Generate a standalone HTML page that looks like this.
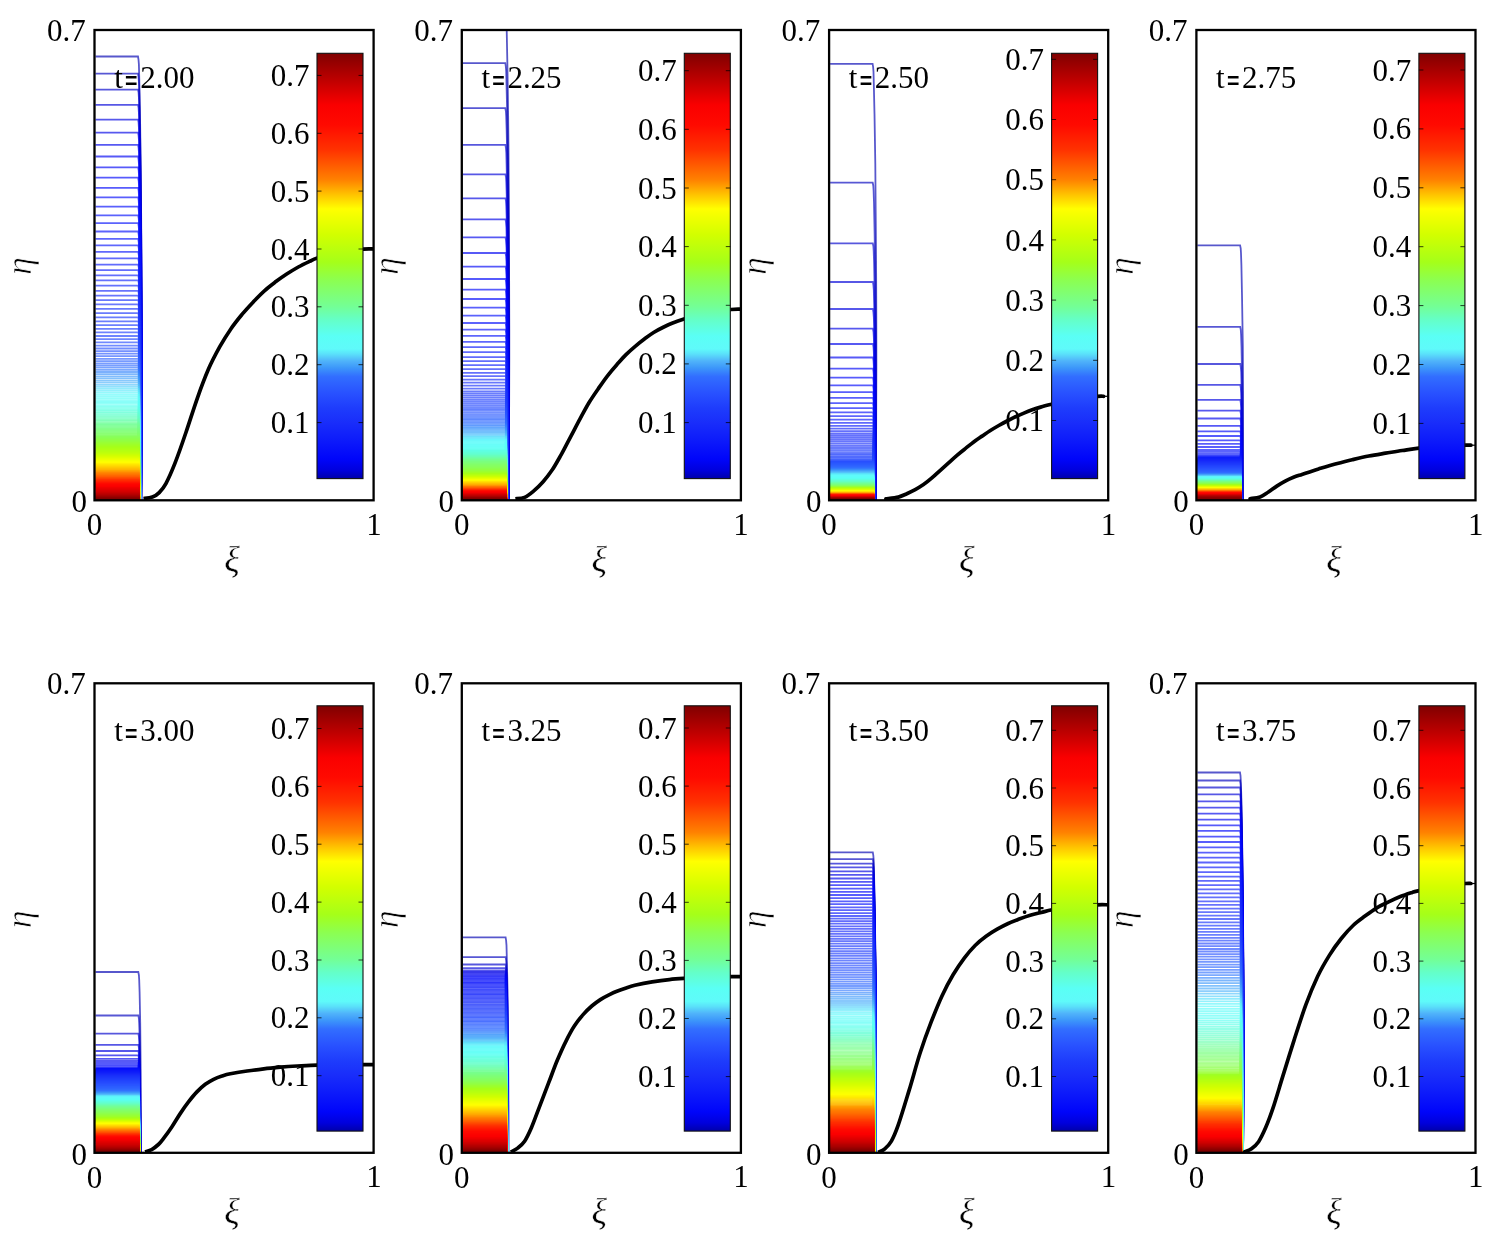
<!DOCTYPE html>
<html lang="en"><head><meta charset="utf-8"><title>Contour panels</title>
<style>html,body{margin:0;padding:0;background:#fff}svg{display:block}text{font-family:'Liberation Serif', 'DejaVu Serif', serif;fill:#000}.tk{font-size:31px;transform-box:fill-box;transform-origin:center;transform:scale(1,1.02)}.gk{font-size:36px;font-style:italic;stroke:#fff}.ax{fill:none;stroke:#000;stroke-width:2.3}.cv{fill:none;stroke:#000;stroke-width:3.7;stroke-linejoin:round}.ct path{fill:none;stroke-width:1.8;stroke-opacity:.66}.ct .a{stroke-width:1.9;stroke-opacity:.68}.ct .b{stroke-width:2.1;stroke-opacity:.8}.ct .c{stroke-width:2.2;stroke-opacity:1}</style></head><body>
<svg width="1495" height="1248" viewBox="0 0 1495 1248">
<rect width="1495" height="1248" fill="#fff"/>
<defs><linearGradient id="jet" x1="0" y1="1" x2="0" y2="0">
<stop offset="0.000" stop-color="#0000aa"/>
<stop offset="0.019" stop-color="#0000dc"/>
<stop offset="0.046" stop-color="#0005fa"/>
<stop offset="0.097" stop-color="#0f1efa"/>
<stop offset="0.131" stop-color="#192dfa"/>
<stop offset="0.165" stop-color="#1e3cfc"/>
<stop offset="0.199" stop-color="#2850ff"/>
<stop offset="0.240" stop-color="#326eff"/>
<stop offset="0.260" stop-color="#3c96fa"/>
<stop offset="0.277" stop-color="#50b4fa"/>
<stop offset="0.293" stop-color="#5ae1fa"/>
<stop offset="0.305" stop-color="#5ffafa"/>
<stop offset="0.335" stop-color="#5afff5"/>
<stop offset="0.373" stop-color="#64ffc8"/>
<stop offset="0.404" stop-color="#73ff96"/>
<stop offset="0.467" stop-color="#8cff50"/>
<stop offset="0.509" stop-color="#a5ff19"/>
<stop offset="0.573" stop-color="#d2ff00"/>
<stop offset="0.634" stop-color="#ffff00"/>
<stop offset="0.665" stop-color="#ffc800"/>
<stop offset="0.702" stop-color="#ff8200"/>
<stop offset="0.773" stop-color="#ff3200"/>
<stop offset="0.831" stop-color="#ff0a00"/>
<stop offset="0.878" stop-color="#fa0000"/>
<stop offset="0.937" stop-color="#be0000"/>
<stop offset="1.000" stop-color="#800000"/>
</linearGradient></defs>
<g id="panel1">
<clipPath id="cl0"><rect x="94.5" y="30" width="279.1" height="470.3"/></clipPath>
<g class="ct" clip-path="url(#cl0)">
<path d="M95.5 56.5H138L138.5 59.5L138.9 64.5L139.2 76.5L139.9 106.5L140.6 156.5L141.1 206.5L141.4 256.5L141.7 306.5L141.8 356.5L141.6 406.5L141.4 456.5L141.4 460.1L141.2 500.1" stroke="#0000b1"/>
<path d="M95.5 73.6H138L138.5 76.6L138.9 81.6L139.3 93.6L139.9 123.6L140.7 173.6L141.1 223.6L141.5 273.6L141.7 323.6L141.7 373.6L141.5 423.6L141.3 473.6L141.2 500.1" stroke="#0000be"/>
<path d="M95.5 89.6H138L138.6 92.6L138.9 97.6L139.3 109.6L139.9 139.6L140.7 189.6L141.2 239.6L141.5 289.6L141.7 339.6L141.6 389.6L141.5 439.6L141.2 500.1" stroke="#0000cb"/>
<path d="M95.5 104.9H138L138.6 107.9L138.9 112.9L139.3 124.9L140 154.9L140.7 204.9L141.2 254.9L141.5 304.9L141.7 354.9L141.6 404.9L141.4 454.9L141.2 500.1" stroke="#0000d8"/>
<path d="M95.5 119.7H138.1L138.6 122.7L138.9 127.7L139.3 139.7L140 169.7L140.7 219.7L141.2 269.7L141.5 319.7L141.6 369.7L141.5 419.7L141.3 469.7L141.2 500.1" stroke="#0001e0"/>
<path d="M95.5 132.6H138.1L138.6 135.6L139 140.6L139.3 152.6L140 182.6L140.7 232.6L141.2 282.6L141.5 332.6L141.6 382.6L141.5 432.6L141.3 482.6L141.2 500.1" stroke="#0002e5"/>
<path d="M95.5 144.9H138.1L138.6 147.9L139 152.9L139.3 164.9L140 194.9L140.8 244.9L141.2 294.9L141.6 344.9L141.5 394.9L141.4 444.9L141.2 500.1" stroke="#0003eb"/>
<path d="M95.5 156.5H138.1L138.6 159.5L139 164.5L139.4 176.5L140 206.5L140.8 256.5L141.3 306.5L141.5 356.5L141.5 406.5L141.3 456.5L141.2 500.1" stroke="#0003f1"/>
<path d="M95.5 167.4H138.1L138.7 170.4L139 175.4L139.4 187.4L140 217.4L140.8 267.4L141.3 317.4L141.5 367.4L141.4 417.4L141.3 467.4L141.2 500.1" stroke="#0004f6"/>
<path d="M95.5 177.7H138.1L138.7 180.7L139 185.7L139.4 197.7L140 227.7L140.8 277.7L141.3 327.7L141.5 377.7L141.4 427.7L141.3 477.7L141.2 500.1" stroke="#0006fa"/>
<path d="M95.5 187.9H138.2L138.7 190.9L139 195.9L139.4 207.9L140.1 237.9L140.8 287.9L141.3 337.9L141.4 387.9L141.3 437.9L141.2 500.1" stroke="#0208fa"/>
<path d="M95.5 197.4H138.2L138.7 200.4L139 205.4L139.4 217.4L140.1 247.4L140.8 297.4L141.3 347.4L141.4 397.4L141.3 447.4L141.2 500.1" stroke="#030bfa"/>
<path d="M95.5 206.7H138.2L138.7 209.7L139.1 214.7L139.4 226.7L140.1 256.7L140.8 306.7L141.3 356.7L141.3 406.7L141.3 456.7L141.1 500.1" stroke="#050dfa"/>
<path d="M95.5 215.3H138.2L138.7 218.3L139.1 223.3L139.4 235.3L140.1 265.3L140.8 315.3L141.3 365.3L141.3 415.3L141.2 465.3L141.1 500.1" stroke="#0610fa"/>
<path d="M95.5 223.2H138.2L138.7 226.2L139.1 231.2L139.4 243.2L140.1 273.2L140.9 323.2L141.2 373.2L141.3 423.2L141.2 473.2L141.1 500.1" stroke="#0812fa"/>
<path d="M95.5 231.5H138.2L138.7 234.5L139.1 239.5L139.5 251.5L140.1 281.5L140.9 331.5L141.2 381.5L141.2 431.5L141.2 481.5L141.1 500.1" stroke="#0914fa"/>
<path d="M95.5 238.9H138.2L138.7 241.9L139.1 246.9L139.5 258.9L140.1 288.9L140.9 338.9L141.2 388.9L141.2 438.9L141.1 500.1" stroke="#0b17fa"/>
<path d="M95.5 245.4H138.2L138.8 248.4L139.1 253.4L139.5 265.4L140.1 295.4L140.9 345.4L141.2 395.4L141.2 445.4L141.1 500.1" stroke="#0c19fa"/>
<path d="M95.5 251.8H138.2L138.8 254.8L139.1 259.8L139.5 271.8L140.1 301.8L140.9 351.8L141.1 401.8L141.2 451.8L141.1 500.1" stroke="#0e1cfa"/>
<path d="M95.5 258.3H138.2L138.8 261.3L139.1 266.3L139.5 278.3L140.1 308.3L140.9 358.3L141.1 408.3L141.1 458.3L141.1 500.1" stroke="#0f1efa"/>
<path d="M95.5 264.6H138.2L138.8 267.6L139.1 272.6L139.5 284.6L140.2 314.6L140.9 364.6L141.1 414.6L141.1 464.6L141.1 500.1" stroke="#1120fa"/>
<path d="M95.5 270.1H138.3L138.8 273.1L139.1 278.1L139.5 290.1L140.2 320.1L140.8 370.1L141.1 420.1L141.1 470.1L141.1 500.1" stroke="#1223fa"/>
<path d="M95.5 275.3H138.3L138.8 278.3L139.1 283.3L139.5 295.3L140.2 325.3L140.8 375.3L141.1 425.3L141.1 475.3L141 500.1" stroke="#1425fa"/>
<path d="M95.5 280.4H138.3L138.8 283.4L139.2 288.4L139.5 300.4L140.2 330.4L140.8 380.4L141 430.4L141.1 480.4L141 500.1" stroke="#1527fa"/>
<path d="M95.5 285.7H138.3L138.8 288.7L139.2 293.7L139.5 305.7L140.2 335.7L140.8 385.7L141 435.7L141 500.1" stroke="#1629fa"/>
<path d="M95.5 290.8H138.3L138.8 293.8L139.2 298.8L139.5 310.8L140.2 340.8L140.8 390.8L141 440.8L141 500.1" stroke="#182bfa"/>
<path d="M95.5 295.6H138.3L138.8 298.6L139.2 303.6L139.5 315.6L140.2 345.6L140.8 395.6L141 445.6L141 500.1" stroke="#192efa"/>
<path d="M95.5 300.1H138.3L138.8 303.1L139.2 308.1L139.5 320.1L140.2 350.1L140.8 400.1L141 450.1L141 500.1" stroke="#1a30fa"/>
<path d="M95.5 304.4H138.3L138.8 307.4L139.2 312.4L139.6 324.4L140.2 354.4L140.8 404.4L141 454.4L141 500.1" stroke="#1b32fb"/>
<path d="M95.5 308.8H138.3L138.8 311.8L139.2 316.8L139.6 328.8L140.2 358.8L140.7 408.8L140.9 458.8L141 500.1" stroke="#1b34fb"/>
<path d="M95.5 313.1H138.3L138.8 316.1L139.2 321.1L139.6 333.1L140.2 363.1L140.7 413.1L140.9 463.1L140.9 500.1" stroke="#1c36fb"/>
<path d="M95.5 317.4H138.3L138.8 320.4L139.2 325.4L139.6 337.4L140.2 367.4L140.7 417.4L140.9 467.4L140.9 500.1" stroke="#1d39fc"/>
<path d="M95.5 321.3H138.3L138.9 324.3L139.2 329.3L139.6 341.3L140.2 371.3L140.7 421.3L140.9 471.3L140.9 500.1" stroke="#1e3bfc"/>
<path d="M95.5 325.1H138.3L138.9 328.1L139.2 333.1L139.6 345.1L140.2 375.1L140.7 425.1L140.9 475.1L140.9 500.1" stroke="#1f3dfc"/>
<path d="M95.5 328.9H138.3L138.9 331.9L139.2 336.9L139.6 348.9L140.2 378.9L140.7 428.9L140.9 478.9L140.9 500.1" stroke="#2040fd"/>
<path d="M95.5 332.3H138.3L138.9 335.3L139.2 340.3L139.6 352.3L140.2 382.3L140.7 432.3L140.9 482.3L140.9 500.1" stroke="#2243fd"/>
<path d="M95.5 336H138.3L138.9 339L139.2 344L139.6 356L140.2 386L140.7 436L140.9 500.1" stroke="#2346fe"/>
<path d="M95.5 339.2H138.3L138.9 342.2L139.2 347.2L139.6 359.2L140.2 389.2L140.7 439.2L140.9 500.1" stroke="#2549fe"/>
<path d="M95.5 342.4H138.3L138.9 345.4L139.2 350.4L139.6 362.4L140.2 392.4L140.7 442.4L140.8 500.1" stroke="#264cfe"/>
<path d="M95.5 345.6H138.4L138.9 348.6L139.2 353.6L139.6 365.6L140.2 395.6L140.7 445.6L140.8 500.1" stroke="#284fff"/>
<path d="M95.5 348.5H138.4L138.9 351.5L139.2 356.5L139.6 368.5L140.1 398.5L140.6 448.5L140.8 500.1" stroke="#2953ff"/>
<path d="M95.5 351.1H138.4L138.9 354.1L139.2 359.1L139.6 371.1L140.1 401.1L140.6 451.1L140.8 500.1" stroke="#2a56ff"/>
<path d="M95.5 353.7H138.4L138.9 356.7L139.2 361.7L139.6 373.7L140.1 403.7L140.6 453.7L140.8 500.1" stroke="#2b5aff"/>
<path d="M95.5 356.2H138.4L138.9 359.2L139.2 364.2L139.6 376.2L140.1 406.2L140.6 456.2L140.8 500.1" stroke="#2d5eff"/>
<path d="M95.5 358.8H138.4L138.9 361.8L139.2 366.8L139.6 378.8L140.1 408.8L140.6 458.8L140.8 500.1" stroke="#2e61ff"/>
<path d="M95.5 361.2H138.4L138.8 364.2L139.1 369.2L139.5 381.2L140 411.2L140.5 461.2L140.6 500.1" stroke="#2f65ff"/>
<path d="M95.5 363.3H138.4L138.8 366.3L139.1 371.3L139.4 383.3L139.9 413.3L140.4 463.3L140.6 500.1" stroke="#3069ff"/>
<path d="M95.5 365.5H138.4L138.8 368.5L139.1 373.5L139.4 385.5L140 415.5L140.4 465.5L140.6 500.1" stroke="#316cff"/>
<path d="M95.5 367.6H138.4L138.8 370.6L139.1 375.6L139.4 387.6L139.9 417.6L140.4 467.6L140.5 500.1" stroke="#3373fe"/>
<path d="M95.5 369.8H138.4L138.8 372.8L139.1 377.8L139.4 389.8L139.9 419.8L140.4 469.8L140.5 500.1" stroke="#367dfd"/>
<path d="M95.5 372H138.4L138.8 375L139.1 380L139.4 392L139.9 422L140.4 472L140.5 500.1" stroke="#3887fc"/>
<path d="M95.5 374.1H138.4L138.8 377.1L139.1 382.1L139.4 394.1L139.9 424.1L140.4 474.1L140.5 500.1" stroke="#3b91fb"/>
<path d="M95.5 376.3H138.4L138.8 379.3L139.1 384.3L139.4 396.3L139.9 426.3L140.4 476.3L140.5 500.1" stroke="#3f9afa"/>
<path d="M95.5 378.4H138.4L138.8 381.4L139.1 386.4L139.4 398.4L139.9 428.4L140.4 478.4L140.5 500.1" stroke="#45a3fa"/>
<path d="M95.5 380.6H138.4L138.8 383.6L139.1 388.6L139.4 400.6L139.9 430.6L140.4 480.6L140.4 500.1" stroke="#4bacfa"/>
<path d="M95.5 382.7H138.4L138.8 385.7L139.1 390.7L139.4 402.7L139.9 432.7L140.4 482.7L140.4 500.1" stroke="#50b5fa"/>
<path d="M95.5 384.8H138.4L138.8 387.8L139.1 392.8L139.4 404.8L139.9 434.8L140.3 484.8L140.4 500.1" stroke="#53c3fa"/>
<path d="M95.5 386.9H138.4L138.8 389.9L139 394.9L139.4 406.9L139.9 436.9L140.4 500.1" stroke="#57d2fa"/>
<path d="M95.5 388.9H138.4L138.8 391.9L139 396.9L139.3 408.9L139.8 438.9L140.3 500.1" stroke="#5ae0fa"/>
<path d="M95.5 390.9H138.4L138.8 393.9L139 398.9L139.3 410.9L139.8 440.9L140.3 500.1" stroke="#5ceafa"/>
<path d="M95.5 392.9H138.4L138.7 395.9L139 400.9L139.3 412.9L139.8 442.9L140.3 500.1" stroke="#5ef5fa"/>
<path d="M95.5 394.8H138.4L138.7 397.8L139 402.8L139.3 414.8L139.8 444.8L140.2 500.1" stroke="#5ffafa"/>
<path d="M95.5 396.7H138.4L138.7 399.7L139 404.7L139.2 416.7L139.7 446.7L140.2 500.1" stroke="#5efbf9"/>
<path d="M95.5 398.5H138.4L138.7 401.5L138.9 406.5L139.2 418.5L139.7 448.5L140.1 500.1" stroke="#5dfcf8"/>
<path d="M95.5 400.3H138.4L138.7 403.3L138.9 408.3L139.2 420.3L139.7 450.3L140.1 500.1" stroke="#5cfdf7"/>
<path d="M95.5 402H138.4L138.7 405L138.9 410L139.2 422L139.6 452L140.1 500.1" stroke="#5bfef6"/>
<path d="M95.5 403.6H138.4L138.7 406.6L138.8 411.6L139.1 423.6L139.6 453.6L140 500.1" stroke="#5afff5"/>
<path d="M95.5 405.3H138.4L138.6 408.3L138.8 413.3L139.1 425.3L139.6 455.3L140 500.1" stroke="#5bfff2"/>
<path d="M95.5 406.9H138.4L138.6 409.9L138.8 414.9L139.1 426.9L139.6 456.9L140 500.1" stroke="#5cffec"/>
<path d="M95.5 408.4H138.4L138.6 411.4L138.8 416.4L139.1 428.4L139.6 458.4L139.9 500.1" stroke="#5dffe6"/>
<path d="M95.5 410H138.4L138.6 413L138.8 418L139.1 430L139.6 460L139.9 500.1" stroke="#5fffe0"/>
<path d="M95.5 411.5H138.4L138.6 414.5L138.8 419.5L139.1 431.5L139.5 461.5L139.9 500.1" stroke="#60ffda" class="a"/>
<path d="M95.5 412.9H138.4L138.6 415.9L138.8 420.9L139 432.9L139.5 462.9L139.9 500.1" stroke="#61ffd4" class="a"/>
<path d="M95.5 414.4H138.4L138.6 417.4L138.8 422.4L139 434.4L139.5 464.4L139.8 500.1" stroke="#63ffcf" class="a"/>
<path d="M95.5 415.8H138.4L138.6 418.8L138.8 423.8L139 435.8L139.5 465.8L139.8 500.1" stroke="#64ffc9" class="a"/>
<path d="M95.5 417.2H138.4L138.6 420.2L138.7 425.2L139 437.2L139.5 467.2L139.8 500.1" stroke="#66ffc1" class="a"/>
<path d="M95.5 418.6H138.4L138.6 421.6L138.7 426.6L139 438.6L139.5 468.6L139.8 500.1" stroke="#69ffb9" class="a"/>
<path d="M95.5 420H138.4L138.6 423L138.7 428L139 440L139.5 470L139.7 500.1" stroke="#6bffb1" class="a"/>
<path d="M95.5 421.3H138.4L138.6 424.3L138.7 429.3L139 441.3L139.4 471.3L139.7 500.1" stroke="#6dffa9" class="a"/>
<path d="M95.5 422.6H138.5L138.6 425.6L138.7 430.6L139 442.6L139.4 472.6L139.7 500.1" stroke="#70ffa0" class="a"/>
<path d="M95.5 423.9H138.5L138.6 426.9L138.7 431.9L139 443.9L139.4 473.9L139.7 500.1" stroke="#72ff98" class="b"/>
<path d="M95.5 425.2H138.5L138.6 428.2L138.7 433.2L138.9 445.2L139.4 475.2L139.6 500.1" stroke="#74ff92" class="b"/>
<path d="M95.5 426.5H138.5L138.6 429.5L138.7 434.5L138.9 446.5L139.4 476.5L139.6 500.1" stroke="#76ff8d" class="b"/>
<path d="M95.5 427.7H138.5L138.5 430.7L138.7 435.7L138.9 447.7L139.4 477.7L139.6 500.1" stroke="#78ff87" class="b"/>
<path d="M95.5 429H138.5L138.5 432L138.7 437L138.9 449L139.4 479L139.6 500.1" stroke="#7aff81" class="b"/>
<path d="M95.5 430.2H138.5L138.5 433.2L138.7 438.2L138.9 450.2L139.4 480.2L139.6 500.1" stroke="#7cff7c" class="b"/>
<path d="M95.5 431.4H138.5L138.5 434.4L138.7 439.4L138.9 451.4L139.4 481.4L139.5 500.1" stroke="#7eff76" class="b"/>
<path d="M95.5 432.6H138.5L138.5 435.6L138.7 440.6L138.9 452.6L139.4 482.6L139.5 500.1" stroke="#80ff71" class="b"/>
<path d="M95.5 433.7H138.5L138.5 436.7L138.7 441.7L138.9 453.7L139.4 483.7L139.5 500.1" stroke="#82ff6b" class="b"/>
<path d="M95.5 434.9H138.5L138.5 437.9L138.7 442.9L138.9 454.9L139.4 484.9L139.5 500.1" stroke="#84ff66" class="b"/>
<path d="M95.5 436H138.5L138.5 439L138.7 444L138.9 456L139.5 500.1" stroke="#86ff60" class="b"/>
<path d="M95.5 437.1H138.5L138.5 440.1L138.7 445.1L138.9 457.1L139.5 500.1" stroke="#88ff5b" class="c"/>
<path d="M95.5 438.2H138.5L138.5 441.2L138.7 446.2L138.9 458.2L139.5 500.1" stroke="#8aff55" class="c"/>
<path d="M95.5 439.2H138.5L138.5 442.2L138.7 447.2L138.9 459.2L139.5 500.1" stroke="#8cff4f" class="c"/>
<path d="M95.5 440.2H138.5L138.5 443.2L138.7 448.2L138.9 460.2L139.5 500.1" stroke="#8fff49" class="c"/>
<path d="M95.5 441.3H138.5L138.5 444.3L138.7 449.3L138.9 461.3L139.4 500.1" stroke="#92ff42" class="c"/>
<path d="M95.5 442.3H138.5L138.5 445.3L138.7 450.3L138.9 462.3L139.4 500.1" stroke="#95ff3c" class="c"/>
<path d="M95.5 443.2H138.5L138.5 446.2L138.7 451.2L138.9 463.2L139.4 500.1" stroke="#98ff35" class="c"/>
<path d="M95.5 444.2H138.5L138.6 447.2L138.7 452.2L138.9 464.2L139.4 500.1" stroke="#9bff2f" class="c"/>
<path d="M95.5 445.2H138.5L138.6 448.2L138.7 453.2L138.9 465.2L139.4 500.1" stroke="#9eff28" class="c"/>
<path d="M95.5 446.1H138.5L138.6 449.1L138.7 454.1L138.9 466.1L139.4 500.1" stroke="#a1ff22" class="c"/>
<path d="M95.5 447.1H138.5L138.6 450.1L138.7 455.1L138.9 467.1L139.4 500.1" stroke="#a4ff1b" class="c"/>
<path d="M95.5 448H138.5L138.6 451L138.7 456L138.9 468L139.4 500.1" stroke="#a7ff18" class="c"/>
<path d="M95.5 448.9H138.5L138.6 451.9L138.7 456.9L138.9 468.9L139.4 500.1" stroke="#abff16" class="c"/>
<path d="M95.5 449.8H138.5L138.6 452.8L138.7 457.8L138.9 469.8L139.3 500.1" stroke="#aeff14" class="c"/>
<path d="M95.5 450.7H138.5L138.6 453.7L138.7 458.7L138.9 470.7L139.3 500.1" stroke="#b2ff12" class="c"/>
<path d="M95.5 451.5H138.5L138.6 454.5L138.7 459.5L138.9 471.5L139.3 500.1" stroke="#b6ff10" class="c"/>
<path d="M95.5 452.3H138.5L138.6 455.3L138.7 460.3L138.9 472.3L139.3 500.1" stroke="#b9ff0e" class="c"/>
<path d="M95.5 453.1H138.5L138.6 456.1L138.7 461.1L138.9 473.1L139.3 500.1" stroke="#bdff0c" class="c"/>
<path d="M95.5 453.8H138.5L138.6 456.8L138.7 461.8L138.9 473.8L139.3 500.1" stroke="#c0ff0a" class="c"/>
<path d="M95.5 454.5H138.5L138.6 457.5L138.7 462.5L138.9 474.5L139.3 500.1" stroke="#c4ff08" class="c"/>
<path d="M95.5 455.1H138.5L138.6 458.1L138.7 463.1L138.9 475.1L139.3 500.1" stroke="#c7ff06" class="c"/>
<path d="M95.5 455.7H138.5L138.6 458.7L138.7 463.7L138.9 475.7L139.3 500.1" stroke="#cbff04" class="c"/>
<path d="M95.5 456.2H138.5L138.6 459.2L138.7 464.2L138.9 476.2L139.3 500.1" stroke="#ceff02" class="c"/>
<path d="M95.5 456.7H138.5L138.6 459.7L138.7 464.7L138.9 476.7L139.3 500.1" stroke="#d2ff00" class="c"/>
<path d="M95.5 457.2H138.5L138.6 460.2L138.7 465.2L138.9 477.2L139.2 500.1" stroke="#d5ff00" class="c"/>
<path d="M95.5 457.7H138.5L138.6 460.7L138.7 465.7L138.9 477.7L139.2 500.1" stroke="#d9ff00" class="c"/>
<path d="M95.5 458.2H138.5L138.6 461.2L138.7 466.2L138.9 478.2L139.2 500.1" stroke="#ddff00" class="c"/>
<path d="M95.5 458.7H138.5L138.6 461.7L138.7 466.7L138.9 478.7L139.2 500.1" stroke="#e0ff00" class="c"/>
<path d="M95.5 459.1H138.5L138.6 462.1L138.7 467.1L138.9 479.1L139.2 500.1" stroke="#e4ff00" class="c"/>
<path d="M95.5 459.6H138.5L138.6 462.6L138.7 467.6L138.9 479.6L139.2 500.1" stroke="#e8ff00" class="c"/>
<path d="M95.5 460.1H138.5L138.6 463.1L138.7 468.1L138.9 480.1L139.2 500.1" stroke="#ebff00" class="c"/>
<path d="M95.5 460.6H138.5L138.6 463.6L138.7 468.6L138.9 480.6L139.2 500.1" stroke="#efff00" class="c"/>
<path d="M95.5 461.1H138.5L138.6 464.1L138.7 469.1L138.9 481.1L139.2 500.1" stroke="#f3ff00" class="c"/>
<path d="M95.5 461.7H138.5L138.6 464.7L138.7 469.7L138.9 481.7L139.2 500.1" stroke="#f7ff00" class="c"/>
<path d="M95.5 462.2H138.5L138.6 465.2L138.7 470.2L138.9 482.2L139.2 500.1" stroke="#faff00" class="c"/>
<path d="M95.5 462.8H138.5L138.6 465.8L138.7 470.8L138.9 482.8L139.2 500.1" stroke="#feff00" class="c"/>
<path d="M95.5 463.5H138.5L138.6 466.5L138.7 471.5L138.9 483.5L139.2 500.1" stroke="#fff900" class="c"/>
<path d="M95.5 464.2H138.5L138.6 467.2L138.7 472.2L138.9 484.2L139.2 500.1" stroke="#fff000" class="c"/>
<path d="M95.5 465.1H138.5L138.6 468.1L138.7 473.1L138.9 485.1L139.1 500.1" stroke="#ffe700" class="c"/>
<path d="M95.5 465.9H138.5L138.6 468.9L138.7 473.9L139.1 500.1" stroke="#ffde00" class="c"/>
<path d="M95.5 466.9H138.5L138.6 469.9L138.7 474.9L139.1 500.1" stroke="#ffd500" class="c"/>
<path d="M95.5 467.8H138.5L138.6 470.8L138.7 475.8L139.1 500.1" stroke="#ffcc00" class="c"/>
<path d="M95.5 468.7H138.5L138.6 471.7L138.7 476.7L139.1 500.1" stroke="#ffc300" class="c"/>
<path d="M95.5 469.6H138.5L138.6 472.6L138.7 477.6L139.1 500.1" stroke="#ffba00" class="c"/>
<path d="M95.5 470.5H138.5L138.6 473.5L138.7 478.5L139.1 500.1" stroke="#ffb000" class="c"/>
<path d="M95.5 471.2H138.5L138.6 474.2L138.7 479.2L139.1 500.1" stroke="#ffa700" class="c"/>
<path d="M95.5 471.9H138.5L138.6 474.9L138.7 479.9L139 500.1" stroke="#ff9d00" class="c"/>
<path d="M95.5 472.6H138.5L138.6 475.6L138.7 480.6L139 500.1" stroke="#ff9400" class="c"/>
<path d="M95.5 473.2H138.5L138.6 476.2L138.7 481.2L139 500.1" stroke="#ff8b00" class="c"/>
<path d="M95.5 473.8H138.5L138.6 476.8L138.7 481.8L139 500.1" stroke="#ff8100" class="c"/>
<path d="M95.5 474.4H138.5L138.6 477.4L138.7 482.4L139 500.1" stroke="#ff7c00" class="c"/>
<path d="M95.5 475H138.5L138.6 478L138.7 483L139 500.1" stroke="#ff7600" class="c"/>
<path d="M95.5 475.6H138.5L138.6 478.6L138.7 483.6L139 500.1" stroke="#ff7100" class="c"/>
<path d="M95.5 476.1H138.5L138.6 479.1L138.7 484.1L139 500.1" stroke="#ff6b00" class="c"/>
<path d="M95.5 476.6H138.5L138.6 479.6L138.7 484.6L139 500.1" stroke="#ff6500" class="c"/>
<path d="M95.5 477.1H138.5L138.6 480.1L139 500.1" stroke="#ff6000" class="c"/>
<path d="M95.5 477.6H138.5L138.6 480.6L139 500.1" stroke="#ff5a00" class="c"/>
<path d="M95.5 478.1H138.5L138.6 481.1L138.9 500.1" stroke="#ff5400" class="c"/>
<path d="M95.5 478.5H138.5L138.6 481.5L138.9 500.1" stroke="#ff4f00" class="c"/>
<path d="M95.5 478.9H138.5L138.6 481.9L138.9 500.1" stroke="#ff4900" class="c"/>
<path d="M95.5 479.4H138.5L138.6 482.4L138.9 500.1" stroke="#ff4300" class="c"/>
<path d="M95.5 479.8H138.5L138.6 482.8L138.9 500.1" stroke="#ff3e00" class="c"/>
<path d="M95.5 480.1H138.5L138.6 483.1L138.9 500.1" stroke="#ff3800" class="c"/>
<path d="M95.5 480.5H138.5L138.6 483.5L138.9 500.1" stroke="#ff3300" class="c"/>
<path d="M95.5 480.9H138.5L138.6 483.9L138.9 500.1" stroke="#ff2f00" class="c"/>
<path d="M95.5 481.3H138.5L138.6 484.3L138.9 500.1" stroke="#ff2b00" class="c"/>
<path d="M95.5 481.6H138.5L138.6 484.6L138.9 500.1" stroke="#ff2800" class="c"/>
<path d="M95.5 482H138.5L138.6 485L138.9 500.1" stroke="#ff2500" class="c"/>
<path d="M95.5 482.3H138.5L138.9 500.1" stroke="#ff2100" class="c"/>
<path d="M95.5 482.7H138.5L138.9 500.1" stroke="#ff1e00" class="c"/>
<path d="M95.5 483H138.5L138.9 500.1" stroke="#ff1a00" class="c"/>
<path d="M95.5 483.4H138.5L138.9 500.1" stroke="#ff1700" class="c"/>
<path d="M95.5 483.7H138.5L138.9 500.1" stroke="#ff1300" class="c"/>
<path d="M95.5 484H138.5L138.8 500.1" stroke="#ff1000" class="c"/>
<path d="M95.5 484.2H138.5L138.8 500.1" stroke="#ff0c00" class="c"/>
<path d="M95.5 484.5H138.5L138.8 500.1" stroke="#ff0a00" class="c"/>
<path d="M95.5 484.8H138.5L138.8 500.1" stroke="#fe0900" class="c"/>
<path d="M95.5 485.1H138.5L138.8 500.1" stroke="#fe0800" class="c"/>
<path d="M95.5 485.4H138.5L138.8 500.1" stroke="#fd0600" class="c"/>
<path d="M95.5 485.7H138.5L138.8 500.1" stroke="#fd0500" class="c"/>
<path d="M95.5 486H138.5L138.8 500.1" stroke="#fc0400" class="c"/>
<path d="M95.5 486.3H138.5L138.8 500.1" stroke="#fc0300" class="c"/>
<path d="M95.5 486.6H138.5L138.8 500.1" stroke="#fb0200" class="c"/>
<path d="M95.5 487H138.5L138.8 500.1" stroke="#fb0100" class="c"/>
<path d="M95.5 487.4H138.5L138.8 500.1" stroke="#fa0000" class="c"/>
<path d="M95.5 487.8H138.5L138.8 500.1" stroke="#f50000" class="c"/>
<path d="M95.5 488.3H138.5L138.8 500.1" stroke="#f00000" class="c"/>
<path d="M95.5 488.9H138.5L138.8 500.1" stroke="#eb0000" class="c"/>
<path d="M95.5 489.5H138.5L138.8 500.1" stroke="#e60000" class="c"/>
<path d="M95.5 490.2H138.5L138.7 500.1" stroke="#e10000" class="c"/>
<path d="M95.5 491H138.5L138.7 500.1" stroke="#dc0000" class="c"/>
<path d="M95.5 491.7H138.5L138.7 500.1" stroke="#d70000" class="c"/>
<path d="M95.5 492.4H138.5L138.7 500.1" stroke="#d20000" class="c"/>
<path d="M95.5 493.1H138.5L138.7 500.1" stroke="#cd0000" class="c"/>
<path d="M95.5 493.7H138.5L138.7 500.1" stroke="#c80000" class="c"/>
<path d="M95.5 494.2H138.5L138.7 500.1" stroke="#c30000" class="c"/>
<path d="M95.5 494.7H138.5L138.7 500.1" stroke="#be0000" class="c"/>
<path d="M95.5 495.1H138.5L138.6 500.1" stroke="#b90000" class="c"/>
<path d="M95.5 495.6H138.5L138.6 500.1" stroke="#b40000" class="c"/>
<path d="M95.5 496H138.5L138.6 500.1" stroke="#af0000" class="c"/>
<path d="M95.5 496.4H138.5L138.6 500.1" stroke="#aa0000" class="c"/>
<path d="M95.5 496.8H138.5L138.6 500.1" stroke="#a50000" class="c"/>
<path d="M95.5 497.2H138.5L138.6 500.1" stroke="#a00000" class="c"/>
<path d="M95.5 497.6H138.5L138.6 500.1" stroke="#9b0000" class="c"/>
<path d="M95.5 497.9H138.5L138.6 500.1" stroke="#960000" class="c"/>
<path d="M95.5 498.3H138.5L138.6 500.1" stroke="#910000" class="c"/>
<path d="M95.5 498.6H138.5L138.6 500.1" stroke="#8c0000" class="c"/>
<path d="M95.5 498.8H138.5L138.6 500.1" stroke="#870000" class="c"/>
<path d="M95.5 499.1H138.5L138.6 500.1" stroke="#820000" class="c"/>
</g>
<path class="cv" clip-path="url(#cl0)" d="M143.5 498.6C145 498.4 149.8 498.1 152.4 497.1C155 496.1 156.9 494.9 159.2 492.6C161.4 490.4 163.3 488.5 165.9 483.6C168.5 478.7 171.5 472 174.9 463.4C178.3 454.8 182.4 442.9 186.1 432C189.8 421.1 193.6 408.8 197.3 398.3C201 387.8 204.8 377.7 208.5 369.1C212.2 360.5 216.1 353.4 219.8 346.7C223.6 340 227.3 334.1 231 328.7C234.7 323.3 238.5 318.7 242.2 314.2C245.9 309.7 249.7 305.7 253.4 301.8C257.1 297.9 260.9 294 264.7 290.6C268.4 287.2 272.2 284.4 275.9 281.6C279.6 278.8 283.4 276.2 287.1 273.8C290.8 271.4 294.6 269.1 298.3 267C302 264.9 306.3 262.9 309.5 261.4C312.7 259.9 312.3 259.6 317.4 258C322.5 256.4 332.3 253.1 340 251.6C347.7 250.1 357.8 249.5 363.4 249.1C369 248.7 371.8 249 373.5 249"/>
<rect x="317" y="53.3" width="46" height="425.3" fill="url(#jet)" stroke="#111" stroke-width="1.1"/>
<path d="M317 75.4h4.5M363 75.4h-4.5" stroke="#000" stroke-opacity=".75" stroke-width="1" fill="none"/>
<text class="tk" x="309.4" y="85.8" text-anchor="end">0.7</text>
<path d="M317 133.3h4.5M363 133.3h-4.5" stroke="#000" stroke-opacity=".75" stroke-width="1" fill="none"/>
<text class="tk" x="309.4" y="143.7" text-anchor="end">0.6</text>
<path d="M317 191.1h4.5M363 191.1h-4.5" stroke="#000" stroke-opacity=".75" stroke-width="1" fill="none"/>
<text class="tk" x="309.4" y="201.5" text-anchor="end">0.5</text>
<path d="M317 249h4.5M363 249h-4.5" stroke="#000" stroke-opacity=".75" stroke-width="1" fill="none"/>
<text class="tk" x="309.4" y="259.4" text-anchor="end">0.4</text>
<path d="M317 306.8h4.5M363 306.8h-4.5" stroke="#000" stroke-opacity=".75" stroke-width="1" fill="none"/>
<text class="tk" x="309.4" y="317.2" text-anchor="end">0.3</text>
<path d="M317 364.7h4.5M363 364.7h-4.5" stroke="#000" stroke-opacity=".75" stroke-width="1" fill="none"/>
<text class="tk" x="309.4" y="375.1" text-anchor="end">0.2</text>
<path d="M317 422.6h4.5M363 422.6h-4.5" stroke="#000" stroke-opacity=".75" stroke-width="1" fill="none"/>
<text class="tk" x="309.4" y="433" text-anchor="end">0.1</text>
<rect class="ax" x="94.5" y="30" width="279.1" height="470.3"/>
<text class="tk" x="85.7" y="40.5" text-anchor="end">0.7</text>
<text class="tk" x="86.9" y="512.1" text-anchor="end">0</text>
<text class="tk" x="94.5" y="535.1" text-anchor="middle">0</text>
<text class="tk" x="373.9" y="534.7" text-anchor="middle">1</text>
<text class="gk" x="231.9" y="570.8" text-anchor="middle" stroke-width=".3">ξ</text>
<text class="gk" stroke-width=".7" text-anchor="middle" transform="translate(31 266) rotate(-90)">η</text>
<text class="tk" x="114.2" y="87.4">t<tspan x="124.8" dy="4" font-size="33px" font-weight="bold" textLength="13.1" lengthAdjust="spacingAndGlyphs">=</tspan><tspan x="140.2" dy="-4">2.00</tspan></text>
</g>
<g id="panel2">
<clipPath id="cl1"><rect x="461.8" y="30" width="279.1" height="470.3"/></clipPath>
<g class="ct" clip-path="url(#cl1)">
<path d="M506.7 30L507.3 60L507.8 90L508.2 120L508.5 150L508.7 180L508.9 210L509 240L509.1 270L509.2 300L509.3 330L509.3 360L509.2 390L509.1 420L509 450L508.8 480L508.7 500.1" stroke="#0000aa"/>
<path d="M462.8 63.1H505.3L505.8 66.1L506.2 71.1L506.5 83.1L507.2 113.1L508 163.1L508.4 213.1L508.8 263.1L509 313.1L509.1 363.1L508.9 413.1L508.7 463.1L508.5 500.1" stroke="#0000b1"/>
<path d="M462.8 108.2H505.3L505.9 111.2L506.2 116.2L506.6 128.2L507.3 158.2L508 208.2L508.5 258.2L508.8 308.2L509 358.2L508.9 408.2L508.7 458.2L508.5 500.1" stroke="#0000be"/>
<path d="M462.8 144.8H505.4L505.9 147.8L506.3 152.8L506.6 164.8L507.3 194.8L508.1 244.8L508.5 294.8L508.9 344.8L508.8 394.8L508.7 444.8L508.5 500.1" stroke="#0000cb"/>
<path d="M462.8 174.3H505.4L506 177.3L506.3 182.3L506.7 194.3L507.3 224.3L508.1 274.3L508.6 324.3L508.8 374.3L508.7 424.3L508.6 474.3L508.5 500.1" stroke="#0000d8"/>
<path d="M462.8 198.4H505.5L506 201.4L506.3 206.4L506.7 218.4L507.4 248.4L508.1 298.4L508.6 348.4L508.7 398.4L508.6 448.4L508.5 500.1" stroke="#0001e0"/>
<path d="M462.8 219.4H505.5L506 222.4L506.4 227.4L506.7 239.4L507.4 269.4L508.2 319.4L508.5 369.4L508.6 419.4L508.5 469.4L508.4 500.1" stroke="#0002e5"/>
<path d="M462.8 237.4H505.5L506 240.4L506.4 245.4L506.8 257.4L507.4 287.4L508.2 337.4L508.5 387.4L508.5 437.4L508.4 500.1" stroke="#0003eb"/>
<path d="M462.8 253H505.5L506.1 256L506.4 261L506.8 273L507.4 303L508.2 353L508.4 403L508.5 453L508.4 500.1" stroke="#0003f1"/>
<path d="M462.8 266.7H505.6L506.1 269.7L506.4 274.7L506.8 286.7L507.5 316.7L508.2 366.7L508.4 416.7L508.4 466.7L508.4 500.1" stroke="#0004f6"/>
<path d="M462.8 279H505.6L506.1 282L506.5 287L506.8 299L507.5 329L508.1 379L508.3 429L508.4 479L508.3 500.1" stroke="#0006fa"/>
<path d="M462.8 289.7H505.6L506.1 292.7L506.5 297.7L506.8 309.7L507.5 339.7L508.1 389.7L508.3 439.7L508.3 500.1" stroke="#0208fa"/>
<path d="M462.8 299H505.6L506.1 302L506.5 307L506.8 319L507.5 349L508.1 399L508.3 449L508.3 500.1" stroke="#030bfa"/>
<path d="M462.8 307.7H505.6L506.1 310.7L506.5 315.7L506.9 327.7L507.5 357.7L508 407.7L508.2 457.7L508.3 500.1" stroke="#050dfa"/>
<path d="M462.8 315.7H505.6L506.1 318.7L506.5 323.7L506.9 335.7L507.5 365.7L508 415.7L508.2 465.7L508.2 500.1" stroke="#0610fa"/>
<path d="M462.8 323H505.6L506.2 326L506.5 331L506.9 343L507.5 373L508 423L508.2 473L508.2 500.1" stroke="#0812fa"/>
<path d="M462.8 329.7H505.6L506.2 332.7L506.5 337.7L506.9 349.7L507.5 379.7L508 429.7L508.2 479.7L508.2 500.1" stroke="#0914fa"/>
<path d="M462.8 335.8H505.6L506.2 338.8L506.5 343.8L506.9 355.8L507.5 385.8L508 435.8L508.2 500.1" stroke="#0b17fa"/>
<path d="M462.8 341.8H505.6L506.2 344.8L506.5 349.8L506.9 361.8L507.5 391.8L508 441.8L508.1 500.1" stroke="#0c19fa"/>
<path d="M462.8 347.2H505.7L506.2 350.2L506.5 355.2L506.9 367.2L507.4 397.2L507.9 447.2L508.1 500.1" stroke="#0e1cfa"/>
<path d="M462.8 352.2H505.7L506.2 355.2L506.5 360.2L506.9 372.2L507.4 402.2L507.9 452.2L508.1 500.1" stroke="#0f1efa"/>
<path d="M462.8 357.2H505.7L506.2 360.2L506.5 365.2L506.9 377.2L507.4 407.2L507.9 457.2L508.1 500.1" stroke="#1120fa"/>
<path d="M462.8 361.2H505.7L506.2 364.2L506.5 369.2L506.9 381.2L507.4 411.2L507.9 461.2L508.1 500.1" stroke="#1223fa"/>
<path d="M462.8 365.2H505.7L506.2 368.2L506.6 373.2L506.9 385.2L507.4 415.2L507.9 465.2L508 500.1" stroke="#1425fa"/>
<path d="M462.8 369.2H505.7L506.2 372.2L506.6 377.2L506.9 389.2L507.4 419.2L507.9 469.2L508 500.1" stroke="#1527fa"/>
<path d="M462.8 372.8H505.7L506.2 375.8L506.6 380.8L506.9 392.8L507.4 422.8L507.9 472.8L508 500.1" stroke="#1629fa"/>
<path d="M462.8 376.2H505.7L506.2 379.2L506.6 384.2L506.9 396.2L507.4 426.2L507.9 476.2L508 500.1" stroke="#182bfa"/>
<path d="M462.8 379.6H505.7L506.2 382.6L506.6 387.6L506.9 399.6L507.4 429.6L507.9 479.6L508 500.1" stroke="#192efa"/>
<path d="M462.8 382.6H505.7L506.2 385.6L506.6 390.6L506.9 402.6L507.4 432.6L507.9 482.6L507.9 500.1" stroke="#1a30fa"/>
<path d="M462.8 385.6H505.7L506.2 388.6L506.6 393.6L506.9 405.6L507.4 435.6L507.9 500.1" stroke="#1b32fb"/>
<path d="M462.8 388.6H505.7L506.2 391.6L506.6 396.6L506.9 408.6L507.4 438.6L507.9 500.1" stroke="#1b34fb"/>
<path d="M462.8 391.3H505.7L506.2 394.3L506.5 399.3L506.9 411.3L507.4 441.3L507.8 500.1" stroke="#1c36fb"/>
<path d="M462.8 393.4H505.7L506.1 396.4L506.4 401.4L506.7 413.4L507.2 443.4L507.7 500.1" stroke="#1d39fc"/>
<path d="M462.8 395.5H505.7L506.1 398.5L506.4 403.5L506.7 415.5L507.2 445.5L507.6 500.1" stroke="#1e3bfc"/>
<path d="M462.8 397.6H505.7L506.1 400.6L506.3 405.6L506.6 417.6L507.1 447.6L507.6 500.1" stroke="#1f3dfc"/>
<path d="M462.8 399.6H505.7L506.1 402.6L506.3 407.6L506.6 419.6L507.1 449.6L507.5 500.1" stroke="#2040fd"/>
<path d="M462.8 401.5H505.7L506.1 404.5L506.3 409.5L506.6 421.5L507.1 451.5L507.5 500.1" stroke="#2243fd"/>
<path d="M462.8 403.5H505.7L506 406.5L506.3 411.5L506.6 423.5L507.1 453.5L507.5 500.1" stroke="#2346fe"/>
<path d="M462.8 405.3H505.7L506 408.3L506.3 413.3L506.5 425.3L507 455.3L507.4 500.1" stroke="#2549fe"/>
<path d="M462.8 407.2H505.7L506 410.2L506.2 415.2L506.5 427.2L507 457.2L507.4 500.1" stroke="#264cfe"/>
<path d="M462.8 409H505.7L506 412L506.2 417L506.5 429L507 459L507.4 500.1" stroke="#284fff"/>
<path d="M462.8 410.7H505.7L506 413.7L506.2 418.7L506.5 430.7L507 460.7L507.3 500.1" stroke="#2953ff"/>
<path d="M462.8 412.4H505.7L506 415.4L506.2 420.4L506.5 432.4L506.9 462.4L507.3 500.1" stroke="#2a56ff"/>
<path d="M462.8 414.1H505.7L506 417.1L506.2 422.1L506.5 434.1L506.9 464.1L507.3 500.1" stroke="#2b5aff"/>
<path d="M462.8 415.8H505.7L506 418.8L506.2 423.8L506.4 435.8L506.9 465.8L507.2 500.1" stroke="#2d5eff"/>
<path d="M462.8 417.4H505.7L506 420.4L506.1 425.4L506.4 437.4L506.9 467.4L507.2 500.1" stroke="#2e61ff"/>
<path d="M462.8 419H505.7L506 422L506.1 427L506.4 439L506.9 469L507.2 500.1" stroke="#2f65ff"/>
<path d="M462.8 420.5H505.7L505.9 423.5L506.1 428.5L506.4 440.5L506.9 470.5L507.1 500.1" stroke="#3069ff"/>
<path d="M462.8 422.1H505.8L505.9 425.1L506.1 430.1L506.4 442.1L506.8 472.1L507.1 500.1" stroke="#316cff"/>
<path d="M462.8 423.6H505.8L505.9 426.6L506.1 431.6L506.4 443.6L506.8 473.6L507.1 500.1" stroke="#3373fe" class="a"/>
<path d="M462.8 425.1H505.8L505.9 428.1L506.1 433.1L506.3 445.1L506.8 475.1L507 500.1" stroke="#367dfd" class="a"/>
<path d="M462.8 426.5H505.8L505.9 429.5L506.1 434.5L506.3 446.5L506.8 476.5L507 500.1" stroke="#3887fc" class="a"/>
<path d="M462.8 427.9H505.8L505.9 430.9L506.1 435.9L506.3 447.9L506.8 477.9L507 500.1" stroke="#3b91fb" class="a"/>
<path d="M462.8 429.3H505.8L505.9 432.3L506.1 437.3L506.3 449.3L506.8 479.3L507 500.1" stroke="#3f9afa" class="a"/>
<path d="M462.8 430.7H505.8L505.9 433.7L506 438.7L506.3 450.7L506.8 480.7L506.9 500.1" stroke="#45a3fa" class="a"/>
<path d="M462.8 432.1H505.8L505.9 435.1L506 440.1L506.3 452.1L506.7 482.1L506.9 500.1" stroke="#4bacfa" class="a"/>
<path d="M462.8 433.4H505.8L505.9 436.4L506 441.4L506.3 453.4L506.7 483.4L506.9 500.1" stroke="#50b5fa" class="a"/>
<path d="M462.8 434.8H505.8L505.9 437.8L506 442.8L506.3 454.8L506.7 484.8L506.9 500.1" stroke="#53c3fa" class="a"/>
<path d="M462.8 436.1H505.8L505.9 439.1L506 444.1L506.3 456.1L506.9 500.1" stroke="#57d2fa" class="a"/>
<path d="M462.8 437.4H505.8L505.9 440.4L506 445.4L506.3 457.4L506.8 500.1" stroke="#5ae0fa" class="b"/>
<path d="M462.8 438.7H505.8L505.9 441.7L506 446.7L506.2 458.7L506.8 500.1" stroke="#5ceafa" class="b"/>
<path d="M462.8 440H505.8L505.9 443L506 448L506.2 460L506.8 500.1" stroke="#5ef5fa" class="b"/>
<path d="M462.8 441.2H505.8L505.9 444.2L506 449.2L506.2 461.2L506.8 500.1" stroke="#5ffafa" class="b"/>
<path d="M462.8 442.5H505.8L505.9 445.5L506 450.5L506.2 462.5L506.8 500.1" stroke="#5efbf9" class="b"/>
<path d="M462.8 443.7H505.8L505.9 446.7L506 451.7L506.2 463.7L506.7 500.1" stroke="#5dfcf8" class="b"/>
<path d="M462.8 445H505.8L505.9 448L506 453L506.2 465L506.7 500.1" stroke="#5cfdf7" class="b"/>
<path d="M462.8 446.2H505.8L505.9 449.2L506 454.2L506.2 466.2L506.7 500.1" stroke="#5bfef6" class="b"/>
<path d="M462.8 447.4H505.8L505.9 450.4L506 455.4L506.2 467.4L506.7 500.1" stroke="#5afff5" class="b"/>
<path d="M462.8 448.6H505.8L505.9 451.6L506 456.6L506.2 468.6L506.7 500.1" stroke="#5bfff2" class="b"/>
<path d="M462.8 449.8H505.8L505.9 452.8L506 457.8L506.2 469.8L506.6 500.1" stroke="#5cffec" class="b"/>
<path d="M462.8 450.9H505.8L505.9 453.9L506 458.9L506.2 470.9L506.6 500.1" stroke="#5dffe6" class="c"/>
<path d="M462.8 451.9H505.8L505.9 454.9L506 459.9L506.2 471.9L506.6 500.1" stroke="#5fffe0" class="c"/>
<path d="M462.8 452.9H505.8L505.9 455.9L506 460.9L506.2 472.9L506.6 500.1" stroke="#60ffda" class="c"/>
<path d="M462.8 453.8H505.8L505.9 456.8L506 461.8L506.2 473.8L506.6 500.1" stroke="#61ffd4" class="c"/>
<path d="M462.8 454.6H505.8L505.9 457.6L506 462.6L506.2 474.6L506.6 500.1" stroke="#63ffcf" class="c"/>
<path d="M462.8 455.4H505.8L505.9 458.4L506 463.4L506.2 475.4L506.6 500.1" stroke="#64ffc9" class="c"/>
<path d="M462.8 456.2H505.8L505.9 459.2L506 464.2L506.2 476.2L506.6 500.1" stroke="#66ffc1" class="c"/>
<path d="M462.8 456.9H505.8L505.9 459.9L506 464.9L506.2 476.9L506.6 500.1" stroke="#69ffb9" class="c"/>
<path d="M462.8 457.6H505.8L505.9 460.6L506 465.6L506.2 477.6L506.5 500.1" stroke="#6bffb1" class="c"/>
<path d="M462.8 458.3H505.8L505.9 461.3L506 466.3L506.2 478.3L506.5 500.1" stroke="#6dffa9" class="c"/>
<path d="M462.8 458.9H505.8L505.9 461.9L506 466.9L506.2 478.9L506.5 500.1" stroke="#70ffa0" class="c"/>
<path d="M462.8 459.6H505.8L505.9 462.6L506 467.6L506.2 479.6L506.5 500.1" stroke="#72ff98" class="c"/>
<path d="M462.8 460.2H505.8L505.9 463.2L506 468.2L506.2 480.2L506.5 500.1" stroke="#74ff92" class="c"/>
<path d="M462.8 460.8H505.8L505.9 463.8L506 468.8L506.2 480.8L506.5 500.1" stroke="#76ff8d" class="c"/>
<path d="M462.8 461.5H505.8L505.9 464.5L506 469.5L506.2 481.5L506.5 500.1" stroke="#78ff87" class="c"/>
<path d="M462.8 462.1H505.8L505.9 465.1L506 470.1L506.2 482.1L506.5 500.1" stroke="#7aff81" class="c"/>
<path d="M462.8 462.8H505.8L505.9 465.8L506 470.8L506.2 482.8L506.5 500.1" stroke="#7cff7c" class="c"/>
<path d="M462.8 463.5H505.8L505.9 466.5L506 471.5L506.2 483.5L506.5 500.1" stroke="#7eff76" class="c"/>
<path d="M462.8 464.2H505.8L505.9 467.2L506 472.2L506.2 484.2L506.5 500.1" stroke="#80ff71" class="c"/>
<path d="M462.8 465H505.8L505.9 468L506 473L506.2 485L506.4 500.1" stroke="#82ff6b" class="c"/>
<path d="M462.8 465.8H505.8L505.9 468.8L506 473.8L506.4 500.1" stroke="#84ff66" class="c"/>
<path d="M462.8 466.6H505.8L505.9 469.6L506 474.6L506.4 500.1" stroke="#86ff60" class="c"/>
<path d="M462.8 467.5H505.8L505.9 470.5L506 475.5L506.4 500.1" stroke="#88ff5b" class="c"/>
<path d="M462.8 468.3H505.8L505.9 471.3L506 476.3L506.4 500.1" stroke="#8aff55" class="c"/>
<path d="M462.8 469.1H505.8L505.9 472.1L506 477.1L506.4 500.1" stroke="#8cff4f" class="c"/>
<path d="M462.8 469.9H505.8L505.9 472.9L506 477.9L506.4 500.1" stroke="#8fff49" class="c"/>
<path d="M462.8 470.6H505.8L505.9 473.6L506 478.6L506.4 500.1" stroke="#92ff42" class="c"/>
<path d="M462.8 471.3H505.8L505.9 474.3L506 479.3L506.3 500.1" stroke="#95ff3c" class="c"/>
<path d="M462.8 472H505.8L505.9 475L506 480L506.3 500.1" stroke="#98ff35" class="c"/>
<path d="M462.8 472.6H505.8L505.9 475.6L506 480.6L506.3 500.1" stroke="#9bff2f" class="c"/>
<path d="M462.8 473.1H505.8L505.9 476.1L506 481.1L506.3 500.1" stroke="#9eff28" class="c"/>
<path d="M462.8 473.6H505.8L505.9 476.6L506 481.6L506.3 500.1" stroke="#a1ff22" class="c"/>
<path d="M462.8 474H505.8L505.9 477L506 482L506.3 500.1" stroke="#a4ff1b" class="c"/>
<path d="M462.8 474.4H505.8L505.9 477.4L506 482.4L506.3 500.1" stroke="#a7ff18" class="c"/>
<path d="M462.8 474.8H505.8L505.9 477.8L506 482.8L506.3 500.1" stroke="#abff16" class="c"/>
<path d="M462.8 475.1H505.8L505.9 478.1L506 483.1L506.3 500.1" stroke="#aeff14" class="c"/>
<path d="M462.8 475.5H505.8L505.9 478.5L506 483.5L506.3 500.1" stroke="#b2ff12" class="c"/>
<path d="M462.8 475.8H505.8L505.9 478.8L506 483.8L506.3 500.1" stroke="#b6ff10" class="c"/>
<path d="M462.8 476.1H505.8L505.9 479.1L506 484.1L506.3 500.1" stroke="#b9ff0e" class="c"/>
<path d="M462.8 476.4H505.8L505.9 479.4L506 484.4L506.3 500.1" stroke="#bdff0c" class="c"/>
<path d="M462.8 476.7H505.8L505.9 479.7L506 484.7L506.3 500.1" stroke="#c0ff0a" class="c"/>
<path d="M462.8 477H505.8L505.9 480L506 485L506.3 500.1" stroke="#c4ff08" class="c"/>
<path d="M462.8 477.3H505.8L505.9 480.3L506.3 500.1" stroke="#c7ff06" class="c"/>
<path d="M462.8 477.6H505.8L505.9 480.6L506.3 500.1" stroke="#cbff04" class="c"/>
<path d="M462.8 477.9H505.8L505.9 480.9L506.2 500.1" stroke="#ceff02" class="c"/>
<path d="M462.8 478.1H505.8L505.9 481.1L506.2 500.1" stroke="#d2ff00" class="c"/>
<path d="M462.8 478.4H505.8L505.9 481.4L506.2 500.1" stroke="#d5ff00" class="c"/>
<path d="M462.8 478.6H505.8L505.9 481.6L506.2 500.1" stroke="#d9ff00" class="c"/>
<path d="M462.8 478.9H505.8L505.9 481.9L506.2 500.1" stroke="#ddff00" class="c"/>
<path d="M462.8 479.1H505.8L505.9 482.1L506.2 500.1" stroke="#e0ff00" class="c"/>
<path d="M462.8 479.3H505.8L505.9 482.3L506.2 500.1" stroke="#e4ff00" class="c"/>
<path d="M462.8 479.5H505.8L505.9 482.5L506.2 500.1" stroke="#e8ff00" class="c"/>
<path d="M462.8 479.8H505.8L505.9 482.8L506.2 500.1" stroke="#ebff00" class="c"/>
<path d="M462.8 480H505.8L505.9 483L506.2 500.1" stroke="#efff00" class="c"/>
<path d="M462.8 480.2H505.8L505.9 483.2L506.2 500.1" stroke="#f3ff00" class="c"/>
<path d="M462.8 480.5H505.8L505.9 483.5L506.2 500.1" stroke="#f7ff00" class="c"/>
<path d="M462.8 480.8H505.8L505.9 483.8L506.2 500.1" stroke="#faff00" class="c"/>
<path d="M462.8 481.1H505.8L505.9 484.1L506.2 500.1" stroke="#feff00" class="c"/>
<path d="M462.8 481.4H505.8L505.9 484.4L506.2 500.1" stroke="#fff900" class="c"/>
<path d="M462.8 481.8H505.8L505.9 484.8L506.2 500.1" stroke="#fff000" class="c"/>
<path d="M462.8 482.2H505.8L506.2 500.1" stroke="#ffe700" class="c"/>
<path d="M462.8 482.7H505.8L506.2 500.1" stroke="#ffde00" class="c"/>
<path d="M462.8 483.2H505.8L506.2 500.1" stroke="#ffd500" class="c"/>
<path d="M462.8 483.7H505.8L506.2 500.1" stroke="#ffcc00" class="c"/>
<path d="M462.8 484.2H505.8L506.1 500.1" stroke="#ffc300" class="c"/>
<path d="M462.8 484.7H505.8L506.1 500.1" stroke="#ffba00" class="c"/>
<path d="M462.8 485.3H505.8L506.1 500.1" stroke="#ffb000" class="c"/>
<path d="M462.8 485.7H505.8L506.1 500.1" stroke="#ffa700" class="c"/>
<path d="M462.8 486.1H505.8L506.1 500.1" stroke="#ff9d00" class="c"/>
<path d="M462.8 486.5H505.8L506.1 500.1" stroke="#ff9400" class="c"/>
<path d="M462.8 486.8H505.8L506.1 500.1" stroke="#ff8b00" class="c"/>
<path d="M462.8 487.1H505.8L506.1 500.1" stroke="#ff8100" class="c"/>
<path d="M462.8 487.4H505.8L506.1 500.1" stroke="#ff7c00" class="c"/>
<path d="M462.8 487.7H505.8L506.1 500.1" stroke="#ff7600" class="c"/>
<path d="M462.8 487.9H505.8L506.1 500.1" stroke="#ff7100" class="c"/>
<path d="M462.8 488.2H505.8L506.1 500.1" stroke="#ff6b00" class="c"/>
<path d="M462.8 488.4H505.8L506.1 500.1" stroke="#ff6500" class="c"/>
<path d="M462.8 488.7H505.8L506.1 500.1" stroke="#ff6000" class="c"/>
<path d="M462.8 488.9H505.8L506.1 500.1" stroke="#ff5a00" class="c"/>
<path d="M462.8 489.1H505.8L506.1 500.1" stroke="#ff5400" class="c"/>
<path d="M462.8 489.3H505.8L506.1 500.1" stroke="#ff4f00" class="c"/>
<path d="M462.8 489.5H505.8L506.1 500.1" stroke="#ff4900" class="c"/>
<path d="M462.8 489.7H505.8L506 500.1" stroke="#ff4300" class="c"/>
<path d="M462.8 489.9H505.8L506 500.1" stroke="#ff3e00" class="c"/>
<path d="M462.8 490.1H505.8L506 500.1" stroke="#ff3800" class="c"/>
<path d="M462.8 490.2H505.8L506 500.1" stroke="#ff3300" class="c"/>
<path d="M462.8 490.4H505.8L506 500.1" stroke="#ff2f00" class="c"/>
<path d="M462.8 490.5H505.8L506 500.1" stroke="#ff2b00" class="c"/>
<path d="M462.8 490.7H505.8L506 500.1" stroke="#ff2800" class="c"/>
<path d="M462.8 490.8H505.8L506 500.1" stroke="#ff2500" class="c"/>
<path d="M462.8 491H505.8L506 500.1" stroke="#ff2100" class="c"/>
<path d="M462.8 491.1H505.8L506 500.1" stroke="#ff1e00" class="c"/>
<path d="M462.8 491.2H505.8L506 500.1" stroke="#ff1a00" class="c"/>
<path d="M462.8 491.4H505.8L506 500.1" stroke="#ff1700" class="c"/>
<path d="M462.8 491.5H505.8L506 500.1" stroke="#ff1300" class="c"/>
<path d="M462.8 491.6H505.8L506 500.1" stroke="#ff1000" class="c"/>
<path d="M462.8 491.8H505.8L506 500.1" stroke="#ff0c00" class="c"/>
<path d="M462.8 491.9H505.8L506 500.1" stroke="#ff0a00" class="c"/>
<path d="M462.8 492H505.8L506 500.1" stroke="#fe0900" class="c"/>
<path d="M462.8 492.2H505.8L506 500.1" stroke="#fe0800" class="c"/>
<path d="M462.8 492.3H505.8L506 500.1" stroke="#fd0600" class="c"/>
<path d="M462.8 492.5H505.8L506 500.1" stroke="#fd0500" class="c"/>
<path d="M462.8 492.6H505.8L506 500.1" stroke="#fc0400" class="c"/>
<path d="M462.8 492.8H505.8L506 500.1" stroke="#fc0300" class="c"/>
<path d="M462.8 492.9H505.8L506 500.1" stroke="#fb0200" class="c"/>
<path d="M462.8 493.1H505.8L506 500.1" stroke="#fb0100" class="c"/>
<path d="M462.8 493.3H505.8L506 500.1" stroke="#fa0000" class="c"/>
<path d="M462.8 493.5H505.8L506 500.1" stroke="#f50000" class="c"/>
<path d="M462.8 493.7H505.8L506 500.1" stroke="#f00000" class="c"/>
<path d="M462.8 494H505.8L506 500.1" stroke="#eb0000" class="c"/>
<path d="M462.8 494.2H505.8L506 500.1" stroke="#e60000" class="c"/>
<path d="M462.8 494.5H505.8L506 500.1" stroke="#e10000" class="c"/>
<path d="M462.8 494.8H505.8L506 500.1" stroke="#dc0000" class="c"/>
<path d="M462.8 495.1H505.8L505.9 500.1" stroke="#d70000" class="c"/>
<path d="M462.8 495.4H505.8L505.9 500.1" stroke="#d20000" class="c"/>
<path d="M462.8 495.7H505.8L505.9 500.1" stroke="#cd0000" class="c"/>
<path d="M462.8 495.9H505.8L505.9 500.1" stroke="#c80000" class="c"/>
<path d="M462.8 496.2H505.8L505.9 500.1" stroke="#c30000" class="c"/>
<path d="M462.8 496.5H505.8L505.9 500.1" stroke="#be0000" class="c"/>
<path d="M462.8 496.7H505.8L505.9 500.1" stroke="#b90000" class="c"/>
<path d="M462.8 497H505.8L505.9 500.1" stroke="#b40000" class="c"/>
<path d="M462.8 497.2H505.8L505.9 500.1" stroke="#af0000" class="c"/>
<path d="M462.8 497.5H505.8L505.9 500.1" stroke="#aa0000" class="c"/>
<path d="M462.8 497.7H505.8L505.9 500.1" stroke="#a50000" class="c"/>
<path d="M462.8 498H505.8L505.9 500.1" stroke="#a00000" class="c"/>
<path d="M462.8 498.2H505.8L505.9 500.1" stroke="#9b0000" class="c"/>
<path d="M462.8 498.4H505.8L505.9 500.1" stroke="#960000" class="c"/>
<path d="M462.8 498.7H505.8L505.9 500.1" stroke="#910000" class="c"/>
<path d="M462.8 498.9H505.8L505.9 500.1" stroke="#8c0000" class="c"/>
<path d="M462.8 499.1H505.8L505.9 500.1" stroke="#870000" class="c"/>
<path d="M462.8 499.4H505.8L505.9 500.1" stroke="#820000" class="c"/>
</g>
<path class="cv" clip-path="url(#cl1)" d="M515.4 498.8C516.9 498.6 521.5 498.7 524.6 497.4C527.7 496.1 530.7 493.5 533.8 490.9C536.9 488.3 540 485.2 543.1 481.7C546.2 478.2 549.2 474.4 552.3 469.8C555.4 465.2 558.4 459.6 561.5 454.1C564.6 448.6 567.6 442.4 570.7 436.6C573.8 430.8 576.8 424.8 579.9 419.1C583 413.4 586 407.6 589.1 402.5C592.2 397.4 595.2 393.1 598.3 388.7C601.4 384.2 604.4 379.8 607.5 375.8C610.6 371.8 613.7 368.2 616.8 364.7C619.9 361.2 622.9 357.7 626 354.6C629.1 351.5 632.1 348.9 635.2 346.3C638.3 343.7 641.3 341.3 644.4 339C647.5 336.7 650.5 334.4 653.6 332.5C656.7 330.6 659.7 329 662.8 327.5C665.9 326 668.5 324.7 672 323.3C675.5 321.9 678 320.9 684 319.1C690 317.3 700.2 314.1 708 312.5C715.8 310.9 725.6 310.1 731 309.5C736.4 308.9 739 309.2 740.6 309.1"/>
<rect x="684.3" y="53.3" width="46" height="425.3" fill="url(#jet)" stroke="#111" stroke-width="1.1"/>
<path d="M684.3 70.7h4.5M730.3 70.7h-4.5" stroke="#000" stroke-opacity=".75" stroke-width="1" fill="none"/>
<text class="tk" x="676.7" y="81.1" text-anchor="end">0.7</text>
<path d="M684.3 129.3h4.5M730.3 129.3h-4.5" stroke="#000" stroke-opacity=".75" stroke-width="1" fill="none"/>
<text class="tk" x="676.7" y="139.8" text-anchor="end">0.6</text>
<path d="M684.3 188h4.5M730.3 188h-4.5" stroke="#000" stroke-opacity=".75" stroke-width="1" fill="none"/>
<text class="tk" x="676.7" y="198.4" text-anchor="end">0.5</text>
<path d="M684.3 246.6h4.5M730.3 246.6h-4.5" stroke="#000" stroke-opacity=".75" stroke-width="1" fill="none"/>
<text class="tk" x="676.7" y="257" text-anchor="end">0.4</text>
<path d="M684.3 305.3h4.5M730.3 305.3h-4.5" stroke="#000" stroke-opacity=".75" stroke-width="1" fill="none"/>
<text class="tk" x="676.7" y="315.7" text-anchor="end">0.3</text>
<path d="M684.3 363.9h4.5M730.3 363.9h-4.5" stroke="#000" stroke-opacity=".75" stroke-width="1" fill="none"/>
<text class="tk" x="676.7" y="374.3" text-anchor="end">0.2</text>
<path d="M684.3 422.6h4.5M730.3 422.6h-4.5" stroke="#000" stroke-opacity=".75" stroke-width="1" fill="none"/>
<text class="tk" x="676.7" y="433" text-anchor="end">0.1</text>
<rect class="ax" x="461.8" y="30" width="279.1" height="470.3"/>
<text class="tk" x="452.9" y="40.5" text-anchor="end">0.7</text>
<text class="tk" x="454.1" y="512.1" text-anchor="end">0</text>
<text class="tk" x="461.8" y="535.1" text-anchor="middle">0</text>
<text class="tk" x="741.1" y="534.7" text-anchor="middle">1</text>
<text class="gk" x="599.2" y="570.8" text-anchor="middle" stroke-width=".3">ξ</text>
<text class="gk" stroke-width=".7" text-anchor="middle" transform="translate(398.2 266) rotate(-90)">η</text>
<text class="tk" x="481.4" y="87.4">t<tspan x="492.1" dy="4" font-size="33px" font-weight="bold" textLength="13.1" lengthAdjust="spacingAndGlyphs">=</tspan><tspan x="507.4" dy="-4">2.25</tspan></text>
</g>
<g id="panel3">
<clipPath id="cl2"><rect x="829.1" y="30" width="279.1" height="470.3"/></clipPath>
<g class="ct" clip-path="url(#cl2)">
<path d="M830.1 63.8H872.6L873.1 66.8L873.5 71.8L873.8 83.8L874.5 113.8L875.3 163.8L875.7 213.8L876.1 263.8L876.3 313.8L876.4 363.8L876.2 413.8L876 463.8L875.8 500.1" stroke="#0000b1"/>
<path d="M830.1 182.7H872.7L873.3 185.7L873.6 190.7L874 202.7L874.6 232.7L875.4 282.7L875.9 332.7L876 382.7L876 432.7L875.8 482.7L875.8 500.1" stroke="#0000be"/>
<path d="M830.1 243.3H872.8L873.4 246.3L873.7 251.3L874.1 263.3L874.7 293.3L875.5 343.3L875.8 393.3L875.8 443.3L875.7 500.1" stroke="#0000cb"/>
<path d="M830.1 282H872.9L873.4 285L873.8 290L874.1 302L874.8 332L875.4 382L875.6 432L875.7 482L875.6 500.1" stroke="#0000d8"/>
<path d="M830.1 309H872.9L873.4 312L873.8 317L874.2 329L874.8 359L875.3 409L875.5 459L875.6 500.1" stroke="#0001e0"/>
<path d="M830.1 328.7H872.9L873.5 331.7L873.8 336.7L874.2 348.7L874.8 378.7L875.3 428.7L875.5 478.7L875.5 500.1" stroke="#0002e5"/>
<path d="M830.1 344H873L873.5 347L873.8 352L874.2 364L874.8 394L875.3 444L875.4 500.1" stroke="#0003eb"/>
<path d="M830.1 357.5H873L873.5 360.5L873.8 365.5L874.2 377.5L874.7 407.5L875.2 457.5L875.4 500.1" stroke="#0003f1"/>
<path d="M830.1 368.7H873L873.5 371.7L873.9 376.7L874.2 388.7L874.7 418.7L875.2 468.7L875.3 500.1" stroke="#0004f6"/>
<path d="M830.1 377.7H873L873.5 380.7L873.9 385.7L874.2 397.7L874.7 427.7L875.2 477.7L875.3 500.1" stroke="#0006fa"/>
<path d="M830.1 385.4H873L873.5 388.4L873.9 393.4L874.2 405.4L874.7 435.4L875.2 500.1" stroke="#0208fa"/>
<path d="M830.1 392.1H873L873.5 395.1L873.9 400.1L874.2 412.1L874.7 442.1L875.2 500.1" stroke="#030bfa"/>
<path d="M830.1 397.9H873L873.5 400.9L873.9 405.9L874.2 417.9L874.7 447.9L875.1 500.1" stroke="#050dfa"/>
<path d="M830.1 403.1H873L873.5 406.1L873.9 411.1L874.2 423.1L874.7 453.1L875.1 500.1" stroke="#0610fa"/>
<path d="M830.1 408.1H873L873.6 411.1L873.9 416.1L874.2 428.1L874.7 458.1L875.1 500.1" stroke="#0812fa"/>
<path d="M830.1 412.3H873L873.6 415.3L873.9 420.3L874.2 432.3L874.7 462.3L875 500.1" stroke="#0914fa"/>
<path d="M830.1 416.2H873L873.6 419.2L873.9 424.2L874.2 436.2L874.7 466.2L875 500.1" stroke="#0b17fa"/>
<path d="M830.1 419.6H873L873.6 422.6L873.9 427.6L874.2 439.6L874.7 469.6L875 500.1" stroke="#0c19fa"/>
<path d="M830.1 422.9H873.1L873.6 425.9L873.9 430.9L874.2 442.9L874.7 472.9L874.9 500.1" stroke="#0e1cfa"/>
<path d="M830.1 425.8H873.1L873.6 428.8L873.9 433.8L874.2 445.8L874.7 475.8L874.9 500.1" stroke="#0f1efa"/>
<path d="M830.1 428.7H873.1L873.6 431.7L873.9 436.7L874.2 448.7L874.7 478.7L874.9 500.1" stroke="#1120fa"/>
<path d="M830.1 431.2H873.1L873.5 434.2L873.9 439.2L874.1 451.2L874.6 481.2L874.8 500.1" stroke="#1223fa"/>
<path d="M830.1 433.5H873.1L873.5 436.5L873.7 441.5L874 453.5L874.5 483.5L874.6 500.1" stroke="#1425fa"/>
<path d="M830.1 435.5H873.1L873.4 438.5L873.7 443.5L873.9 455.5L874.5 500.1" stroke="#1527fa"/>
<path d="M830.1 437.5H873.1L873.4 440.5L873.7 445.5L873.9 457.5L874.5 500.1" stroke="#1629fa"/>
<path d="M830.1 439.5H873.1L873.4 442.5L873.6 447.5L873.9 459.5L874.5 500.1" stroke="#182bfa"/>
<path d="M830.1 441.4H873.1L873.4 444.4L873.6 449.4L873.9 461.4L874.4 500.1" stroke="#192efa"/>
<path d="M830.1 443.4H873.1L873.4 446.4L873.6 451.4L873.9 463.4L874.4 500.1" stroke="#1a30fa"/>
<path d="M830.1 445.3H873.1L873.4 448.3L873.6 453.3L873.9 465.3L874.4 500.1" stroke="#1b32fb"/>
<path d="M830.1 447.1H873.1L873.4 450.1L873.6 455.1L873.8 467.1L874.3 500.1" stroke="#1b34fb"/>
<path d="M830.1 448.9H873.1L873.4 451.9L873.6 456.9L873.8 468.9L874.3 500.1" stroke="#1c36fb"/>
<path d="M830.1 450.7H873.1L873.3 453.7L873.5 458.7L873.8 470.7L874.2 500.1" stroke="#1d39fc"/>
<path d="M830.1 452.3H873.1L873.3 455.3L873.5 460.3L873.8 472.3L874.2 500.1" stroke="#1e3bfc"/>
<path d="M830.1 454H873.1L873.3 457L873.5 462L873.7 474L874.1 500.1" stroke="#1f3dfc"/>
<path d="M830.1 455.5H873.1L873.3 458.5L873.4 463.5L873.7 475.5L874 500.1" stroke="#2040fd"/>
<path d="M830.1 457H873.1L873.2 460L873.4 465L873.6 477L874 500.1" stroke="#2243fd" class="a"/>
<path d="M830.1 458.4H873.1L873.2 461.4L873.3 466.4L873.6 478.4L873.9 500.1" stroke="#2346fe" class="a"/>
<path d="M830.1 459.7H873.1L873.2 462.7L873.3 467.7L873.5 479.7L873.8 500.1" stroke="#2549fe" class="b"/>
<path d="M830.1 460.9H873.1L873.2 463.9L873.3 468.9L873.5 480.9L873.8 500.1" stroke="#264cfe" class="b"/>
<path d="M830.1 462H873.1L873.2 465L873.3 470L873.5 482L873.8 500.1" stroke="#284fff" class="c"/>
<path d="M830.1 463H873.1L873.2 466L873.3 471L873.5 483L873.8 500.1" stroke="#2953ff" class="c"/>
<path d="M830.1 463.9H873.1L873.2 466.9L873.3 471.9L873.5 483.9L873.8 500.1" stroke="#2a56ff" class="c"/>
<path d="M830.1 464.7H873.1L873.2 467.7L873.3 472.7L873.5 484.7L873.7 500.1" stroke="#2b5aff" class="c"/>
<path d="M830.1 465.5H873.1L873.2 468.5L873.3 473.5L873.7 500.1" stroke="#2d5eff" class="c"/>
<path d="M830.1 466.2H873.1L873.2 469.2L873.3 474.2L873.7 500.1" stroke="#2e61ff" class="c"/>
<path d="M830.1 466.9H873.1L873.2 469.9L873.3 474.9L873.7 500.1" stroke="#2f65ff" class="c"/>
<path d="M830.1 467.6H873.1L873.2 470.6L873.3 475.6L873.7 500.1" stroke="#3069ff" class="c"/>
<path d="M830.1 468.2H873.1L873.2 471.2L873.3 476.2L873.7 500.1" stroke="#316cff" class="c"/>
<path d="M830.1 468.8H873.1L873.2 471.8L873.3 476.8L873.7 500.1" stroke="#3373fe" class="c"/>
<path d="M830.1 469.4H873.1L873.2 472.4L873.3 477.4L873.7 500.1" stroke="#367dfd" class="c"/>
<path d="M830.1 470H873.1L873.2 473L873.3 478L873.7 500.1" stroke="#3887fc" class="c"/>
<path d="M830.1 470.6H873.1L873.2 473.6L873.3 478.6L873.7 500.1" stroke="#3b91fb" class="c"/>
<path d="M830.1 471.1H873.1L873.2 474.1L873.3 479.1L873.7 500.1" stroke="#3f9afa" class="c"/>
<path d="M830.1 471.7H873.1L873.2 474.7L873.3 479.7L873.6 500.1" stroke="#45a3fa" class="c"/>
<path d="M830.1 472.2H873.1L873.2 475.2L873.3 480.2L873.6 500.1" stroke="#4bacfa" class="c"/>
<path d="M830.1 472.7H873.1L873.2 475.7L873.3 480.7L873.6 500.1" stroke="#50b5fa" class="c"/>
<path d="M830.1 473.3H873.1L873.2 476.3L873.3 481.3L873.6 500.1" stroke="#53c3fa" class="c"/>
<path d="M830.1 473.8H873.1L873.2 476.8L873.3 481.8L873.6 500.1" stroke="#57d2fa" class="c"/>
<path d="M830.1 474.4H873.1L873.2 477.4L873.3 482.4L873.6 500.1" stroke="#5ae0fa" class="c"/>
<path d="M830.1 474.9H873.1L873.2 477.9L873.3 482.9L873.6 500.1" stroke="#5ceafa" class="c"/>
<path d="M830.1 475.5H873.1L873.2 478.5L873.3 483.5L873.6 500.1" stroke="#5ef5fa" class="c"/>
<path d="M830.1 476.1H873.1L873.2 479.1L873.3 484.1L873.6 500.1" stroke="#5ffafa" class="c"/>
<path d="M830.1 476.6H873.1L873.2 479.6L873.3 484.6L873.6 500.1" stroke="#5efbf9" class="c"/>
<path d="M830.1 477.2H873.1L873.2 480.2L873.6 500.1" stroke="#5dfcf8" class="c"/>
<path d="M830.1 477.7H873.1L873.2 480.7L873.6 500.1" stroke="#5cfdf7" class="c"/>
<path d="M830.1 478.2H873.1L873.2 481.2L873.5 500.1" stroke="#5bfef6" class="c"/>
<path d="M830.1 478.7H873.1L873.2 481.7L873.5 500.1" stroke="#5afff5" class="c"/>
<path d="M830.1 479.2H873.1L873.2 482.2L873.5 500.1" stroke="#5bfff2" class="c"/>
<path d="M830.1 479.6H873.1L873.2 482.6L873.5 500.1" stroke="#5cffec" class="c"/>
<path d="M830.1 480.1H873.1L873.2 483.1L873.5 500.1" stroke="#5dffe6" class="c"/>
<path d="M830.1 480.5H873.1L873.2 483.5L873.5 500.1" stroke="#5fffe0" class="c"/>
<path d="M830.1 480.9H873.1L873.2 483.9L873.5 500.1" stroke="#60ffda" class="c"/>
<path d="M830.1 481.3H873.1L873.2 484.3L873.5 500.1" stroke="#61ffd4" class="c"/>
<path d="M830.1 481.7H873.1L873.2 484.7L873.5 500.1" stroke="#63ffcf" class="c"/>
<path d="M830.1 482.1H873.1L873.5 500.1" stroke="#64ffc9" class="c"/>
<path d="M830.1 482.5H873.1L873.5 500.1" stroke="#66ffc1" class="c"/>
<path d="M830.1 482.9H873.1L873.5 500.1" stroke="#69ffb9" class="c"/>
<path d="M830.1 483.2H873.1L873.5 500.1" stroke="#6bffb1" class="c"/>
<path d="M830.1 483.6H873.1L873.5 500.1" stroke="#6dffa9" class="c"/>
<path d="M830.1 483.9H873.1L873.4 500.1" stroke="#70ffa0" class="c"/>
<path d="M830.1 484.2H873.1L873.4 500.1" stroke="#72ff98" class="c"/>
<path d="M830.1 484.6H873.1L873.4 500.1" stroke="#74ff92" class="c"/>
<path d="M830.1 484.9H873.1L873.4 500.1" stroke="#76ff8d" class="c"/>
<path d="M830.1 485.1H873.1L873.4 500.1" stroke="#78ff87" class="c"/>
<path d="M830.1 485.4H873.1L873.4 500.1" stroke="#7aff81" class="c"/>
<path d="M830.1 485.7H873.1L873.4 500.1" stroke="#7cff7c" class="c"/>
<path d="M830.1 485.9H873.1L873.4 500.1" stroke="#7eff76" class="c"/>
<path d="M830.1 486.1H873.1L873.4 500.1" stroke="#80ff71" class="c"/>
<path d="M830.1 486.3H873.1L873.4 500.1" stroke="#82ff6b" class="c"/>
<path d="M830.1 486.5H873.1L873.4 500.1" stroke="#84ff66" class="c"/>
<path d="M830.1 486.7H873.1L873.4 500.1" stroke="#86ff60" class="c"/>
<path d="M830.1 486.9H873.1L873.4 500.1" stroke="#88ff5b" class="c"/>
<path d="M830.1 487.1H873.1L873.4 500.1" stroke="#8aff55" class="c"/>
<path d="M830.1 487.2H873.1L873.4 500.1" stroke="#8cff4f" class="c"/>
<path d="M830.1 487.4H873.1L873.4 500.1" stroke="#8fff49" class="c"/>
<path d="M830.1 487.6H873.1L873.4 500.1" stroke="#92ff42" class="c"/>
<path d="M830.1 487.7H873.1L873.4 500.1" stroke="#95ff3c" class="c"/>
<path d="M830.1 487.9H873.1L873.4 500.1" stroke="#98ff35" class="c"/>
<path d="M830.1 488H873.1L873.4 500.1" stroke="#9bff2f" class="c"/>
<path d="M830.1 488.2H873.1L873.4 500.1" stroke="#9eff28" class="c"/>
<path d="M830.1 488.3H873.1L873.4 500.1" stroke="#a1ff22" class="c"/>
<path d="M830.1 488.4H873.1L873.4 500.1" stroke="#a4ff1b" class="c"/>
<path d="M830.1 488.6H873.1L873.4 500.1" stroke="#a7ff18" class="c"/>
<path d="M830.1 488.7H873.1L873.4 500.1" stroke="#abff16" class="c"/>
<path d="M830.1 488.8H873.1L873.4 500.1" stroke="#aeff14" class="c"/>
<path d="M830.1 489H873.1L873.4 500.1" stroke="#b2ff12" class="c"/>
<path d="M830.1 489.1H873.1L873.4 500.1" stroke="#b6ff10" class="c"/>
<path d="M830.1 489.3H873.1L873.4 500.1" stroke="#b9ff0e" class="c"/>
<path d="M830.1 489.4H873.1L873.4 500.1" stroke="#bdff0c" class="c"/>
<path d="M830.1 489.6H873.1L873.4 500.1" stroke="#c0ff0a" class="c"/>
<path d="M830.1 489.7H873.1L873.3 500.1" stroke="#c4ff08" class="c"/>
<path d="M830.1 489.8H873.1L873.3 500.1" stroke="#c7ff06" class="c"/>
<path d="M830.1 490H873.1L873.3 500.1" stroke="#cbff04" class="c"/>
<path d="M830.1 490.1H873.1L873.3 500.1" stroke="#ceff02" class="c"/>
<path d="M830.1 490.3H873.1L873.3 500.1" stroke="#d2ff00" class="c"/>
<path d="M830.1 490.4H873.1L873.3 500.1" stroke="#d5ff00" class="c"/>
<path d="M830.1 490.5H873.1L873.3 500.1" stroke="#d9ff00" class="c"/>
<path d="M830.1 490.7H873.1L873.3 500.1" stroke="#ddff00" class="c"/>
<path d="M830.1 490.8H873.1L873.3 500.1" stroke="#e0ff00" class="c"/>
<path d="M830.1 491H873.1L873.3 500.1" stroke="#e4ff00" class="c"/>
<path d="M830.1 491.1H873.1L873.3 500.1" stroke="#e8ff00" class="c"/>
<path d="M830.1 491.2H873.1L873.3 500.1" stroke="#ebff00" class="c"/>
<path d="M830.1 491.4H873.1L873.3 500.1" stroke="#efff00" class="c"/>
<path d="M830.1 491.5H873.1L873.3 500.1" stroke="#f3ff00" class="c"/>
<path d="M830.1 491.6H873.1L873.3 500.1" stroke="#f7ff00" class="c"/>
<path d="M830.1 491.8H873.1L873.3 500.1" stroke="#faff00" class="c"/>
<path d="M830.1 491.9H873.1L873.3 500.1" stroke="#feff00" class="c"/>
<path d="M830.1 492.1H873.1L873.3 500.1" stroke="#fff900" class="c"/>
<path d="M830.1 492.3H873.1L873.3 500.1" stroke="#fff000" class="c"/>
<path d="M830.1 492.4H873.1L873.3 500.1" stroke="#ffe700" class="c"/>
<path d="M830.1 492.6H873.1L873.3 500.1" stroke="#ffde00" class="c"/>
<path d="M830.1 492.8H873.1L873.3 500.1" stroke="#ffd500" class="c"/>
<path d="M830.1 493H873.1L873.3 500.1" stroke="#ffcc00" class="c"/>
<path d="M830.1 493.2H873.1L873.3 500.1" stroke="#ffc300" class="c"/>
<path d="M830.1 493.4H873.1L873.3 500.1" stroke="#ffba00" class="c"/>
<path d="M830.1 493.6H873.1L873.3 500.1" stroke="#ffb000" class="c"/>
<path d="M830.1 493.7H873.1L873.3 500.1" stroke="#ffa700" class="c"/>
<path d="M830.1 493.9H873.1L873.3 500.1" stroke="#ff9d00" class="c"/>
<path d="M830.1 494H873.1L873.3 500.1" stroke="#ff9400" class="c"/>
<path d="M830.1 494.1H873.1L873.3 500.1" stroke="#ff8b00" class="c"/>
<path d="M830.1 494.2H873.1L873.3 500.1" stroke="#ff8100" class="c"/>
<path d="M830.1 494.3H873.1L873.3 500.1" stroke="#ff7c00" class="c"/>
<path d="M830.1 494.4H873.1L873.3 500.1" stroke="#ff7600" class="c"/>
<path d="M830.1 494.5H873.1L873.3 500.1" stroke="#ff7100" class="c"/>
<path d="M830.1 494.6H873.1L873.3 500.1" stroke="#ff6b00" class="c"/>
<path d="M830.1 494.6H873.1L873.3 500.1" stroke="#ff6500" class="c"/>
<path d="M830.1 494.7H873.1L873.3 500.1" stroke="#ff6000" class="c"/>
<path d="M830.1 494.8H873.1L873.3 500.1" stroke="#ff5a00" class="c"/>
<path d="M830.1 494.9H873.1L873.3 500.1" stroke="#ff5400" class="c"/>
<path d="M830.1 494.9H873.1L873.3 500.1" stroke="#ff4f00" class="c"/>
<path d="M830.1 495H873.1L873.2 500.1" stroke="#ff4900" class="c"/>
<path d="M830.1 495H873.1L873.2 500.1" stroke="#ff4300" class="c"/>
<path d="M830.1 495.1H873.1L873.2 500.1" stroke="#ff3e00" class="c"/>
<path d="M830.1 495.2H873.1L873.2 500.1" stroke="#ff3800" class="c"/>
<path d="M830.1 495.2H873.1L873.2 500.1" stroke="#ff3300" class="c"/>
<path d="M830.1 495.3H873.1L873.2 500.1" stroke="#ff2f00" class="c"/>
<path d="M830.1 495.4H873.1L873.2 500.1" stroke="#ff2b00" class="c"/>
<path d="M830.1 495.4H873.1L873.2 500.1" stroke="#ff2800" class="c"/>
<path d="M830.1 495.5H873.1L873.2 500.1" stroke="#ff2500" class="c"/>
<path d="M830.1 495.5H873.1L873.2 500.1" stroke="#ff2100" class="c"/>
<path d="M830.1 495.6H873.1L873.2 500.1" stroke="#ff1e00" class="c"/>
<path d="M830.1 495.7H873.1L873.2 500.1" stroke="#ff1a00" class="c"/>
<path d="M830.1 495.8H873.1L873.2 500.1" stroke="#ff1700" class="c"/>
<path d="M830.1 495.8H873.1L873.2 500.1" stroke="#ff1300" class="c"/>
<path d="M830.1 495.9H873.1L873.2 500.1" stroke="#ff1000" class="c"/>
<path d="M830.1 496H873.1L873.2 500.1" stroke="#ff0c00" class="c"/>
<path d="M830.1 496.1H873.1L873.2 500.1" stroke="#ff0a00" class="c"/>
<path d="M830.1 496.2H873.1L873.2 500.1" stroke="#fe0900" class="c"/>
<path d="M830.1 496.3H873.1L873.2 500.1" stroke="#fe0800" class="c"/>
<path d="M830.1 496.4H873.1L873.2 500.1" stroke="#fd0600" class="c"/>
<path d="M830.1 496.4H873.1L873.2 500.1" stroke="#fd0500" class="c"/>
<path d="M830.1 496.5H873.1L873.2 500.1" stroke="#fc0400" class="c"/>
<path d="M830.1 496.6H873.1L873.2 500.1" stroke="#fc0300" class="c"/>
<path d="M830.1 496.7H873.1L873.2 500.1" stroke="#fb0200" class="c"/>
<path d="M830.1 496.8H873.1L873.2 500.1" stroke="#fb0100" class="c"/>
<path d="M830.1 496.9H873.1L873.2 500.1" stroke="#fa0000" class="c"/>
<path d="M830.1 497H873.1L873.2 500.1" stroke="#f50000" class="c"/>
<path d="M830.1 497.1H873.1L873.2 500.1" stroke="#f00000" class="c"/>
<path d="M830.1 497.2H873.1L873.2 500.1" stroke="#eb0000" class="c"/>
<path d="M830.1 497.3H873.1L873.2 500.1" stroke="#e60000" class="c"/>
<path d="M830.1 497.4H873.1L873.2 500.1" stroke="#e10000" class="c"/>
<path d="M830.1 497.5H873.1L873.2 500.1" stroke="#dc0000" class="c"/>
<path d="M830.1 497.6H873.1L873.2 500.1" stroke="#d70000" class="c"/>
<path d="M830.1 497.7H873.1L873.2 500.1" stroke="#d20000" class="c"/>
<path d="M830.1 497.8H873.1L873.2 500.1" stroke="#cd0000" class="c"/>
<path d="M830.1 498H873.1L873.2 500.1" stroke="#c80000" class="c"/>
<path d="M830.1 498.1H873.1L873.2 500.1" stroke="#c30000" class="c"/>
<path d="M830.1 498.2H873.1L873.2 500.1" stroke="#be0000" class="c"/>
<path d="M830.1 498.3H873.1L873.2 500.1" stroke="#b90000" class="c"/>
<path d="M830.1 498.4H873.1L873.2 500.1" stroke="#b40000" class="c"/>
<path d="M830.1 498.5H873.1L873.2 500.1" stroke="#af0000" class="c"/>
<path d="M830.1 498.6H873.1L873.2 500.1" stroke="#aa0000" class="c"/>
<path d="M830.1 498.7H873.1L873.2 500.1" stroke="#a50000" class="c"/>
<path d="M830.1 498.9H873.1L873.2 500.1" stroke="#a00000" class="c"/>
<path d="M830.1 499H873.1L873.2 500.1" stroke="#9b0000" class="c"/>
<path d="M830.1 499.1H873.1L873.2 500.1" stroke="#960000" class="c"/>
<path d="M830.1 499.2H873.1L873.2 500.1" stroke="#910000" class="c"/>
<path d="M830.1 499.3H873.1L873.2 500.1" stroke="#8c0000" class="c"/>
<path d="M830.1 499.5H873.1L873.2 500.1" stroke="#870000" class="c"/>
<path d="M830.1 499.6H873.1L873.2 500.1" stroke="#820000" class="c"/>
</g>
<path d="M1103.6 396.3H1108.2" stroke="#000" stroke-width="1.2" fill="none"/>
<path class="cv" clip-path="url(#cl2)" stroke-linecap="round" d="M885.9 498.9C888 498.6 894.9 498 898.4 497.1C901.9 496.2 904 494.9 906.8 493.7C909.6 492.4 912.4 491.1 915.2 489.6C918 488.1 920.7 486.4 923.5 484.5C926.3 482.6 929.1 480.3 931.9 477.9C934.7 475.5 937.5 472.8 940.3 470.3C943.1 467.8 945.8 465.3 948.6 462.8C951.4 460.3 954.2 457.7 957 455.3C959.8 452.9 962.5 450.8 965.3 448.6C968.1 446.4 970.9 444 973.7 441.9C976.5 439.8 979.3 438 982.1 436.1C984.9 434.2 987.6 432.3 990.4 430.5C993.2 428.7 996 427.1 998.8 425.5C1001.6 423.9 1004.3 422.4 1007.1 421C1009.9 419.6 1012.7 418.1 1015.5 416.8C1018.3 415.5 1021.1 414.3 1023.9 413.1C1026.7 411.9 1029.4 410.8 1032.2 409.8C1035 408.8 1037.4 408 1040.6 407.1C1043.8 406.2 1045.8 405.7 1051.5 404.3C1057.2 402.9 1067.3 400.3 1075 399C1082.7 397.7 1092.6 396.8 1097.4 396.4C1102.2 395.9 1102.5 396.3 1103.6 396.3"/>
<rect x="1051.6" y="53.3" width="46" height="425.3" fill="url(#jet)" stroke="#111" stroke-width="1.1"/>
<path d="M1051.6 59.3h4.5M1097.6 59.3h-4.5" stroke="#000" stroke-opacity=".75" stroke-width="1" fill="none"/>
<text class="tk" x="1044" y="69.7" text-anchor="end">0.7</text>
<path d="M1051.6 119.5h4.5M1097.6 119.5h-4.5" stroke="#000" stroke-opacity=".75" stroke-width="1" fill="none"/>
<text class="tk" x="1044" y="129.9" text-anchor="end">0.6</text>
<path d="M1051.6 179.7h4.5M1097.6 179.7h-4.5" stroke="#000" stroke-opacity=".75" stroke-width="1" fill="none"/>
<text class="tk" x="1044" y="190.1" text-anchor="end">0.5</text>
<path d="M1051.6 239.9h4.5M1097.6 239.9h-4.5" stroke="#000" stroke-opacity=".75" stroke-width="1" fill="none"/>
<text class="tk" x="1044" y="250.3" text-anchor="end">0.4</text>
<path d="M1051.6 300.1h4.5M1097.6 300.1h-4.5" stroke="#000" stroke-opacity=".75" stroke-width="1" fill="none"/>
<text class="tk" x="1044" y="310.5" text-anchor="end">0.3</text>
<path d="M1051.6 360.3h4.5M1097.6 360.3h-4.5" stroke="#000" stroke-opacity=".75" stroke-width="1" fill="none"/>
<text class="tk" x="1044" y="370.7" text-anchor="end">0.2</text>
<path d="M1051.6 420.5h4.5M1097.6 420.5h-4.5" stroke="#000" stroke-opacity=".75" stroke-width="1" fill="none"/>
<text class="tk" x="1044" y="430.9" text-anchor="end">0.1</text>
<rect class="ax" x="829.1" y="30" width="279.1" height="470.3"/>
<text class="tk" x="820.3" y="40.5" text-anchor="end">0.7</text>
<text class="tk" x="821.5" y="512.1" text-anchor="end">0</text>
<text class="tk" x="829.1" y="535.1" text-anchor="middle">0</text>
<text class="tk" x="1108.5" y="534.7" text-anchor="middle">1</text>
<text class="gk" x="966.6" y="570.8" text-anchor="middle" stroke-width=".3">ξ</text>
<text class="gk" stroke-width=".7" text-anchor="middle" transform="translate(765.6 266) rotate(-90)">η</text>
<text class="tk" x="848.8" y="87.4">t<tspan x="859.4" dy="4" font-size="33px" font-weight="bold" textLength="13.1" lengthAdjust="spacingAndGlyphs">=</tspan><tspan x="874.8" dy="-4">2.50</tspan></text>
</g>
<g id="panel4">
<clipPath id="cl3"><rect x="1196.4" y="30" width="279.1" height="470.3"/></clipPath>
<g class="ct" clip-path="url(#cl3)">
<path d="M1197.4 245.3H1240.1L1240.7 248.3L1241 253.3L1241.4 265.3L1242 295.3L1242.8 345.3L1243.1 395.3L1243.1 445.3L1243 500.1" stroke="#0000b1"/>
<path d="M1197.4 326.9H1240.2L1240.8 329.9L1241.1 334.9L1241.5 346.9L1242.1 376.9L1242.6 426.9L1242.8 476.9L1242.8 500.1" stroke="#0000be"/>
<path d="M1197.4 364H1240.3L1240.8 367L1241.2 372L1241.5 384L1242 414L1242.5 464L1242.6 500.1" stroke="#0000cb"/>
<path d="M1197.4 384.8H1240.3L1240.8 387.8L1241.2 392.8L1241.5 404.8L1242 434.8L1242.5 484.8L1242.5 500.1" stroke="#0000d8"/>
<path d="M1197.4 399.9H1240.3L1240.8 402.9L1241.2 407.9L1241.5 419.9L1242 449.9L1242.4 500.1" stroke="#0001e0"/>
<path d="M1197.4 410.7H1240.3L1240.9 413.7L1241.2 418.7L1241.5 430.7L1242 460.7L1242.3 500.1" stroke="#0002e5"/>
<path d="M1197.4 418.5H1240.3L1240.9 421.5L1241.2 426.5L1241.5 438.5L1242 468.5L1242.3 500.1" stroke="#0003eb"/>
<path d="M1197.4 425.9H1240.4L1240.9 428.9L1241.2 433.9L1241.5 445.9L1242 475.9L1242.2 500.1" stroke="#0003f1"/>
<path d="M1197.4 431.3H1240.4L1240.9 434.3L1241.2 439.3L1241.5 451.3L1242 481.3L1242.1 500.1" stroke="#0004f6"/>
<path d="M1197.4 436H1240.4L1240.9 439L1241.2 444L1241.5 456L1242.1 500.1" stroke="#0006fa"/>
<path d="M1197.4 440.3H1240.4L1240.9 443.3L1241.2 448.3L1241.5 460.3L1242.1 500.1" stroke="#0208fa"/>
<path d="M1197.4 443.9H1240.4L1240.9 446.9L1241.2 451.9L1241.5 463.9L1242 500.1" stroke="#030bfa"/>
<path d="M1197.4 447H1240.4L1240.9 450L1241.2 455L1241.5 467L1242 500.1" stroke="#050dfa"/>
<path d="M1197.4 450H1240.4L1240.9 453L1241.2 458L1241.5 470L1241.9 500.1" stroke="#0610fa"/>
<path d="M1197.4 451.9H1240.4L1240.7 454.9L1240.9 459.9L1241.1 471.9L1241.6 500.1" stroke="#0812fa"/>
<path d="M1197.4 453.7H1240.4L1240.6 456.7L1240.8 461.7L1241 473.7L1241.4 500.1" stroke="#0914fa"/>
<path d="M1197.4 455.2H1240.4L1240.5 458.2L1240.7 463.2L1240.9 475.2L1241.3 500.1" stroke="#0b17fa" class="a"/>
<path d="M1197.4 456.5H1240.4L1240.5 459.5L1240.6 464.5L1240.8 476.5L1241.2 500.1" stroke="#0c19fa" class="b"/>
<path d="M1197.4 457.6H1240.4L1240.5 460.6L1240.6 465.6L1240.8 477.6L1241.1 500.1" stroke="#0e1cfa" class="c"/>
<path d="M1197.4 458.6H1240.4L1240.5 461.6L1240.6 466.6L1240.8 478.6L1241.1 500.1" stroke="#0f1efa" class="c"/>
<path d="M1197.4 459.4H1240.4L1240.5 462.4L1240.6 467.4L1240.8 479.4L1241.1 500.1" stroke="#1120fa" class="c"/>
<path d="M1197.4 460.1H1240.4L1240.5 463.1L1240.6 468.1L1240.8 480.1L1241.1 500.1" stroke="#1223fa" class="c"/>
<path d="M1197.4 460.7H1240.4L1240.5 463.7L1240.6 468.7L1240.8 480.7L1241.1 500.1" stroke="#1425fa" class="c"/>
<path d="M1197.4 461.2H1240.4L1240.5 464.2L1240.6 469.2L1240.8 481.2L1241.1 500.1" stroke="#1527fa" class="c"/>
<path d="M1197.4 461.7H1240.4L1240.5 464.7L1240.6 469.7L1240.8 481.7L1241.1 500.1" stroke="#1629fa" class="c"/>
<path d="M1197.4 462.1H1240.4L1240.5 465.1L1240.6 470.1L1240.8 482.1L1241.1 500.1" stroke="#182bfa" class="c"/>
<path d="M1197.4 462.5H1240.4L1240.5 465.5L1240.6 470.5L1240.8 482.5L1241.1 500.1" stroke="#192efa" class="c"/>
<path d="M1197.4 462.9H1240.4L1240.5 465.9L1240.6 470.9L1240.8 482.9L1241.1 500.1" stroke="#1a30fa" class="c"/>
<path d="M1197.4 463.3H1240.4L1240.5 466.3L1240.6 471.3L1240.8 483.3L1241.1 500.1" stroke="#1b32fb" class="c"/>
<path d="M1197.4 463.7H1240.4L1240.5 466.7L1240.6 471.7L1240.8 483.7L1241.1 500.1" stroke="#1b34fb" class="c"/>
<path d="M1197.4 464.1H1240.4L1240.5 467.1L1240.6 472.1L1240.8 484.1L1241.1 500.1" stroke="#1c36fb" class="c"/>
<path d="M1197.4 464.5H1240.4L1240.5 467.5L1240.6 472.5L1240.8 484.5L1241 500.1" stroke="#1d39fc" class="c"/>
<path d="M1197.4 465H1240.4L1240.5 468L1240.6 473L1240.8 485L1241 500.1" stroke="#1e3bfc" class="c"/>
<path d="M1197.4 465.5H1240.4L1240.5 468.5L1240.6 473.5L1241 500.1" stroke="#1f3dfc" class="c"/>
<path d="M1197.4 466.1H1240.4L1240.5 469.1L1240.6 474.1L1241 500.1" stroke="#2040fd" class="c"/>
<path d="M1197.4 466.6H1240.4L1240.5 469.6L1240.6 474.6L1241 500.1" stroke="#2243fd" class="c"/>
<path d="M1197.4 467.2H1240.4L1240.5 470.2L1240.6 475.2L1241 500.1" stroke="#2346fe" class="c"/>
<path d="M1197.4 467.8H1240.4L1240.5 470.8L1240.6 475.8L1241 500.1" stroke="#2549fe" class="c"/>
<path d="M1197.4 468.4H1240.4L1240.5 471.4L1240.6 476.4L1241 500.1" stroke="#264cfe" class="c"/>
<path d="M1197.4 469H1240.4L1240.5 472L1240.6 477L1241 500.1" stroke="#284fff" class="c"/>
<path d="M1197.4 469.6H1240.4L1240.5 472.6L1240.6 477.6L1241 500.1" stroke="#2953ff" class="c"/>
<path d="M1197.4 470.2H1240.4L1240.5 473.2L1240.6 478.2L1241 500.1" stroke="#2a56ff" class="c"/>
<path d="M1197.4 470.8H1240.4L1240.5 473.8L1240.6 478.8L1241 500.1" stroke="#2b5aff" class="c"/>
<path d="M1197.4 471.4H1240.4L1240.5 474.4L1240.6 479.4L1240.9 500.1" stroke="#2d5eff" class="c"/>
<path d="M1197.4 472H1240.4L1240.5 475L1240.6 480L1240.9 500.1" stroke="#2e61ff" class="c"/>
<path d="M1197.4 472.5H1240.4L1240.5 475.5L1240.6 480.5L1240.9 500.1" stroke="#2f65ff" class="c"/>
<path d="M1197.4 473H1240.4L1240.5 476L1240.6 481L1240.9 500.1" stroke="#3069ff" class="c"/>
<path d="M1197.4 473.5H1240.4L1240.5 476.5L1240.6 481.5L1240.9 500.1" stroke="#316cff" class="c"/>
<path d="M1197.4 473.9H1240.4L1240.5 476.9L1240.6 481.9L1240.9 500.1" stroke="#3373fe" class="c"/>
<path d="M1197.4 474.3H1240.4L1240.5 477.3L1240.6 482.3L1240.9 500.1" stroke="#367dfd" class="c"/>
<path d="M1197.4 474.7H1240.4L1240.5 477.7L1240.6 482.7L1240.9 500.1" stroke="#3887fc" class="c"/>
<path d="M1197.4 475H1240.4L1240.5 478L1240.6 483L1240.9 500.1" stroke="#3b91fb" class="c"/>
<path d="M1197.4 475.3H1240.4L1240.5 478.3L1240.6 483.3L1240.9 500.1" stroke="#3f9afa" class="c"/>
<path d="M1197.4 475.6H1240.4L1240.5 478.6L1240.6 483.6L1240.9 500.1" stroke="#45a3fa" class="c"/>
<path d="M1197.4 475.9H1240.4L1240.5 478.9L1240.6 483.9L1240.9 500.1" stroke="#4bacfa" class="c"/>
<path d="M1197.4 476.2H1240.4L1240.5 479.2L1240.6 484.2L1240.9 500.1" stroke="#50b5fa" class="c"/>
<path d="M1197.4 476.5H1240.4L1240.5 479.5L1240.6 484.5L1240.9 500.1" stroke="#53c3fa" class="c"/>
<path d="M1197.4 476.7H1240.4L1240.5 479.7L1240.6 484.7L1240.9 500.1" stroke="#57d2fa" class="c"/>
<path d="M1197.4 477H1240.4L1240.5 480L1240.6 485L1240.9 500.1" stroke="#5ae0fa" class="c"/>
<path d="M1197.4 477.3H1240.4L1240.5 480.3L1240.9 500.1" stroke="#5ceafa" class="c"/>
<path d="M1197.4 477.5H1240.4L1240.5 480.5L1240.9 500.1" stroke="#5ef5fa" class="c"/>
<path d="M1197.4 477.7H1240.4L1240.5 480.7L1240.9 500.1" stroke="#5ffafa" class="c"/>
<path d="M1197.4 478H1240.4L1240.5 481L1240.8 500.1" stroke="#5efbf9" class="c"/>
<path d="M1197.4 478.2H1240.4L1240.5 481.2L1240.8 500.1" stroke="#5dfcf8" class="c"/>
<path d="M1197.4 478.5H1240.4L1240.5 481.5L1240.8 500.1" stroke="#5cfdf7" class="c"/>
<path d="M1197.4 478.7H1240.4L1240.5 481.7L1240.8 500.1" stroke="#5bfef6" class="c"/>
<path d="M1197.4 478.9H1240.4L1240.5 481.9L1240.8 500.1" stroke="#5afff5" class="c"/>
<path d="M1197.4 479.2H1240.4L1240.5 482.2L1240.8 500.1" stroke="#5bfff2" class="c"/>
<path d="M1197.4 479.4H1240.4L1240.5 482.4L1240.8 500.1" stroke="#5cffec" class="c"/>
<path d="M1197.4 479.6H1240.4L1240.5 482.6L1240.8 500.1" stroke="#5dffe6" class="c"/>
<path d="M1197.4 479.8H1240.4L1240.5 482.8L1240.8 500.1" stroke="#5fffe0" class="c"/>
<path d="M1197.4 480.1H1240.4L1240.5 483.1L1240.8 500.1" stroke="#60ffda" class="c"/>
<path d="M1197.4 480.3H1240.4L1240.5 483.3L1240.8 500.1" stroke="#61ffd4" class="c"/>
<path d="M1197.4 480.5H1240.4L1240.5 483.5L1240.8 500.1" stroke="#63ffcf" class="c"/>
<path d="M1197.4 480.7H1240.4L1240.5 483.7L1240.8 500.1" stroke="#64ffc9" class="c"/>
<path d="M1197.4 480.9H1240.4L1240.5 483.9L1240.8 500.1" stroke="#66ffc1" class="c"/>
<path d="M1197.4 481.1H1240.4L1240.5 484.1L1240.8 500.1" stroke="#69ffb9" class="c"/>
<path d="M1197.4 481.3H1240.4L1240.5 484.3L1240.8 500.1" stroke="#6bffb1" class="c"/>
<path d="M1197.4 481.5H1240.4L1240.5 484.5L1240.8 500.1" stroke="#6dffa9" class="c"/>
<path d="M1197.4 481.7H1240.4L1240.5 484.7L1240.8 500.1" stroke="#70ffa0" class="c"/>
<path d="M1197.4 481.9H1240.4L1240.5 484.9L1240.8 500.1" stroke="#72ff98" class="c"/>
<path d="M1197.4 482.1H1240.4L1240.8 500.1" stroke="#74ff92" class="c"/>
<path d="M1197.4 482.3H1240.4L1240.8 500.1" stroke="#76ff8d" class="c"/>
<path d="M1197.4 482.5H1240.4L1240.8 500.1" stroke="#78ff87" class="c"/>
<path d="M1197.4 482.7H1240.4L1240.8 500.1" stroke="#7aff81" class="c"/>
<path d="M1197.4 482.9H1240.4L1240.8 500.1" stroke="#7cff7c" class="c"/>
<path d="M1197.4 483.1H1240.4L1240.8 500.1" stroke="#7eff76" class="c"/>
<path d="M1197.4 483.3H1240.4L1240.8 500.1" stroke="#80ff71" class="c"/>
<path d="M1197.4 483.5H1240.4L1240.8 500.1" stroke="#82ff6b" class="c"/>
<path d="M1197.4 483.7H1240.4L1240.8 500.1" stroke="#84ff66" class="c"/>
<path d="M1197.4 483.9H1240.4L1240.7 500.1" stroke="#86ff60" class="c"/>
<path d="M1197.4 484.1H1240.4L1240.7 500.1" stroke="#88ff5b" class="c"/>
<path d="M1197.4 484.2H1240.4L1240.7 500.1" stroke="#8aff55" class="c"/>
<path d="M1197.4 484.4H1240.4L1240.7 500.1" stroke="#8cff4f" class="c"/>
<path d="M1197.4 484.6H1240.4L1240.7 500.1" stroke="#8fff49" class="c"/>
<path d="M1197.4 484.8H1240.4L1240.7 500.1" stroke="#92ff42" class="c"/>
<path d="M1197.4 485H1240.4L1240.7 500.1" stroke="#95ff3c" class="c"/>
<path d="M1197.4 485.1H1240.4L1240.7 500.1" stroke="#98ff35" class="c"/>
<path d="M1197.4 485.3H1240.4L1240.7 500.1" stroke="#9bff2f" class="c"/>
<path d="M1197.4 485.4H1240.4L1240.7 500.1" stroke="#9eff28" class="c"/>
<path d="M1197.4 485.6H1240.4L1240.7 500.1" stroke="#a1ff22" class="c"/>
<path d="M1197.4 485.8H1240.4L1240.7 500.1" stroke="#a4ff1b" class="c"/>
<path d="M1197.4 485.9H1240.4L1240.7 500.1" stroke="#a7ff18" class="c"/>
<path d="M1197.4 486H1240.4L1240.7 500.1" stroke="#abff16" class="c"/>
<path d="M1197.4 486.2H1240.4L1240.7 500.1" stroke="#aeff14" class="c"/>
<path d="M1197.4 486.3H1240.4L1240.7 500.1" stroke="#b2ff12" class="c"/>
<path d="M1197.4 486.4H1240.4L1240.7 500.1" stroke="#b6ff10" class="c"/>
<path d="M1197.4 486.5H1240.4L1240.7 500.1" stroke="#b9ff0e" class="c"/>
<path d="M1197.4 486.6H1240.4L1240.7 500.1" stroke="#bdff0c" class="c"/>
<path d="M1197.4 486.7H1240.4L1240.7 500.1" stroke="#c0ff0a" class="c"/>
<path d="M1197.4 486.9H1240.4L1240.7 500.1" stroke="#c4ff08" class="c"/>
<path d="M1197.4 487H1240.4L1240.7 500.1" stroke="#c7ff06" class="c"/>
<path d="M1197.4 487.1H1240.4L1240.7 500.1" stroke="#cbff04" class="c"/>
<path d="M1197.4 487.2H1240.4L1240.7 500.1" stroke="#ceff02" class="c"/>
<path d="M1197.4 487.3H1240.4L1240.7 500.1" stroke="#d2ff00" class="c"/>
<path d="M1197.4 487.4H1240.4L1240.7 500.1" stroke="#d5ff00" class="c"/>
<path d="M1197.4 487.5H1240.4L1240.7 500.1" stroke="#d9ff00" class="c"/>
<path d="M1197.4 487.6H1240.4L1240.7 500.1" stroke="#ddff00" class="c"/>
<path d="M1197.4 487.7H1240.4L1240.7 500.1" stroke="#e0ff00" class="c"/>
<path d="M1197.4 487.8H1240.4L1240.7 500.1" stroke="#e4ff00" class="c"/>
<path d="M1197.4 487.9H1240.4L1240.7 500.1" stroke="#e8ff00" class="c"/>
<path d="M1197.4 488H1240.4L1240.7 500.1" stroke="#ebff00" class="c"/>
<path d="M1197.4 488.1H1240.4L1240.7 500.1" stroke="#efff00" class="c"/>
<path d="M1197.4 488.2H1240.4L1240.7 500.1" stroke="#f3ff00" class="c"/>
<path d="M1197.4 488.4H1240.4L1240.7 500.1" stroke="#f7ff00" class="c"/>
<path d="M1197.4 488.5H1240.4L1240.7 500.1" stroke="#faff00" class="c"/>
<path d="M1197.4 488.6H1240.4L1240.7 500.1" stroke="#feff00" class="c"/>
<path d="M1197.4 488.8H1240.4L1240.7 500.1" stroke="#fff900" class="c"/>
<path d="M1197.4 489H1240.4L1240.7 500.1" stroke="#fff000" class="c"/>
<path d="M1197.4 489.2H1240.4L1240.7 500.1" stroke="#ffe700" class="c"/>
<path d="M1197.4 489.4H1240.4L1240.7 500.1" stroke="#ffde00" class="c"/>
<path d="M1197.4 489.6H1240.4L1240.6 500.1" stroke="#ffd500" class="c"/>
<path d="M1197.4 489.9H1240.4L1240.6 500.1" stroke="#ffcc00" class="c"/>
<path d="M1197.4 490.1H1240.4L1240.6 500.1" stroke="#ffc300" class="c"/>
<path d="M1197.4 490.4H1240.4L1240.6 500.1" stroke="#ffba00" class="c"/>
<path d="M1197.4 490.6H1240.4L1240.6 500.1" stroke="#ffb000" class="c"/>
<path d="M1197.4 490.8H1240.4L1240.6 500.1" stroke="#ffa700" class="c"/>
<path d="M1197.4 491H1240.4L1240.6 500.1" stroke="#ff9d00" class="c"/>
<path d="M1197.4 491.2H1240.4L1240.6 500.1" stroke="#ff9400" class="c"/>
<path d="M1197.4 491.3H1240.4L1240.6 500.1" stroke="#ff8b00" class="c"/>
<path d="M1197.4 491.5H1240.4L1240.6 500.1" stroke="#ff8100" class="c"/>
<path d="M1197.4 491.6H1240.4L1240.6 500.1" stroke="#ff7c00" class="c"/>
<path d="M1197.4 491.7H1240.4L1240.6 500.1" stroke="#ff7600" class="c"/>
<path d="M1197.4 491.8H1240.4L1240.6 500.1" stroke="#ff7100" class="c"/>
<path d="M1197.4 491.9H1240.4L1240.6 500.1" stroke="#ff6b00" class="c"/>
<path d="M1197.4 492.1H1240.4L1240.6 500.1" stroke="#ff6500" class="c"/>
<path d="M1197.4 492.2H1240.4L1240.6 500.1" stroke="#ff6000" class="c"/>
<path d="M1197.4 492.3H1240.4L1240.6 500.1" stroke="#ff5a00" class="c"/>
<path d="M1197.4 492.3H1240.4L1240.6 500.1" stroke="#ff5400" class="c"/>
<path d="M1197.4 492.4H1240.4L1240.6 500.1" stroke="#ff4f00" class="c"/>
<path d="M1197.4 492.5H1240.4L1240.6 500.1" stroke="#ff4900" class="c"/>
<path d="M1197.4 492.6H1240.4L1240.6 500.1" stroke="#ff4300" class="c"/>
<path d="M1197.4 492.7H1240.4L1240.6 500.1" stroke="#ff3e00" class="c"/>
<path d="M1197.4 492.8H1240.4L1240.6 500.1" stroke="#ff3800" class="c"/>
<path d="M1197.4 492.8H1240.4L1240.6 500.1" stroke="#ff3300" class="c"/>
<path d="M1197.4 492.9H1240.4L1240.6 500.1" stroke="#ff2f00" class="c"/>
<path d="M1197.4 493H1240.4L1240.6 500.1" stroke="#ff2b00" class="c"/>
<path d="M1197.4 493.1H1240.4L1240.6 500.1" stroke="#ff2800" class="c"/>
<path d="M1197.4 493.1H1240.4L1240.6 500.1" stroke="#ff2500" class="c"/>
<path d="M1197.4 493.2H1240.4L1240.6 500.1" stroke="#ff2100" class="c"/>
<path d="M1197.4 493.3H1240.4L1240.6 500.1" stroke="#ff1e00" class="c"/>
<path d="M1197.4 493.4H1240.4L1240.6 500.1" stroke="#ff1a00" class="c"/>
<path d="M1197.4 493.5H1240.4L1240.6 500.1" stroke="#ff1700" class="c"/>
<path d="M1197.4 493.5H1240.4L1240.6 500.1" stroke="#ff1300" class="c"/>
<path d="M1197.4 493.6H1240.4L1240.6 500.1" stroke="#ff1000" class="c"/>
<path d="M1197.4 493.7H1240.4L1240.6 500.1" stroke="#ff0c00" class="c"/>
<path d="M1197.4 493.8H1240.4L1240.6 500.1" stroke="#ff0a00" class="c"/>
<path d="M1197.4 493.9H1240.4L1240.6 500.1" stroke="#fe0900" class="c"/>
<path d="M1197.4 493.9H1240.4L1240.6 500.1" stroke="#fe0800" class="c"/>
<path d="M1197.4 494H1240.4L1240.6 500.1" stroke="#fd0600" class="c"/>
<path d="M1197.4 494.1H1240.4L1240.6 500.1" stroke="#fd0500" class="c"/>
<path d="M1197.4 494.2H1240.4L1240.6 500.1" stroke="#fc0400" class="c"/>
<path d="M1197.4 494.3H1240.4L1240.6 500.1" stroke="#fc0300" class="c"/>
<path d="M1197.4 494.4H1240.4L1240.6 500.1" stroke="#fb0200" class="c"/>
<path d="M1197.4 494.6H1240.4L1240.6 500.1" stroke="#fb0100" class="c"/>
<path d="M1197.4 494.7H1240.4L1240.6 500.1" stroke="#fa0000" class="c"/>
<path d="M1197.4 494.8H1240.4L1240.6 500.1" stroke="#f50000" class="c"/>
<path d="M1197.4 494.9H1240.4L1240.6 500.1" stroke="#f00000" class="c"/>
<path d="M1197.4 495.1H1240.4L1240.5 500.1" stroke="#eb0000" class="c"/>
<path d="M1197.4 495.2H1240.4L1240.5 500.1" stroke="#e60000" class="c"/>
<path d="M1197.4 495.3H1240.4L1240.5 500.1" stroke="#e10000" class="c"/>
<path d="M1197.4 495.5H1240.4L1240.5 500.1" stroke="#dc0000" class="c"/>
<path d="M1197.4 495.6H1240.4L1240.5 500.1" stroke="#d70000" class="c"/>
<path d="M1197.4 495.8H1240.4L1240.5 500.1" stroke="#d20000" class="c"/>
<path d="M1197.4 496H1240.4L1240.5 500.1" stroke="#cd0000" class="c"/>
<path d="M1197.4 496.1H1240.4L1240.5 500.1" stroke="#c80000" class="c"/>
<path d="M1197.4 496.3H1240.4L1240.5 500.1" stroke="#c30000" class="c"/>
<path d="M1197.4 496.5H1240.4L1240.5 500.1" stroke="#be0000" class="c"/>
<path d="M1197.4 496.7H1240.4L1240.5 500.1" stroke="#b90000" class="c"/>
<path d="M1197.4 496.8H1240.4L1240.5 500.1" stroke="#b40000" class="c"/>
<path d="M1197.4 497H1240.4L1240.5 500.1" stroke="#af0000" class="c"/>
<path d="M1197.4 497.2H1240.4L1240.5 500.1" stroke="#aa0000" class="c"/>
<path d="M1197.4 497.5H1240.4L1240.5 500.1" stroke="#a50000" class="c"/>
<path d="M1197.4 497.7H1240.4L1240.5 500.1" stroke="#a00000" class="c"/>
<path d="M1197.4 497.9H1240.4L1240.5 500.1" stroke="#9b0000" class="c"/>
<path d="M1197.4 498.1H1240.4L1240.5 500.1" stroke="#960000" class="c"/>
<path d="M1197.4 498.4H1240.4L1240.5 500.1" stroke="#910000" class="c"/>
<path d="M1197.4 498.7H1240.4L1240.5 500.1" stroke="#8c0000" class="c"/>
<path d="M1197.4 499H1240.4L1240.5 500.1" stroke="#870000" class="c"/>
<path d="M1197.4 499.4H1240.4L1240.5 500.1" stroke="#820000" class="c"/>
</g>
<path d="M1470.9 445.2H1475.5" stroke="#000" stroke-width="1.2" fill="none"/>
<path class="cv" clip-path="url(#cl3)" stroke-linecap="round" d="M1250.1 498.7C1251.8 498.4 1257 498.1 1260.1 497C1263.1 495.9 1265.6 493.8 1268.4 492C1271.2 490.2 1274 487.9 1276.8 486.1C1279.6 484.3 1282.4 482.6 1285.2 481.1C1288 479.6 1290.7 478.4 1293.5 477.3C1296.3 476.2 1297.7 475.8 1301.9 474.4C1306.1 473 1313 470.6 1318.6 468.9C1324.2 467.2 1329.7 465.5 1335.3 464C1340.9 462.5 1346.5 461 1352.1 459.7C1357.7 458.4 1363.2 457.1 1368.8 456C1374.4 454.9 1379.9 454.1 1385.5 453.2C1391.1 452.3 1396.6 451.3 1402.2 450.5C1407.8 449.7 1412.3 448.9 1418.9 448.2C1425.5 447.5 1434.2 446.7 1442 446.2C1449.8 445.7 1461 445.4 1465.8 445.2C1470.6 445 1470 445.2 1470.9 445.2"/>
<rect x="1418.9" y="53.3" width="46" height="425.3" fill="url(#jet)" stroke="#111" stroke-width="1.1"/>
<path d="M1418.9 70h4.5M1464.9 70h-4.5" stroke="#000" stroke-opacity=".75" stroke-width="1" fill="none"/>
<text class="tk" x="1411.3" y="80.4" text-anchor="end">0.7</text>
<path d="M1418.9 128.9h4.5M1464.9 128.9h-4.5" stroke="#000" stroke-opacity=".75" stroke-width="1" fill="none"/>
<text class="tk" x="1411.3" y="139.3" text-anchor="end">0.6</text>
<path d="M1418.9 187.8h4.5M1464.9 187.8h-4.5" stroke="#000" stroke-opacity=".75" stroke-width="1" fill="none"/>
<text class="tk" x="1411.3" y="198.2" text-anchor="end">0.5</text>
<path d="M1418.9 246.7h4.5M1464.9 246.7h-4.5" stroke="#000" stroke-opacity=".75" stroke-width="1" fill="none"/>
<text class="tk" x="1411.3" y="257.1" text-anchor="end">0.4</text>
<path d="M1418.9 305.6h4.5M1464.9 305.6h-4.5" stroke="#000" stroke-opacity=".75" stroke-width="1" fill="none"/>
<text class="tk" x="1411.3" y="316" text-anchor="end">0.3</text>
<path d="M1418.9 364.5h4.5M1464.9 364.5h-4.5" stroke="#000" stroke-opacity=".75" stroke-width="1" fill="none"/>
<text class="tk" x="1411.3" y="374.9" text-anchor="end">0.2</text>
<path d="M1418.9 423.4h4.5M1464.9 423.4h-4.5" stroke="#000" stroke-opacity=".75" stroke-width="1" fill="none"/>
<text class="tk" x="1411.3" y="433.8" text-anchor="end">0.1</text>
<rect class="ax" x="1196.4" y="30" width="279.1" height="470.3"/>
<text class="tk" x="1187.6" y="40.5" text-anchor="end">0.7</text>
<text class="tk" x="1188.8" y="512.1" text-anchor="end">0</text>
<text class="tk" x="1196.4" y="535.1" text-anchor="middle">0</text>
<text class="tk" x="1475.8" y="534.7" text-anchor="middle">1</text>
<text class="gk" x="1333.9" y="570.8" text-anchor="middle" stroke-width=".3">ξ</text>
<text class="gk" stroke-width=".7" text-anchor="middle" transform="translate(1132.9 266) rotate(-90)">η</text>
<text class="tk" x="1216.1" y="87.4">t<tspan x="1226.7" dy="4" font-size="33px" font-weight="bold" textLength="13.1" lengthAdjust="spacingAndGlyphs">=</tspan><tspan x="1242.1" dy="-4">2.75</tspan></text>
</g>
<g id="panel5">
<clipPath id="cl4"><rect x="94.5" y="683.3" width="279.1" height="469.5"/></clipPath>
<g class="ct" clip-path="url(#cl4)">
<path d="M95.5 972H138.3L138.9 975L139.2 980L139.6 992L140.2 1022L140.7 1072L140.9 1122L140.9 1152.6" stroke="#0000b1"/>
<path d="M95.5 1015.5H138.4L138.9 1018.5L139.2 1023.5L139.6 1035.5L140.1 1065.5L140.6 1115.5L140.7 1152.6" stroke="#0000be"/>
<path d="M95.5 1033.7H138.4L138.9 1036.7L139.3 1041.7L139.6 1053.7L140.1 1083.7L140.6 1133.7L140.6 1152.6" stroke="#0000cb"/>
<path d="M95.5 1044.8H138.4L138.9 1047.8L139.3 1052.8L139.6 1064.8L140.1 1094.8L140.6 1152.6" stroke="#0000d8"/>
<path d="M95.5 1051H138.4L138.9 1054L139.3 1059L139.6 1071L140.1 1101L140.5 1152.6" stroke="#0001e0"/>
<path d="M95.5 1055.4H138.4L138.9 1058.4L139.3 1063.4L139.6 1075.4L140.1 1105.4L140.5 1152.6" stroke="#0002e5"/>
<path d="M95.5 1058.9H138.4L139 1061.9L139.3 1066.9L139.6 1078.9L140.1 1108.9L140.5 1152.6" stroke="#0003eb"/>
<path d="M95.5 1061H138.4L138.8 1064L139 1069L139.3 1081L139.8 1111L140.2 1152.6" stroke="#0003f1"/>
<path d="M95.5 1062.8H138.4L138.7 1065.8L138.9 1070.8L139.1 1082.8L139.6 1112.8L140 1152.6" stroke="#0004f6"/>
<path d="M95.5 1064.3H138.4L138.6 1067.3L138.8 1072.3L139.1 1084.3L139.6 1114.3L139.9 1152.6" stroke="#0006fa"/>
<path d="M95.5 1065.8H138.4L138.6 1068.8L138.8 1073.8L139.1 1085.8L139.6 1115.8L139.9 1152.6" stroke="#0208fa"/>
<path d="M95.5 1067.4H138.4L138.6 1070.4L138.7 1075.4L139 1087.4L139.4 1117.4L139.8 1152.6" stroke="#030bfa" class="a"/>
<path d="M95.5 1068.5H138.4L138.5 1071.5L138.6 1076.5L138.9 1088.5L139.4 1118.5L139.7 1152.6" stroke="#050dfa" class="c"/>
<path d="M95.5 1069.3H138.4L138.5 1072.3L138.6 1077.3L138.9 1089.3L139.4 1119.3L139.7 1152.6" stroke="#0610fa" class="c"/>
<path d="M95.5 1070.1H138.4L138.5 1073.1L138.6 1078.1L138.9 1090.1L139.4 1120.1L139.7 1152.6" stroke="#0812fa" class="c"/>
<path d="M95.5 1070.8H138.4L138.5 1073.8L138.6 1078.8L138.9 1090.8L139.4 1120.8L139.7 1152.6" stroke="#0914fa" class="c"/>
<path d="M95.5 1071.4H138.4L138.5 1074.4L138.6 1079.4L138.9 1091.4L139.4 1121.4L139.7 1152.6" stroke="#0b17fa" class="c"/>
<path d="M95.5 1072H138.4L138.5 1075L138.6 1080L138.9 1092L139.4 1122L139.7 1152.6" stroke="#0c19fa" class="c"/>
<path d="M95.5 1072.5H138.4L138.5 1075.5L138.6 1080.5L138.9 1092.5L139.4 1122.5L139.7 1152.6" stroke="#0e1cfa" class="c"/>
<path d="M95.5 1073H138.4L138.5 1076L138.6 1081L138.9 1093L139.4 1123L139.6 1152.6" stroke="#0f1efa" class="c"/>
<path d="M95.5 1073.5H138.4L138.5 1076.5L138.6 1081.5L138.9 1093.5L139.4 1123.5L139.6 1152.6" stroke="#1120fa" class="c"/>
<path d="M95.5 1073.9H138.4L138.5 1076.9L138.6 1081.9L138.9 1093.9L139.4 1123.9L139.6 1152.6" stroke="#1223fa" class="c"/>
<path d="M95.5 1074.3H138.4L138.5 1077.3L138.6 1082.3L138.9 1094.3L139.4 1124.3L139.6 1152.6" stroke="#1425fa" class="c"/>
<path d="M95.5 1074.7H138.5L138.5 1077.7L138.6 1082.7L138.9 1094.7L139.4 1124.7L139.6 1152.6" stroke="#1527fa" class="c"/>
<path d="M95.5 1075.2H138.5L138.5 1078.2L138.6 1083.2L138.9 1095.2L139.4 1125.2L139.6 1152.6" stroke="#1629fa" class="c"/>
<path d="M95.5 1075.6H138.5L138.5 1078.6L138.6 1083.6L138.9 1095.6L139.4 1125.6L139.6 1152.6" stroke="#182bfa" class="c"/>
<path d="M95.5 1076H138.5L138.5 1079L138.6 1084L138.9 1096L139.4 1126L139.6 1152.6" stroke="#192efa" class="c"/>
<path d="M95.5 1076.4H138.5L138.5 1079.4L138.6 1084.4L138.9 1096.4L139.4 1126.4L139.6 1152.6" stroke="#1a30fa" class="c"/>
<path d="M95.5 1076.9H138.5L138.5 1079.9L138.6 1084.9L138.9 1096.9L139.4 1126.9L139.6 1152.6" stroke="#1b32fb" class="c"/>
<path d="M95.5 1077.3H138.5L138.5 1080.3L138.6 1085.3L138.9 1097.3L139.4 1127.3L139.6 1152.6" stroke="#1b34fb" class="c"/>
<path d="M95.5 1077.8H138.5L138.5 1080.8L138.6 1085.8L138.9 1097.8L139.4 1127.8L139.6 1152.6" stroke="#1c36fb" class="c"/>
<path d="M95.5 1078.4H138.5L138.5 1081.4L138.6 1086.4L138.9 1098.4L139.4 1128.4L139.6 1152.6" stroke="#1d39fc" class="c"/>
<path d="M95.5 1079H138.5L138.5 1082L138.6 1087L138.9 1099L139.4 1129L139.6 1152.6" stroke="#1e3bfc" class="c"/>
<path d="M95.5 1079.7H138.5L138.5 1082.7L138.7 1087.7L138.9 1099.7L139.4 1129.7L139.6 1152.6" stroke="#1f3dfc" class="c"/>
<path d="M95.5 1080.4H138.5L138.5 1083.4L138.7 1088.4L138.9 1100.4L139.4 1130.4L139.6 1152.6" stroke="#2040fd" class="c"/>
<path d="M95.5 1081.1H138.5L138.5 1084.1L138.7 1089.1L138.9 1101.1L139.4 1131.1L139.6 1152.6" stroke="#2243fd" class="c"/>
<path d="M95.5 1081.9H138.5L138.5 1084.9L138.7 1089.9L138.9 1101.9L139.4 1131.9L139.6 1152.6" stroke="#2346fe" class="c"/>
<path d="M95.5 1082.7H138.5L138.5 1085.7L138.7 1090.7L138.9 1102.7L139.4 1132.7L139.6 1152.6" stroke="#2549fe" class="c"/>
<path d="M95.5 1083.5H138.5L138.5 1086.5L138.7 1091.5L138.9 1103.5L139.4 1133.5L139.5 1152.6" stroke="#264cfe" class="c"/>
<path d="M95.5 1084.3H138.5L138.5 1087.3L138.7 1092.3L138.9 1104.3L139.4 1134.3L139.5 1152.6" stroke="#284fff" class="c"/>
<path d="M95.5 1085.2H138.5L138.5 1088.2L138.7 1093.2L138.9 1105.2L139.4 1135.2L139.5 1152.6" stroke="#2953ff" class="c"/>
<path d="M95.5 1086H138.5L138.5 1089L138.7 1094L138.9 1106L139.4 1136L139.5 1152.6" stroke="#2a56ff" class="c"/>
<path d="M95.5 1086.8H138.5L138.5 1089.8L138.7 1094.8L138.9 1106.8L139.4 1136.8L139.5 1152.6" stroke="#2b5aff" class="c"/>
<path d="M95.5 1087.7H138.5L138.5 1090.7L138.7 1095.7L138.9 1107.7L139.5 1152.6" stroke="#2d5eff" class="c"/>
<path d="M95.5 1088.5H138.5L138.5 1091.5L138.7 1096.5L138.9 1108.5L139.5 1152.6" stroke="#2e61ff" class="c"/>
<path d="M95.5 1089.3H138.5L138.5 1092.3L138.7 1097.3L138.9 1109.3L139.5 1152.6" stroke="#2f65ff" class="c"/>
<path d="M95.5 1090H138.5L138.5 1093L138.7 1098L138.9 1110L139.5 1152.6" stroke="#3069ff" class="c"/>
<path d="M95.5 1090.7H138.5L138.5 1093.7L138.7 1098.7L138.9 1110.7L139.5 1152.6" stroke="#316cff" class="c"/>
<path d="M95.5 1091.4H138.5L138.5 1094.4L138.7 1099.4L138.9 1111.4L139.5 1152.6" stroke="#3373fe" class="c"/>
<path d="M95.5 1092H138.5L138.5 1095L138.7 1100L138.9 1112L139.5 1152.6" stroke="#367dfd" class="c"/>
<path d="M95.5 1092.6H138.5L138.5 1095.6L138.7 1100.6L138.9 1112.6L139.5 1152.6" stroke="#3887fc" class="c"/>
<path d="M95.5 1093.1H138.5L138.5 1096.1L138.7 1101.1L138.9 1113.1L139.4 1152.6" stroke="#3b91fb" class="c"/>
<path d="M95.5 1093.6H138.5L138.5 1096.6L138.7 1101.6L138.9 1113.6L139.4 1152.6" stroke="#3f9afa" class="c"/>
<path d="M95.5 1094.1H138.5L138.5 1097.1L138.7 1102.1L138.9 1114.1L139.4 1152.6" stroke="#45a3fa" class="c"/>
<path d="M95.5 1094.6H138.5L138.5 1097.6L138.7 1102.6L138.9 1114.6L139.4 1152.6" stroke="#4bacfa" class="c"/>
<path d="M95.5 1095.1H138.5L138.5 1098.1L138.7 1103.1L138.9 1115.1L139.4 1152.6" stroke="#50b5fa" class="c"/>
<path d="M95.5 1095.6H138.5L138.5 1098.6L138.7 1103.6L138.9 1115.6L139.4 1152.6" stroke="#53c3fa" class="c"/>
<path d="M95.5 1096H138.5L138.5 1099L138.7 1104L138.9 1116L139.4 1152.6" stroke="#57d2fa" class="c"/>
<path d="M95.5 1096.4H138.5L138.6 1099.4L138.7 1104.4L138.9 1116.4L139.4 1152.6" stroke="#5ae0fa" class="c"/>
<path d="M95.5 1096.9H138.5L138.6 1099.9L138.7 1104.9L138.9 1116.9L139.4 1152.6" stroke="#5ceafa" class="c"/>
<path d="M95.5 1097.3H138.5L138.6 1100.3L138.7 1105.3L138.9 1117.3L139.4 1152.6" stroke="#5ef5fa" class="c"/>
<path d="M95.5 1097.8H138.5L138.6 1100.8L138.7 1105.8L138.9 1117.8L139.4 1152.6" stroke="#5ffafa" class="c"/>
<path d="M95.5 1098.2H138.5L138.6 1101.2L138.7 1106.2L138.9 1118.2L139.4 1152.6" stroke="#5efbf9" class="c"/>
<path d="M95.5 1098.7H138.5L138.6 1101.7L138.7 1106.7L138.9 1118.7L139.4 1152.6" stroke="#5dfcf8" class="c"/>
<path d="M95.5 1099.1H138.5L138.6 1102.1L138.7 1107.1L138.9 1119.1L139.4 1152.6" stroke="#5cfdf7" class="c"/>
<path d="M95.5 1099.6H138.5L138.6 1102.6L138.7 1107.6L138.9 1119.6L139.4 1152.6" stroke="#5bfef6" class="c"/>
<path d="M95.5 1100.1H138.5L138.6 1103.1L138.7 1108.1L138.9 1120.1L139.4 1152.6" stroke="#5afff5" class="c"/>
<path d="M95.5 1100.6H138.5L138.6 1103.6L138.7 1108.6L138.9 1120.6L139.4 1152.6" stroke="#5bfff2" class="c"/>
<path d="M95.5 1101.1H138.5L138.6 1104.1L138.7 1109.1L138.9 1121.1L139.4 1152.6" stroke="#5cffec" class="c"/>
<path d="M95.5 1101.5H138.5L138.6 1104.5L138.7 1109.5L138.9 1121.5L139.4 1152.6" stroke="#5dffe6" class="c"/>
<path d="M95.5 1102H138.5L138.6 1105L138.7 1110L138.9 1122L139.3 1152.6" stroke="#5fffe0" class="c"/>
<path d="M95.5 1102.5H138.5L138.6 1105.5L138.7 1110.5L138.9 1122.5L139.3 1152.6" stroke="#60ffda" class="c"/>
<path d="M95.5 1103H138.5L138.6 1106L138.7 1111L138.9 1123L139.3 1152.6" stroke="#61ffd4" class="c"/>
<path d="M95.5 1103.5H138.5L138.6 1106.5L138.7 1111.5L138.9 1123.5L139.3 1152.6" stroke="#63ffcf" class="c"/>
<path d="M95.5 1104H138.5L138.6 1107L138.7 1112L138.9 1124L139.3 1152.6" stroke="#64ffc9" class="c"/>
<path d="M95.5 1104.5H138.5L138.6 1107.5L138.7 1112.5L138.9 1124.5L139.3 1152.6" stroke="#66ffc1" class="c"/>
<path d="M95.5 1105H138.5L138.6 1108L138.7 1113L138.9 1125L139.3 1152.6" stroke="#69ffb9" class="c"/>
<path d="M95.5 1105.5H138.5L138.6 1108.5L138.7 1113.5L138.9 1125.5L139.3 1152.6" stroke="#6bffb1" class="c"/>
<path d="M95.5 1106H138.5L138.6 1109L138.7 1114L138.9 1126L139.3 1152.6" stroke="#6dffa9" class="c"/>
<path d="M95.5 1106.5H138.5L138.6 1109.5L138.7 1114.5L138.9 1126.5L139.3 1152.6" stroke="#70ffa0" class="c"/>
<path d="M95.5 1107H138.5L138.6 1110L138.7 1115L138.9 1127L139.3 1152.6" stroke="#72ff98" class="c"/>
<path d="M95.5 1107.5H138.5L138.6 1110.5L138.7 1115.5L138.9 1127.5L139.3 1152.6" stroke="#74ff92" class="c"/>
<path d="M95.5 1108H138.5L138.6 1111L138.7 1116L138.9 1128L139.3 1152.6" stroke="#76ff8d" class="c"/>
<path d="M95.5 1108.5H138.5L138.6 1111.5L138.7 1116.5L138.9 1128.5L139.3 1152.6" stroke="#78ff87" class="c"/>
<path d="M95.5 1109.1H138.5L138.6 1112.1L138.7 1117.1L138.9 1129.1L139.3 1152.6" stroke="#7aff81" class="c"/>
<path d="M95.5 1109.6H138.5L138.6 1112.6L138.7 1117.6L138.9 1129.6L139.3 1152.6" stroke="#7cff7c" class="c"/>
<path d="M95.5 1110.1H138.5L138.6 1113.1L138.7 1118.1L138.9 1130.1L139.2 1152.6" stroke="#7eff76" class="c"/>
<path d="M95.5 1110.6H138.5L138.6 1113.6L138.7 1118.6L138.9 1130.6L139.2 1152.6" stroke="#80ff71" class="c"/>
<path d="M95.5 1111.1H138.5L138.6 1114.1L138.7 1119.1L138.9 1131.1L139.2 1152.6" stroke="#82ff6b" class="c"/>
<path d="M95.5 1111.7H138.5L138.6 1114.7L138.7 1119.7L138.9 1131.7L139.2 1152.6" stroke="#84ff66" class="c"/>
<path d="M95.5 1112.2H138.5L138.6 1115.2L138.7 1120.2L138.9 1132.2L139.2 1152.6" stroke="#86ff60" class="c"/>
<path d="M95.5 1112.8H138.5L138.6 1115.8L138.7 1120.8L138.9 1132.8L139.2 1152.6" stroke="#88ff5b" class="c"/>
<path d="M95.5 1113.3H138.5L138.6 1116.3L138.7 1121.3L138.9 1133.3L139.2 1152.6" stroke="#8aff55" class="c"/>
<path d="M95.5 1114H138.5L138.6 1117L138.7 1122L138.9 1134L139.2 1152.6" stroke="#8cff4f" class="c"/>
<path d="M95.5 1114.6H138.5L138.6 1117.6L138.7 1122.6L138.9 1134.6L139.2 1152.6" stroke="#8fff49" class="c"/>
<path d="M95.5 1115.2H138.5L138.6 1118.2L138.7 1123.2L138.9 1135.2L139.2 1152.6" stroke="#92ff42" class="c"/>
<path d="M95.5 1115.8H138.5L138.6 1118.8L138.7 1123.8L138.9 1135.8L139.2 1152.6" stroke="#95ff3c" class="c"/>
<path d="M95.5 1116.4H138.5L138.6 1119.4L138.7 1124.4L138.9 1136.4L139.2 1152.6" stroke="#98ff35" class="c"/>
<path d="M95.5 1117H138.5L138.6 1120L138.7 1125L138.9 1137L139.1 1152.6" stroke="#9bff2f" class="c"/>
<path d="M95.5 1117.6H138.5L138.6 1120.6L138.7 1125.6L138.9 1137.6L139.1 1152.6" stroke="#9eff28" class="c"/>
<path d="M95.5 1118.1H138.5L138.6 1121.1L138.7 1126.1L139.1 1152.6" stroke="#a1ff22" class="c"/>
<path d="M95.5 1118.5H138.5L138.6 1121.5L138.7 1126.5L139.1 1152.6" stroke="#a4ff1b" class="c"/>
<path d="M95.5 1118.9H138.5L138.6 1121.9L138.7 1126.9L139.1 1152.6" stroke="#a7ff18" class="c"/>
<path d="M95.5 1119.2H138.5L138.6 1122.2L138.7 1127.2L139.1 1152.6" stroke="#abff16" class="c"/>
<path d="M95.5 1119.5H138.5L138.6 1122.5L138.7 1127.5L139.1 1152.6" stroke="#aeff14" class="c"/>
<path d="M95.5 1119.8H138.5L138.6 1122.8L138.7 1127.8L139.1 1152.6" stroke="#b2ff12" class="c"/>
<path d="M95.5 1120.1H138.5L138.6 1123.1L138.7 1128.1L139.1 1152.6" stroke="#b6ff10" class="c"/>
<path d="M95.5 1120.4H138.5L138.6 1123.4L138.7 1128.4L139.1 1152.6" stroke="#b9ff0e" class="c"/>
<path d="M95.5 1120.6H138.5L138.6 1123.6L138.7 1128.6L139.1 1152.6" stroke="#bdff0c" class="c"/>
<path d="M95.5 1120.8H138.5L138.6 1123.8L138.7 1128.8L139.1 1152.6" stroke="#c0ff0a" class="c"/>
<path d="M95.5 1121H138.5L138.6 1124L138.7 1129L139.1 1152.6" stroke="#c4ff08" class="c"/>
<path d="M95.5 1121.3H138.5L138.6 1124.3L138.7 1129.3L139.1 1152.6" stroke="#c7ff06" class="c"/>
<path d="M95.5 1121.4H138.5L138.6 1124.4L138.7 1129.4L139.1 1152.6" stroke="#cbff04" class="c"/>
<path d="M95.5 1121.6H138.5L138.6 1124.6L138.7 1129.6L139.1 1152.6" stroke="#ceff02" class="c"/>
<path d="M95.5 1121.8H138.5L138.6 1124.8L138.7 1129.8L139.1 1152.6" stroke="#d2ff00" class="c"/>
<path d="M95.5 1122H138.5L138.6 1125L138.7 1130L139.1 1152.6" stroke="#d5ff00" class="c"/>
<path d="M95.5 1122.2H138.5L138.6 1125.2L138.7 1130.2L139.1 1152.6" stroke="#d9ff00" class="c"/>
<path d="M95.5 1122.4H138.5L138.6 1125.4L138.7 1130.4L139.1 1152.6" stroke="#ddff00" class="c"/>
<path d="M95.5 1122.6H138.5L138.6 1125.6L138.7 1130.6L139.1 1152.6" stroke="#e0ff00" class="c"/>
<path d="M95.5 1122.8H138.5L138.6 1125.8L138.7 1130.8L139.1 1152.6" stroke="#e4ff00" class="c"/>
<path d="M95.5 1123H138.5L138.6 1126L138.7 1131L139.1 1152.6" stroke="#e8ff00" class="c"/>
<path d="M95.5 1123.2H138.5L138.6 1126.2L138.7 1131.2L139.1 1152.6" stroke="#ebff00" class="c"/>
<path d="M95.5 1123.4H138.5L138.6 1126.4L138.7 1131.4L139.1 1152.6" stroke="#efff00" class="c"/>
<path d="M95.5 1123.7H138.5L138.6 1126.7L138.7 1131.7L139.1 1152.6" stroke="#f3ff00" class="c"/>
<path d="M95.5 1123.9H138.5L138.6 1126.9L138.7 1131.9L139 1152.6" stroke="#f7ff00" class="c"/>
<path d="M95.5 1124.2H138.5L138.6 1127.2L138.7 1132.2L139 1152.6" stroke="#faff00" class="c"/>
<path d="M95.5 1124.5H138.5L138.6 1127.5L138.7 1132.5L139 1152.6" stroke="#feff00" class="c"/>
<path d="M95.5 1124.8H138.5L138.6 1127.8L138.7 1132.8L139 1152.6" stroke="#fff900" class="c"/>
<path d="M95.5 1125.2H138.5L138.6 1128.2L138.7 1133.2L139 1152.6" stroke="#fff000" class="c"/>
<path d="M95.5 1125.6H138.5L138.6 1128.6L138.7 1133.6L139 1152.6" stroke="#ffe700" class="c"/>
<path d="M95.5 1126H138.5L138.6 1129L138.7 1134L139 1152.6" stroke="#ffde00" class="c"/>
<path d="M95.5 1126.5H138.5L138.6 1129.5L138.7 1134.5L139 1152.6" stroke="#ffd500" class="c"/>
<path d="M95.5 1127H138.5L138.6 1130L138.7 1135L139 1152.6" stroke="#ffcc00" class="c"/>
<path d="M95.5 1127.5H138.5L138.6 1130.5L138.7 1135.5L139 1152.6" stroke="#ffc300" class="c"/>
<path d="M95.5 1128H138.5L138.6 1131L138.7 1136L139 1152.6" stroke="#ffba00" class="c"/>
<path d="M95.5 1128.6H138.5L138.6 1131.6L138.7 1136.6L139 1152.6" stroke="#ffb000" class="c"/>
<path d="M95.5 1129H138.5L138.6 1132L138.7 1137L139 1152.6" stroke="#ffa700" class="c"/>
<path d="M95.5 1129.5H138.5L138.6 1132.5L138.7 1137.5L139 1152.6" stroke="#ff9d00" class="c"/>
<path d="M95.5 1129.9H138.5L138.6 1132.9L139 1152.6" stroke="#ff9400" class="c"/>
<path d="M95.5 1130.3H138.5L138.6 1133.3L139 1152.6" stroke="#ff8b00" class="c"/>
<path d="M95.5 1130.6H138.5L138.6 1133.6L138.9 1152.6" stroke="#ff8100" class="c"/>
<path d="M95.5 1131H138.5L138.6 1134L138.9 1152.6" stroke="#ff7c00" class="c"/>
<path d="M95.5 1131.3H138.5L138.6 1134.3L138.9 1152.6" stroke="#ff7600" class="c"/>
<path d="M95.5 1131.7H138.5L138.6 1134.7L138.9 1152.6" stroke="#ff7100" class="c"/>
<path d="M95.5 1132H138.5L138.6 1135L138.9 1152.6" stroke="#ff6b00" class="c"/>
<path d="M95.5 1132.3H138.5L138.6 1135.3L138.9 1152.6" stroke="#ff6500" class="c"/>
<path d="M95.5 1132.6H138.5L138.6 1135.6L138.9 1152.6" stroke="#ff6000" class="c"/>
<path d="M95.5 1132.9H138.5L138.6 1135.9L138.9 1152.6" stroke="#ff5a00" class="c"/>
<path d="M95.5 1133.2H138.5L138.6 1136.2L138.9 1152.6" stroke="#ff5400" class="c"/>
<path d="M95.5 1133.5H138.5L138.6 1136.5L138.9 1152.6" stroke="#ff4f00" class="c"/>
<path d="M95.5 1133.8H138.5L138.6 1136.8L138.9 1152.6" stroke="#ff4900" class="c"/>
<path d="M95.5 1134.1H138.5L138.6 1137.1L138.9 1152.6" stroke="#ff4300" class="c"/>
<path d="M95.5 1134.4H138.5L138.6 1137.4L138.9 1152.6" stroke="#ff3e00" class="c"/>
<path d="M95.5 1134.6H138.5L138.6 1137.6L138.9 1152.6" stroke="#ff3800" class="c"/>
<path d="M95.5 1134.9H138.5L138.9 1152.6" stroke="#ff3300" class="c"/>
<path d="M95.5 1135.1H138.5L138.9 1152.6" stroke="#ff2f00" class="c"/>
<path d="M95.5 1135.4H138.5L138.9 1152.6" stroke="#ff2b00" class="c"/>
<path d="M95.5 1135.6H138.5L138.9 1152.6" stroke="#ff2800" class="c"/>
<path d="M95.5 1135.8H138.5L138.9 1152.6" stroke="#ff2500" class="c"/>
<path d="M95.5 1136H138.5L138.9 1152.6" stroke="#ff2100" class="c"/>
<path d="M95.5 1136.3H138.5L138.9 1152.6" stroke="#ff1e00" class="c"/>
<path d="M95.5 1136.5H138.5L138.8 1152.6" stroke="#ff1a00" class="c"/>
<path d="M95.5 1136.7H138.5L138.8 1152.6" stroke="#ff1700" class="c"/>
<path d="M95.5 1136.9H138.5L138.8 1152.6" stroke="#ff1300" class="c"/>
<path d="M95.5 1137.1H138.5L138.8 1152.6" stroke="#ff1000" class="c"/>
<path d="M95.5 1137.3H138.5L138.8 1152.6" stroke="#ff0c00" class="c"/>
<path d="M95.5 1137.6H138.5L138.8 1152.6" stroke="#ff0a00" class="c"/>
<path d="M95.5 1137.8H138.5L138.8 1152.6" stroke="#fe0900" class="c"/>
<path d="M95.5 1138H138.5L138.8 1152.6" stroke="#fe0800" class="c"/>
<path d="M95.5 1138.3H138.5L138.8 1152.6" stroke="#fd0600" class="c"/>
<path d="M95.5 1138.6H138.5L138.8 1152.6" stroke="#fd0500" class="c"/>
<path d="M95.5 1138.8H138.5L138.8 1152.6" stroke="#fc0400" class="c"/>
<path d="M95.5 1139.1H138.5L138.8 1152.6" stroke="#fc0300" class="c"/>
<path d="M95.5 1139.4H138.5L138.8 1152.6" stroke="#fb0200" class="c"/>
<path d="M95.5 1139.8H138.5L138.8 1152.6" stroke="#fb0100" class="c"/>
<path d="M95.5 1140.1H138.5L138.8 1152.6" stroke="#fa0000" class="c"/>
<path d="M95.5 1140.5H138.5L138.8 1152.6" stroke="#f50000" class="c"/>
<path d="M95.5 1140.9H138.5L138.8 1152.6" stroke="#f00000" class="c"/>
<path d="M95.5 1141.5H138.5L138.8 1152.6" stroke="#eb0000" class="c"/>
<path d="M95.5 1142.1H138.5L138.7 1152.6" stroke="#e60000" class="c"/>
<path d="M95.5 1142.8H138.5L138.7 1152.6" stroke="#e10000" class="c"/>
<path d="M95.5 1143.5H138.5L138.7 1152.6" stroke="#dc0000" class="c"/>
<path d="M95.5 1144.2H138.5L138.7 1152.6" stroke="#d70000" class="c"/>
<path d="M95.5 1144.9H138.5L138.7 1152.6" stroke="#d20000" class="c"/>
<path d="M95.5 1145.6H138.5L138.7 1152.6" stroke="#cd0000" class="c"/>
<path d="M95.5 1146.2H138.5L138.7 1152.6" stroke="#c80000" class="c"/>
<path d="M95.5 1146.7H138.5L138.7 1152.6" stroke="#c30000" class="c"/>
<path d="M95.5 1147.2H138.5L138.7 1152.6" stroke="#be0000" class="c"/>
<path d="M95.5 1147.6H138.5L138.6 1152.6" stroke="#b90000" class="c"/>
<path d="M95.5 1148.1H138.5L138.6 1152.6" stroke="#b40000" class="c"/>
<path d="M95.5 1148.5H138.5L138.6 1152.6" stroke="#af0000" class="c"/>
<path d="M95.5 1148.9H138.5L138.6 1152.6" stroke="#aa0000" class="c"/>
<path d="M95.5 1149.3H138.5L138.6 1152.6" stroke="#a50000" class="c"/>
<path d="M95.5 1149.7H138.5L138.6 1152.6" stroke="#a00000" class="c"/>
<path d="M95.5 1150.1H138.5L138.6 1152.6" stroke="#9b0000" class="c"/>
<path d="M95.5 1150.4H138.5L138.6 1152.6" stroke="#960000" class="c"/>
<path d="M95.5 1150.7H138.5L138.6 1152.6" stroke="#910000" class="c"/>
<path d="M95.5 1151H138.5L138.6 1152.6" stroke="#8c0000" class="c"/>
<path d="M95.5 1151.3H138.5L138.6 1152.6" stroke="#870000" class="c"/>
<path d="M95.5 1151.6H138.5L138.6 1152.6" stroke="#820000" class="c"/>
</g>
<path class="cv" clip-path="url(#cl4)" d="M145.1 1151.9C146.2 1151.5 149.5 1150.8 151.7 1149.6C153.9 1148.4 156.4 1146.3 158.4 1144.5C160.4 1142.7 161.2 1141.6 163.4 1138.7C165.6 1135.8 169 1131.2 171.8 1127C174.6 1122.8 177.4 1117.8 180.2 1113.6C183 1109.4 185.7 1105.5 188.5 1101.9C191.3 1098.3 194.1 1094.8 196.9 1091.9C199.7 1089 202.5 1086.4 205.3 1084.3C208.1 1082.2 210.8 1080.7 213.6 1079.3C216.4 1077.9 219.2 1076.9 222 1076C224.8 1075.1 226.1 1074.6 230.3 1073.8C234.5 1073 241.5 1071.8 247.1 1071C252.7 1070.2 258.2 1069.5 263.8 1068.8C269.4 1068.1 274.9 1067.6 280.5 1067.1C286.1 1066.6 291.1 1066.3 297.2 1066C303.3 1065.7 310.2 1065.3 317.3 1065.1C324.4 1064.9 332.3 1064.9 340 1064.8C347.7 1064.7 357.7 1064.6 363.3 1064.6C368.9 1064.6 371.8 1064.6 373.5 1064.6"/>
<rect x="317" y="705.8" width="46" height="425.3" fill="url(#jet)" stroke="#111" stroke-width="1.1"/>
<path d="M317 728.5h4.5M363 728.5h-4.5" stroke="#000" stroke-opacity=".75" stroke-width="1" fill="none"/>
<text class="tk" x="309.4" y="738.9" text-anchor="end">0.7</text>
<path d="M317 786.4h4.5M363 786.4h-4.5" stroke="#000" stroke-opacity=".75" stroke-width="1" fill="none"/>
<text class="tk" x="309.4" y="796.8" text-anchor="end">0.6</text>
<path d="M317 844.2h4.5M363 844.2h-4.5" stroke="#000" stroke-opacity=".75" stroke-width="1" fill="none"/>
<text class="tk" x="309.4" y="854.6" text-anchor="end">0.5</text>
<path d="M317 902.1h4.5M363 902.1h-4.5" stroke="#000" stroke-opacity=".75" stroke-width="1" fill="none"/>
<text class="tk" x="309.4" y="912.5" text-anchor="end">0.4</text>
<path d="M317 960h4.5M363 960h-4.5" stroke="#000" stroke-opacity=".75" stroke-width="1" fill="none"/>
<text class="tk" x="309.4" y="970.4" text-anchor="end">0.3</text>
<path d="M317 1017.8h4.5M363 1017.8h-4.5" stroke="#000" stroke-opacity=".75" stroke-width="1" fill="none"/>
<text class="tk" x="309.4" y="1028.2" text-anchor="end">0.2</text>
<path d="M317 1075.7h4.5M363 1075.7h-4.5" stroke="#000" stroke-opacity=".75" stroke-width="1" fill="none"/>
<text class="tk" x="309.4" y="1086.1" text-anchor="end">0.1</text>
<rect class="ax" x="94.5" y="683.3" width="279.1" height="469.5"/>
<text class="tk" x="85.7" y="693.8" text-anchor="end">0.7</text>
<text class="tk" x="86.9" y="1164.6" text-anchor="end">0</text>
<text class="tk" x="94.5" y="1187.6" text-anchor="middle">0</text>
<text class="tk" x="373.9" y="1187.2" text-anchor="middle">1</text>
<text class="gk" x="231.9" y="1223.3" text-anchor="middle" stroke-width=".3">ξ</text>
<text class="gk" stroke-width=".7" text-anchor="middle" transform="translate(31 919.3) rotate(-90)">η</text>
<text class="tk" x="114.2" y="740.7">t<tspan x="124.8" dy="4" font-size="33px" font-weight="bold" textLength="13.1" lengthAdjust="spacingAndGlyphs">=</tspan><tspan x="140.2" dy="-4">3.00</tspan></text>
</g>
<g id="panel6">
<clipPath id="cl5"><rect x="461.8" y="683.3" width="279.1" height="469.5"/></clipPath>
<g class="ct" clip-path="url(#cl5)">
<path d="M462.8 937.4H505.6L506.1 940.4L506.5 945.4L506.8 957.4L507.5 987.4L508.1 1037.4L508.3 1087.4L508.3 1137.4L508.3 1152.6" stroke="#0000b1"/>
<path d="M462.8 957.1H505.6L506.1 960.1L506.5 965.1L506.9 977.1L507.5 1007.1L508.1 1057.1L508.3 1107.1L508.3 1152.6" stroke="#0000be"/>
<path d="M462.8 964.5H505.6L506.1 967.5L506.5 972.5L506.9 984.5L507.5 1014.5L508 1064.5L508.2 1114.5L508.2 1152.6" stroke="#0000cb"/>
<path d="M462.8 968.1H505.6L506.1 971.1L506.5 976.1L506.9 988.1L507.5 1018.1L508 1068.1L508.2 1118.1L508.2 1152.6" stroke="#0000d8"/>
<path d="M462.8 970.5H505.6L506 973.5L506.2 978.5L506.6 990.5L507.2 1020.5L507.7 1070.5L507.9 1120.5L507.9 1152.6" stroke="#0001e0"/>
<path d="M462.8 972H505.6L505.8 975L506 980L506.3 992L506.9 1022L507.5 1072L507.6 1122L507.7 1152.6" stroke="#0002e5" class="a"/>
<path d="M462.8 973.4H505.6L505.8 976.4L505.9 981.4L506.3 993.4L506.9 1023.4L507.4 1073.4L507.6 1123.4L507.6 1152.6" stroke="#0003eb" class="a"/>
<path d="M462.8 974.8H505.6L505.8 977.8L505.9 982.8L506.3 994.8L506.9 1024.8L507.4 1074.8L507.6 1124.8L507.6 1152.6" stroke="#0003f1" class="a"/>
<path d="M462.8 976.2H505.6L505.8 979.2L505.9 984.2L506.3 996.2L506.9 1026.2L507.4 1076.2L507.6 1126.2L507.6 1152.6" stroke="#0004f6" class="a"/>
<path d="M462.8 977.5H505.6L505.8 980.5L505.9 985.5L506.3 997.5L506.9 1027.5L507.4 1077.5L507.6 1127.5L507.6 1152.6" stroke="#0006fa" class="a"/>
<path d="M462.8 978.9H505.6L505.8 981.9L505.9 986.9L506.3 998.9L506.9 1028.9L507.4 1078.9L507.6 1128.9L507.6 1152.6" stroke="#0208fa" class="a"/>
<path d="M462.8 980.3H505.6L505.8 983.3L505.9 988.3L506.3 1000.3L506.9 1030.3L507.4 1080.3L507.6 1130.3L507.6 1152.6" stroke="#030bfa" class="a"/>
<path d="M462.8 981.7H505.6L505.8 984.7L506 989.7L506.3 1001.7L506.9 1031.7L507.4 1081.7L507.6 1131.7L507.6 1152.6" stroke="#050dfa" class="a"/>
<path d="M462.8 983H505.6L505.8 986L506 991L506.3 1003L506.9 1033L507.4 1083L507.6 1133L507.6 1152.6" stroke="#0610fa" class="a"/>
<path d="M462.8 984.4H505.6L505.8 987.4L506 992.4L506.3 1004.4L506.9 1034.4L507.4 1084.4L507.6 1134.4L507.6 1152.6" stroke="#0812fa" class="a"/>
<path d="M462.8 985.8H505.6L505.8 988.8L506 993.8L506.3 1005.8L506.9 1035.8L507.4 1085.8L507.6 1135.8L507.6 1152.6" stroke="#0914fa" class="a"/>
<path d="M462.8 987.1H505.6L505.8 990.1L506 995.1L506.3 1007.1L506.9 1037.1L507.4 1087.1L507.5 1137.1L507.6 1152.6" stroke="#0b17fa" class="a"/>
<path d="M462.8 988.5H505.6L505.8 991.5L506 996.5L506.3 1008.5L506.9 1038.5L507.4 1088.5L507.6 1152.6" stroke="#0c19fa" class="a"/>
<path d="M462.8 989.9H505.6L505.8 992.9L506 997.9L506.3 1009.9L506.9 1039.9L507.4 1089.9L507.5 1152.6" stroke="#0e1cfa" class="a"/>
<path d="M462.8 991.2H505.6L505.8 994.2L506 999.2L506.3 1011.2L506.8 1041.2L507.4 1091.2L507.5 1152.6" stroke="#0f1efa" class="a"/>
<path d="M462.8 992.6H505.6L505.8 995.6L506 1000.6L506.3 1012.6L506.8 1042.6L507.4 1092.6L507.5 1152.6" stroke="#1120fa" class="a"/>
<path d="M462.8 994H505.6L505.8 997L506 1002L506.3 1014L506.8 1044L507.4 1094L507.5 1152.6" stroke="#1223fa" class="a"/>
<path d="M462.8 995.3H505.6L505.8 998.3L506 1003.3L506.3 1015.3L506.8 1045.3L507.3 1095.3L507.5 1152.6" stroke="#1425fa" class="a"/>
<path d="M462.8 996.7H505.7L505.8 999.7L506 1004.7L506.3 1016.7L506.8 1046.7L507.3 1096.7L507.5 1152.6" stroke="#1527fa" class="a"/>
<path d="M462.8 998.1H505.7L505.8 1001.1L506 1006.1L506.3 1018.1L506.8 1048.1L507.3 1098.1L507.5 1152.6" stroke="#1629fa" class="a"/>
<path d="M462.8 999.4H505.7L505.8 1002.4L506 1007.4L506.3 1019.4L506.8 1049.4L507.3 1099.4L507.5 1152.6" stroke="#182bfa" class="a"/>
<path d="M462.8 1000.8H505.7L505.8 1003.8L506 1008.8L506.3 1020.8L506.8 1050.8L507.3 1100.8L507.5 1152.6" stroke="#192efa" class="a"/>
<path d="M462.8 1002.1H505.7L505.8 1005.1L506 1010.1L506.3 1022.1L506.8 1052.1L507.3 1102.1L507.5 1152.6" stroke="#1a30fa" class="a"/>
<path d="M462.8 1003.5H505.7L505.8 1006.5L506 1011.5L506.3 1023.5L506.8 1053.5L507.3 1103.5L507.5 1152.6" stroke="#1b32fb" class="a"/>
<path d="M462.8 1004.9H505.7L505.8 1007.9L506 1012.9L506.3 1024.9L506.8 1054.9L507.3 1104.9L507.5 1152.6" stroke="#1b34fb" class="a"/>
<path d="M462.8 1006.2H505.7L505.8 1009.2L506 1014.2L506.3 1026.2L506.8 1056.2L507.3 1106.2L507.5 1152.6" stroke="#1c36fb" class="a"/>
<path d="M462.8 1007.6H505.7L505.8 1010.6L506 1015.6L506.3 1027.6L506.8 1057.6L507.3 1107.6L507.5 1152.6" stroke="#1d39fc" class="a"/>
<path d="M462.8 1008.9H505.7L505.8 1011.9L506 1016.9L506.3 1028.9L506.8 1058.9L507.3 1108.9L507.5 1152.6" stroke="#1e3bfc" class="a"/>
<path d="M462.8 1010.3H505.7L505.8 1013.3L506 1018.3L506.3 1030.3L506.8 1060.3L507.3 1110.3L507.4 1152.6" stroke="#1f3dfc" class="a"/>
<path d="M462.8 1011.6H505.7L505.8 1014.6L506 1019.6L506.3 1031.6L506.8 1061.6L507.3 1111.6L507.4 1152.6" stroke="#2040fd" class="a"/>
<path d="M462.8 1012.9H505.7L505.8 1015.9L506 1020.9L506.3 1032.9L506.8 1062.9L507.3 1112.9L507.4 1152.6" stroke="#2243fd" class="a"/>
<path d="M462.8 1014.3H505.7L505.8 1017.3L506 1022.3L506.3 1034.3L506.8 1064.3L507.3 1114.3L507.4 1152.6" stroke="#2346fe" class="a"/>
<path d="M462.8 1015.6H505.7L505.8 1018.6L506 1023.6L506.3 1035.6L506.8 1065.6L507.3 1115.6L507.4 1152.6" stroke="#2549fe" class="a"/>
<path d="M462.8 1017H505.7L505.8 1020L506 1025L506.3 1037L506.8 1067L507.3 1117L507.4 1152.6" stroke="#264cfe" class="a"/>
<path d="M462.8 1018.3H505.7L505.8 1021.3L506 1026.3L506.3 1038.3L506.8 1068.3L507.3 1118.3L507.4 1152.6" stroke="#284fff" class="a"/>
<path d="M462.8 1019.6H505.7L505.8 1022.6L506 1027.6L506.3 1039.6L506.8 1069.6L507.3 1119.6L507.4 1152.6" stroke="#2953ff" class="a"/>
<path d="M462.8 1021H505.7L505.8 1024L506 1029L506.3 1041L506.8 1071L507.3 1121L507.4 1152.6" stroke="#2a56ff" class="a"/>
<path d="M462.8 1022.3H505.7L505.8 1025.3L506 1030.3L506.3 1042.3L506.8 1072.3L507.3 1122.3L507.4 1152.6" stroke="#2b5aff" class="a"/>
<path d="M462.8 1023.6H505.7L505.8 1026.6L506 1031.6L506.3 1043.6L506.8 1073.6L507.3 1123.6L507.4 1152.6" stroke="#2d5eff" class="a"/>
<path d="M462.8 1024.9H505.7L505.8 1027.9L506 1032.9L506.3 1044.9L506.8 1074.9L507.2 1124.9L507.4 1152.6" stroke="#2e61ff" class="a"/>
<path d="M462.8 1026.3H505.7L505.8 1029.3L506 1034.3L506.3 1046.3L506.8 1076.3L507.2 1126.3L507.3 1152.6" stroke="#2f65ff" class="a"/>
<path d="M462.8 1027.6H505.7L505.8 1030.6L506 1035.6L506.3 1047.6L506.8 1077.6L507.2 1127.6L507.3 1152.6" stroke="#3069ff" class="a"/>
<path d="M462.8 1028.9H505.7L505.8 1031.9L506 1036.9L506.3 1048.9L506.8 1078.9L507.2 1128.9L507.3 1152.6" stroke="#316cff" class="a"/>
<path d="M462.8 1030.2H505.7L505.8 1033.2L506 1038.2L506.3 1050.2L506.8 1080.2L507.2 1130.2L507.3 1152.6" stroke="#3373fe" class="a"/>
<path d="M462.8 1031.5H505.7L505.8 1034.5L506 1039.5L506.3 1051.5L506.8 1081.5L507.2 1131.5L507.3 1152.6" stroke="#367dfd" class="a"/>
<path d="M462.8 1032.8H505.7L505.8 1035.8L506 1040.8L506.2 1052.8L506.8 1082.8L507.2 1132.8L507.3 1152.6" stroke="#3887fc" class="a"/>
<path d="M462.8 1034.1H505.7L505.8 1037.1L506 1042.1L506.2 1054.1L506.8 1084.1L507.2 1134.1L507.3 1152.6" stroke="#3b91fb" class="a"/>
<path d="M462.8 1035.4H505.7L505.8 1038.4L506 1043.4L506.2 1055.4L506.8 1085.4L507.2 1135.4L507.3 1152.6" stroke="#3f9afa" class="b"/>
<path d="M462.8 1036.7H505.7L505.8 1039.7L506 1044.7L506.2 1056.7L506.8 1086.7L507.2 1136.7L507.3 1152.6" stroke="#45a3fa" class="b"/>
<path d="M462.8 1038H505.7L505.8 1041L506 1046L506.2 1058L506.8 1088L507.3 1152.6" stroke="#4bacfa" class="b"/>
<path d="M462.8 1039.3H505.7L505.8 1042.3L506 1047.3L506.2 1059.3L506.8 1089.3L507.3 1152.6" stroke="#50b5fa" class="b"/>
<path d="M462.8 1040.6H505.7L505.8 1043.6L506 1048.6L506.2 1060.6L506.8 1090.6L507.2 1152.6" stroke="#53c3fa" class="b"/>
<path d="M462.8 1041.9H505.7L505.8 1044.9L506 1049.9L506.2 1061.9L506.7 1091.9L507.2 1152.6" stroke="#57d2fa" class="b"/>
<path d="M462.8 1043.1H505.7L505.8 1046.1L506 1051.1L506.2 1063.1L506.7 1093.1L507.2 1152.6" stroke="#5ae0fa" class="b"/>
<path d="M462.8 1044.4H505.7L505.8 1047.4L506 1052.4L506.2 1064.4L506.7 1094.4L507.2 1152.6" stroke="#5ceafa" class="b"/>
<path d="M462.8 1045.7H505.7L505.8 1048.7L506 1053.7L506.2 1065.7L506.7 1095.7L507.2 1152.6" stroke="#5ef5fa" class="b"/>
<path d="M462.8 1047H505.7L505.8 1050L506 1055L506.2 1067L506.7 1097L507.2 1152.6" stroke="#5ffafa" class="b"/>
<path d="M462.8 1048.2H505.7L505.8 1051.2L506 1056.2L506.2 1068.2L506.7 1098.2L507.2 1152.6" stroke="#5efbf9" class="b"/>
<path d="M462.8 1049.5H505.7L505.8 1052.5L506 1057.5L506.2 1069.5L506.7 1099.5L507.2 1152.6" stroke="#5dfcf8" class="b"/>
<path d="M462.8 1050.7H505.7L505.8 1053.7L506 1058.7L506.2 1070.7L506.7 1100.7L507.2 1152.6" stroke="#5cfdf7" class="b"/>
<path d="M462.8 1052H505.7L505.8 1055L506 1060L506.2 1072L506.7 1102L507.1 1152.6" stroke="#5bfef6" class="b"/>
<path d="M462.8 1053.3H505.7L505.8 1056.3L506 1061.3L506.2 1073.3L506.7 1103.3L507.1 1152.6" stroke="#5afff5" class="b"/>
<path d="M462.8 1054.5H505.7L505.8 1057.5L506 1062.5L506.2 1074.5L506.7 1104.5L507.1 1152.6" stroke="#5bfff2" class="b"/>
<path d="M462.8 1055.8H505.7L505.8 1058.8L506 1063.8L506.2 1075.8L506.7 1105.8L507.1 1152.6" stroke="#5cffec" class="b"/>
<path d="M462.8 1057.1H505.7L505.8 1060.1L506 1065.1L506.2 1077.1L506.7 1107.1L507.1 1152.6" stroke="#5dffe6" class="b"/>
<path d="M462.8 1058.4H505.7L505.8 1061.4L506 1066.4L506.2 1078.4L506.7 1108.4L507.1 1152.6" stroke="#5fffe0" class="b"/>
<path d="M462.8 1059.7H505.7L505.8 1062.7L506 1067.7L506.2 1079.7L506.7 1109.7L507.1 1152.6" stroke="#60ffda" class="b"/>
<path d="M462.8 1060.9H505.7L505.8 1063.9L506 1068.9L506.2 1080.9L506.7 1110.9L507.1 1152.6" stroke="#61ffd4" class="b"/>
<path d="M462.8 1062.2H505.7L505.8 1065.2L506 1070.2L506.2 1082.2L506.7 1112.2L507.1 1152.6" stroke="#63ffcf" class="b"/>
<path d="M462.8 1063.5H505.7L505.8 1066.5L506 1071.5L506.2 1083.5L506.7 1113.5L507.1 1152.6" stroke="#64ffc9" class="b"/>
<path d="M462.8 1064.7H505.7L505.8 1067.7L506 1072.7L506.2 1084.7L506.7 1114.7L507 1152.6" stroke="#66ffc1" class="b"/>
<path d="M462.8 1066H505.7L505.8 1069L506 1074L506.2 1086L506.7 1116L507 1152.6" stroke="#69ffb9" class="b"/>
<path d="M462.8 1067.2H505.7L505.8 1070.2L505.9 1075.2L506.2 1087.2L506.7 1117.2L507 1152.6" stroke="#6bffb1" class="b"/>
<path d="M462.8 1068.4H505.7L505.8 1071.4L505.9 1076.4L506.2 1088.4L506.7 1118.4L507 1152.6" stroke="#6dffa9" class="b"/>
<path d="M462.8 1069.6H505.7L505.8 1072.6L505.9 1077.6L506.2 1089.6L506.7 1119.6L507 1152.6" stroke="#70ffa0" class="b"/>
<path d="M462.8 1070.7H505.7L505.8 1073.7L505.9 1078.7L506.2 1090.7L506.7 1120.7L507 1152.6" stroke="#72ff98" class="b"/>
<path d="M462.8 1071.9H505.7L505.8 1074.9L505.9 1079.9L506.2 1091.9L506.7 1121.9L507 1152.6" stroke="#74ff92" class="b"/>
<path d="M462.8 1073H505.7L505.8 1076L505.9 1081L506.2 1093L506.7 1123L506.9 1152.6" stroke="#76ff8d" class="c"/>
<path d="M462.8 1074H505.7L505.8 1077L505.9 1082L506.2 1094L506.7 1124L506.9 1152.6" stroke="#78ff87" class="c"/>
<path d="M462.8 1075H505.8L505.8 1078L505.9 1083L506.2 1095L506.7 1125L506.9 1152.6" stroke="#7aff81" class="c"/>
<path d="M462.8 1076H505.8L505.8 1079L505.9 1084L506.2 1096L506.7 1126L506.9 1152.6" stroke="#7cff7c" class="c"/>
<path d="M462.8 1076.9H505.8L505.8 1079.9L505.9 1084.9L506.2 1096.9L506.7 1126.9L506.9 1152.6" stroke="#7eff76" class="c"/>
<path d="M462.8 1077.9H505.8L505.8 1080.9L505.9 1085.9L506.2 1097.9L506.7 1127.9L506.9 1152.6" stroke="#80ff71" class="c"/>
<path d="M462.8 1078.8H505.8L505.8 1081.8L505.9 1086.8L506.2 1098.8L506.7 1128.8L506.9 1152.6" stroke="#82ff6b" class="c"/>
<path d="M462.8 1079.6H505.8L505.8 1082.6L506 1087.6L506.2 1099.6L506.7 1129.6L506.9 1152.6" stroke="#84ff66" class="c"/>
<path d="M462.8 1080.5H505.8L505.8 1083.5L506 1088.5L506.2 1100.5L506.7 1130.5L506.9 1152.6" stroke="#86ff60" class="c"/>
<path d="M462.8 1081.3H505.8L505.8 1084.3L506 1089.3L506.2 1101.3L506.7 1131.3L506.9 1152.6" stroke="#88ff5b" class="c"/>
<path d="M462.8 1082.2H505.8L505.8 1085.2L506 1090.2L506.2 1102.2L506.7 1132.2L506.9 1152.6" stroke="#8aff55" class="c"/>
<path d="M462.8 1083H505.8L505.8 1086L506 1091L506.2 1103L506.7 1133L506.9 1152.6" stroke="#8cff4f" class="c"/>
<path d="M462.8 1083.8H505.8L505.8 1086.8L506 1091.8L506.2 1103.8L506.7 1133.8L506.8 1152.6" stroke="#8fff49" class="c"/>
<path d="M462.8 1084.6H505.8L505.8 1087.6L506 1092.6L506.2 1104.6L506.7 1134.6L506.8 1152.6" stroke="#92ff42" class="c"/>
<path d="M462.8 1085.3H505.8L505.8 1088.3L506 1093.3L506.2 1105.3L506.7 1135.3L506.8 1152.6" stroke="#95ff3c" class="c"/>
<path d="M462.8 1086.1H505.8L505.8 1089.1L506 1094.1L506.2 1106.1L506.7 1136.1L506.8 1152.6" stroke="#98ff35" class="c"/>
<path d="M462.8 1086.8H505.8L505.8 1089.8L506 1094.8L506.2 1106.8L506.7 1136.8L506.8 1152.6" stroke="#9bff2f" class="c"/>
<path d="M462.8 1087.6H505.8L505.8 1090.6L506 1095.6L506.2 1107.6L506.7 1137.6L506.8 1152.6" stroke="#9eff28" class="c"/>
<path d="M462.8 1088.3H505.8L505.8 1091.3L506 1096.3L506.2 1108.3L506.8 1152.6" stroke="#a1ff22" class="c"/>
<path d="M462.8 1089H505.8L505.8 1092L506 1097L506.2 1109L506.8 1152.6" stroke="#a4ff1b" class="c"/>
<path d="M462.8 1089.7H505.8L505.8 1092.7L506 1097.7L506.2 1109.7L506.8 1152.6" stroke="#a7ff18" class="c"/>
<path d="M462.8 1090.5H505.8L505.8 1093.5L506 1098.5L506.2 1110.5L506.8 1152.6" stroke="#abff16" class="c"/>
<path d="M462.8 1091.2H505.8L505.8 1094.2L506 1099.2L506.2 1111.2L506.8 1152.6" stroke="#aeff14" class="c"/>
<path d="M462.8 1091.9H505.8L505.8 1094.9L506 1099.9L506.2 1111.9L506.8 1152.6" stroke="#b2ff12" class="c"/>
<path d="M462.8 1092.6H505.8L505.8 1095.6L506 1100.6L506.2 1112.6L506.8 1152.6" stroke="#b6ff10" class="c"/>
<path d="M462.8 1093.3H505.8L505.8 1096.3L506 1101.3L506.2 1113.3L506.7 1152.6" stroke="#b9ff0e" class="c"/>
<path d="M462.8 1094H505.8L505.8 1097L506 1102L506.2 1114L506.7 1152.6" stroke="#bdff0c" class="c"/>
<path d="M462.8 1094.7H505.8L505.8 1097.7L506 1102.7L506.2 1114.7L506.7 1152.6" stroke="#c0ff0a" class="c"/>
<path d="M462.8 1095.4H505.8L505.8 1098.4L506 1103.4L506.2 1115.4L506.7 1152.6" stroke="#c4ff08" class="c"/>
<path d="M462.8 1096H505.8L505.8 1099L506 1104L506.2 1116L506.7 1152.6" stroke="#c7ff06" class="c"/>
<path d="M462.8 1096.6H505.8L505.9 1099.6L506 1104.6L506.2 1116.6L506.7 1152.6" stroke="#cbff04" class="c"/>
<path d="M462.8 1097.3H505.8L505.9 1100.3L506 1105.3L506.2 1117.3L506.7 1152.6" stroke="#ceff02" class="c"/>
<path d="M462.8 1097.9H505.8L505.9 1100.9L506 1105.9L506.2 1117.9L506.7 1152.6" stroke="#d2ff00" class="c"/>
<path d="M462.8 1098.5H505.8L505.9 1101.5L506 1106.5L506.2 1118.5L506.7 1152.6" stroke="#d5ff00" class="c"/>
<path d="M462.8 1099.1H505.8L505.9 1102.1L506 1107.1L506.2 1119.1L506.7 1152.6" stroke="#d9ff00" class="c"/>
<path d="M462.8 1099.7H505.8L505.9 1102.7L506 1107.7L506.2 1119.7L506.7 1152.6" stroke="#ddff00" class="c"/>
<path d="M462.8 1100.3H505.8L505.9 1103.3L506 1108.3L506.2 1120.3L506.7 1152.6" stroke="#e0ff00" class="c"/>
<path d="M462.8 1100.9H505.8L505.9 1103.9L506 1108.9L506.2 1120.9L506.7 1152.6" stroke="#e4ff00" class="c"/>
<path d="M462.8 1101.5H505.8L505.9 1104.5L506 1109.5L506.2 1121.5L506.7 1152.6" stroke="#e8ff00" class="c"/>
<path d="M462.8 1102.1H505.8L505.9 1105.1L506 1110.1L506.2 1122.1L506.6 1152.6" stroke="#ebff00" class="c"/>
<path d="M462.8 1102.7H505.8L505.9 1105.7L506 1110.7L506.2 1122.7L506.6 1152.6" stroke="#efff00" class="c"/>
<path d="M462.8 1103.4H505.8L505.9 1106.4L506 1111.4L506.2 1123.4L506.6 1152.6" stroke="#f3ff00" class="c"/>
<path d="M462.8 1104.1H505.8L505.9 1107.1L506 1112.1L506.2 1124.1L506.6 1152.6" stroke="#f7ff00" class="c"/>
<path d="M462.8 1104.8H505.8L505.9 1107.8L506 1112.8L506.2 1124.8L506.6 1152.6" stroke="#faff00" class="c"/>
<path d="M462.8 1105.5H505.8L505.9 1108.5L506 1113.5L506.2 1125.5L506.6 1152.6" stroke="#feff00" class="c"/>
<path d="M462.8 1106.3H505.8L505.9 1109.3L506 1114.3L506.2 1126.3L506.6 1152.6" stroke="#fff900" class="c"/>
<path d="M462.8 1107.1H505.8L505.9 1110.1L506 1115.1L506.2 1127.1L506.6 1152.6" stroke="#fff000" class="c"/>
<path d="M462.8 1108.1H505.8L505.9 1111.1L506 1116.1L506.2 1128.1L506.6 1152.6" stroke="#ffe700" class="c"/>
<path d="M462.8 1109H505.8L505.9 1112L506 1117L506.2 1129L506.6 1152.6" stroke="#ffde00" class="c"/>
<path d="M462.8 1110.1H505.8L505.9 1113.1L506 1118.1L506.2 1130.1L506.5 1152.6" stroke="#ffd500" class="c"/>
<path d="M462.8 1111.1H505.8L505.9 1114.1L506 1119.1L506.2 1131.1L506.5 1152.6" stroke="#ffcc00" class="c"/>
<path d="M462.8 1112.2H505.8L505.9 1115.2L506 1120.2L506.2 1132.2L506.5 1152.6" stroke="#ffc300" class="c"/>
<path d="M462.8 1113.2H505.8L505.9 1116.2L506 1121.2L506.2 1133.2L506.5 1152.6" stroke="#ffba00" class="c"/>
<path d="M462.8 1114.2H505.8L505.9 1117.2L506 1122.2L506.2 1134.2L506.5 1152.6" stroke="#ffb000" class="c"/>
<path d="M462.8 1115.2H505.8L505.9 1118.2L506 1123.2L506.2 1135.2L506.5 1152.6" stroke="#ffa700" class="c"/>
<path d="M462.8 1116.1H505.8L505.9 1119.1L506 1124.1L506.2 1136.1L506.5 1152.6" stroke="#ff9d00" class="c"/>
<path d="M462.8 1116.9H505.8L505.9 1119.9L506 1124.9L506.2 1136.9L506.5 1152.6" stroke="#ff9400" class="c"/>
<path d="M462.8 1117.6H505.8L505.9 1120.6L506 1125.6L506.2 1137.6L506.4 1152.6" stroke="#ff8b00" class="c"/>
<path d="M462.8 1118.3H505.8L505.9 1121.3L506 1126.3L506.4 1152.6" stroke="#ff8100" class="c"/>
<path d="M462.8 1119H505.8L505.9 1122L506 1127L506.4 1152.6" stroke="#ff7c00" class="c"/>
<path d="M462.8 1119.6H505.8L505.9 1122.6L506 1127.6L506.4 1152.6" stroke="#ff7600" class="c"/>
<path d="M462.8 1120.3H505.8L505.9 1123.3L506 1128.3L506.4 1152.6" stroke="#ff7100" class="c"/>
<path d="M462.8 1120.9H505.8L505.9 1123.9L506 1128.9L506.4 1152.6" stroke="#ff6b00" class="c"/>
<path d="M462.8 1121.4H505.8L505.9 1124.4L506 1129.4L506.4 1152.6" stroke="#ff6500" class="c"/>
<path d="M462.8 1122H505.8L505.9 1125L506 1130L506.4 1152.6" stroke="#ff6000" class="c"/>
<path d="M462.8 1122.6H505.8L505.9 1125.6L506 1130.6L506.4 1152.6" stroke="#ff5a00" class="c"/>
<path d="M462.8 1123.1H505.8L505.9 1126.1L506 1131.1L506.4 1152.6" stroke="#ff5400" class="c"/>
<path d="M462.8 1123.7H505.8L505.9 1126.7L506 1131.7L506.4 1152.6" stroke="#ff4f00" class="c"/>
<path d="M462.8 1124.2H505.8L505.9 1127.2L506 1132.2L506.3 1152.6" stroke="#ff4900" class="c"/>
<path d="M462.8 1124.8H505.8L505.9 1127.8L506 1132.8L506.3 1152.6" stroke="#ff4300" class="c"/>
<path d="M462.8 1125.3H505.8L505.9 1128.3L506 1133.3L506.3 1152.6" stroke="#ff3e00" class="c"/>
<path d="M462.8 1125.8H505.8L505.9 1128.8L506 1133.8L506.3 1152.6" stroke="#ff3800" class="c"/>
<path d="M462.8 1126.3H505.8L505.9 1129.3L506 1134.3L506.3 1152.6" stroke="#ff3300" class="c"/>
<path d="M462.8 1126.8H505.8L505.9 1129.8L506 1134.8L506.3 1152.6" stroke="#ff2f00" class="c"/>
<path d="M462.8 1127.3H505.8L505.9 1130.3L506 1135.3L506.3 1152.6" stroke="#ff2b00" class="c"/>
<path d="M462.8 1127.8H505.8L505.9 1130.8L506 1135.8L506.3 1152.6" stroke="#ff2800" class="c"/>
<path d="M462.8 1128.3H505.8L505.9 1131.3L506 1136.3L506.3 1152.6" stroke="#ff2500" class="c"/>
<path d="M462.8 1128.8H505.8L505.9 1131.8L506 1136.8L506.3 1152.6" stroke="#ff2100" class="c"/>
<path d="M462.8 1129.3H505.8L505.9 1132.3L506 1137.3L506.3 1152.6" stroke="#ff1e00" class="c"/>
<path d="M462.8 1129.8H505.8L505.9 1132.8L506.3 1152.6" stroke="#ff1a00" class="c"/>
<path d="M462.8 1130.3H505.8L505.9 1133.3L506.2 1152.6" stroke="#ff1700" class="c"/>
<path d="M462.8 1130.9H505.8L505.9 1133.9L506.2 1152.6" stroke="#ff1300" class="c"/>
<path d="M462.8 1131.4H505.8L505.9 1134.4L506.2 1152.6" stroke="#ff1000" class="c"/>
<path d="M462.8 1131.9H505.8L505.9 1134.9L506.2 1152.6" stroke="#ff0c00" class="c"/>
<path d="M462.8 1132.4H505.8L505.9 1135.4L506.2 1152.6" stroke="#ff0a00" class="c"/>
<path d="M462.8 1132.9H505.8L505.9 1135.9L506.2 1152.6" stroke="#fe0900" class="c"/>
<path d="M462.8 1133.5H505.8L505.9 1136.5L506.2 1152.6" stroke="#fe0800" class="c"/>
<path d="M462.8 1134H505.8L505.9 1137L506.2 1152.6" stroke="#fd0600" class="c"/>
<path d="M462.8 1134.5H505.8L505.9 1137.5L506.2 1152.6" stroke="#fd0500" class="c"/>
<path d="M462.8 1135.1H505.8L506.2 1152.6" stroke="#fc0400" class="c"/>
<path d="M462.8 1135.6H505.8L506.2 1152.6" stroke="#fc0300" class="c"/>
<path d="M462.8 1136.2H505.8L506.2 1152.6" stroke="#fb0200" class="c"/>
<path d="M462.8 1136.8H505.8L506.1 1152.6" stroke="#fb0100" class="c"/>
<path d="M462.8 1137.4H505.8L506.1 1152.6" stroke="#fa0000" class="c"/>
<path d="M462.8 1138H505.8L506.1 1152.6" stroke="#f50000" class="c"/>
<path d="M462.8 1138.6H505.8L506.1 1152.6" stroke="#f00000" class="c"/>
<path d="M462.8 1139.3H505.8L506.1 1152.6" stroke="#eb0000" class="c"/>
<path d="M462.8 1140.1H505.8L506.1 1152.6" stroke="#e60000" class="c"/>
<path d="M462.8 1140.8H505.8L506.1 1152.6" stroke="#e10000" class="c"/>
<path d="M462.8 1141.5H505.8L506.1 1152.6" stroke="#dc0000" class="c"/>
<path d="M462.8 1142.3H505.8L506 1152.6" stroke="#d70000" class="c"/>
<path d="M462.8 1143H505.8L506 1152.6" stroke="#d20000" class="c"/>
<path d="M462.8 1143.7H505.8L506 1152.6" stroke="#cd0000" class="c"/>
<path d="M462.8 1144.4H505.8L506 1152.6" stroke="#c80000" class="c"/>
<path d="M462.8 1145H505.8L506 1152.6" stroke="#c30000" class="c"/>
<path d="M462.8 1145.6H505.8L506 1152.6" stroke="#be0000" class="c"/>
<path d="M462.8 1146.1H505.8L506 1152.6" stroke="#b90000" class="c"/>
<path d="M462.8 1146.7H505.8L506 1152.6" stroke="#b40000" class="c"/>
<path d="M462.8 1147.2H505.8L506 1152.6" stroke="#af0000" class="c"/>
<path d="M462.8 1147.8H505.8L505.9 1152.6" stroke="#aa0000" class="c"/>
<path d="M462.8 1148.3H505.8L505.9 1152.6" stroke="#a50000" class="c"/>
<path d="M462.8 1148.8H505.8L505.9 1152.6" stroke="#a00000" class="c"/>
<path d="M462.8 1149.3H505.8L505.9 1152.6" stroke="#9b0000" class="c"/>
<path d="M462.8 1149.7H505.8L505.9 1152.6" stroke="#960000" class="c"/>
<path d="M462.8 1150.2H505.8L505.9 1152.6" stroke="#910000" class="c"/>
<path d="M462.8 1150.6H505.8L505.9 1152.6" stroke="#8c0000" class="c"/>
<path d="M462.8 1151H505.8L505.9 1152.6" stroke="#870000" class="c"/>
<path d="M462.8 1151.4H505.8L505.9 1152.6" stroke="#820000" class="c"/>
</g>
<path class="cv" clip-path="url(#cl5)" d="M510.8 1152.1C512 1151.4 515.4 1149.9 517.7 1148.1C520 1146.3 522.3 1144.6 524.6 1141.2C526.9 1137.8 528.9 1133.5 531.5 1127.5C534.1 1121.5 537.2 1112.6 540.1 1105.1C543 1097.6 545.8 1090.2 548.7 1082.7C551.6 1075.2 554.4 1067.2 557.3 1060.3C560.2 1053.4 563 1047 565.9 1041.3C568.8 1035.5 571.6 1030.2 574.5 1025.8C577.4 1021.3 580.2 1017.9 583.1 1014.6C586 1011.3 588.9 1008.5 591.8 1006C594.7 1003.5 597.5 1001.5 600.4 999.6C603.3 997.7 606.1 996.2 609 994.8C611.9 993.4 614.7 992.1 617.6 991C620.5 989.9 623.3 988.9 626.2 987.9C629.1 986.9 630.5 986.3 634.8 985.3C639.1 984.3 646.4 982.8 652.1 981.9C657.9 981 663.8 980.2 669.3 979.6C674.8 979 678.3 978.8 684.8 978.4C691.2 978 700.4 977.5 708 977.2C715.6 976.9 725.1 976.8 730.5 976.7C735.9 976.6 738.9 976.7 740.6 976.7"/>
<rect x="684.3" y="705.8" width="46" height="425.3" fill="url(#jet)" stroke="#111" stroke-width="1.1"/>
<path d="M684.3 728h4.5M730.3 728h-4.5" stroke="#000" stroke-opacity=".75" stroke-width="1" fill="none"/>
<text class="tk" x="676.7" y="738.4" text-anchor="end">0.7</text>
<path d="M684.3 786.1h4.5M730.3 786.1h-4.5" stroke="#000" stroke-opacity=".75" stroke-width="1" fill="none"/>
<text class="tk" x="676.7" y="796.5" text-anchor="end">0.6</text>
<path d="M684.3 844.2h4.5M730.3 844.2h-4.5" stroke="#000" stroke-opacity=".75" stroke-width="1" fill="none"/>
<text class="tk" x="676.7" y="854.6" text-anchor="end">0.5</text>
<path d="M684.3 902.3h4.5M730.3 902.3h-4.5" stroke="#000" stroke-opacity=".75" stroke-width="1" fill="none"/>
<text class="tk" x="676.7" y="912.7" text-anchor="end">0.4</text>
<path d="M684.3 960.4h4.5M730.3 960.4h-4.5" stroke="#000" stroke-opacity=".75" stroke-width="1" fill="none"/>
<text class="tk" x="676.7" y="970.8" text-anchor="end">0.3</text>
<path d="M684.3 1018.5h4.5M730.3 1018.5h-4.5" stroke="#000" stroke-opacity=".75" stroke-width="1" fill="none"/>
<text class="tk" x="676.7" y="1028.9" text-anchor="end">0.2</text>
<path d="M684.3 1076.6h4.5M730.3 1076.6h-4.5" stroke="#000" stroke-opacity=".75" stroke-width="1" fill="none"/>
<text class="tk" x="676.7" y="1087" text-anchor="end">0.1</text>
<rect class="ax" x="461.8" y="683.3" width="279.1" height="469.5"/>
<text class="tk" x="452.9" y="693.8" text-anchor="end">0.7</text>
<text class="tk" x="454.1" y="1164.6" text-anchor="end">0</text>
<text class="tk" x="461.8" y="1187.6" text-anchor="middle">0</text>
<text class="tk" x="741.1" y="1187.2" text-anchor="middle">1</text>
<text class="gk" x="599.2" y="1223.3" text-anchor="middle" stroke-width=".3">ξ</text>
<text class="gk" stroke-width=".7" text-anchor="middle" transform="translate(398.2 919.3) rotate(-90)">η</text>
<text class="tk" x="481.4" y="740.7">t<tspan x="492.1" dy="4" font-size="33px" font-weight="bold" textLength="13.1" lengthAdjust="spacingAndGlyphs">=</tspan><tspan x="507.4" dy="-4">3.25</tspan></text>
</g>
<g id="panel7">
<clipPath id="cl6"><rect x="829.1" y="683.3" width="279.1" height="469.5"/></clipPath>
<g class="ct" clip-path="url(#cl6)">
<path d="M830.1 852.3H872.8L873.3 855.3L873.7 860.3L874 872.3L874.7 902.3L875.4 952.3L875.9 1002.3L876 1052.3L875.9 1102.3L875.8 1152.6" stroke="#0000b1"/>
<path d="M830.1 859.2H872.8L873.3 862.2L873.7 867.2L874 879.2L874.7 909.2L875.4 959.2L875.9 1009.2L875.9 1059.2L875.9 1109.2L875.7 1152.6" stroke="#0000be"/>
<path d="M830.1 863.6H872.8L873.3 866.6L873.7 871.6L874 883.6L874.7 913.6L875.4 963.6L875.9 1013.6L875.9 1063.6L875.9 1113.6L875.7 1152.6" stroke="#0000cb"/>
<path d="M830.1 867.4H872.8L873.3 870.4L873.7 875.4L874 887.4L874.7 917.4L875.4 967.4L875.9 1017.4L875.9 1067.4L875.8 1117.4L875.7 1152.6" stroke="#0000d8"/>
<path d="M830.1 871.3H872.8L873.3 874.3L873.7 879.3L874 891.3L874.7 921.3L875.5 971.3L875.8 1021.3L875.9 1071.3L875.8 1121.3L875.7 1152.6" stroke="#0001e0"/>
<path d="M830.1 874.8H872.8L873.3 877.8L873.7 882.8L874 894.8L874.7 924.8L875.5 974.8L875.8 1024.8L875.9 1074.8L875.8 1124.8L875.7 1152.6" stroke="#0002e5"/>
<path d="M830.1 878.5H872.8L873.3 881.5L873.7 886.5L874 898.5L874.7 928.5L875.5 978.5L875.8 1028.5L875.9 1078.5L875.8 1128.5L875.7 1152.6" stroke="#0003eb"/>
<path d="M830.1 881.8H872.8L873.3 884.8L873.7 889.8L874.1 901.8L874.7 931.8L875.5 981.8L875.8 1031.8L875.9 1081.8L875.8 1131.8L875.7 1152.6" stroke="#0003f1"/>
<path d="M830.1 885.2H872.8L873.3 888.2L873.7 893.2L874.1 905.2L874.7 935.2L875.5 985.2L875.8 1035.2L875.8 1085.2L875.8 1135.2L875.7 1152.6" stroke="#0004f6"/>
<path d="M830.1 888.6H872.8L873.3 891.6L873.7 896.6L874.1 908.6L874.7 938.6L875.5 988.6L875.8 1038.6L875.8 1088.6L875.7 1152.6" stroke="#0006fa"/>
<path d="M830.1 891.9H872.8L873.3 894.9L873.7 899.9L874.1 911.9L874.7 941.9L875.5 991.9L875.8 1041.9L875.8 1091.9L875.7 1152.6" stroke="#0208fa"/>
<path d="M830.1 895H872.8L873.4 898L873.7 903L874.1 915L874.7 945L875.5 995L875.8 1045L875.8 1095L875.7 1152.6" stroke="#030bfa"/>
<path d="M830.1 898.2H872.8L873.4 901.2L873.7 906.2L874.1 918.2L874.7 948.2L875.5 998.2L875.8 1048.2L875.8 1098.2L875.7 1152.6" stroke="#050dfa"/>
<path d="M830.1 901.3H872.8L873.4 904.3L873.7 909.3L874.1 921.3L874.7 951.3L875.5 1001.3L875.7 1051.3L875.8 1101.3L875.7 1152.6" stroke="#0610fa"/>
<path d="M830.1 904.2H872.8L873.4 907.2L873.7 912.2L874.1 924.2L874.7 954.2L875.5 1004.2L875.7 1054.2L875.8 1104.2L875.7 1152.6" stroke="#0812fa"/>
<path d="M830.1 907.3H872.8L873.4 910.3L873.7 915.3L874.1 927.3L874.7 957.3L875.5 1007.3L875.7 1057.3L875.8 1107.3L875.7 1152.6" stroke="#0914fa"/>
<path d="M830.1 910.2H872.8L873.4 913.2L873.7 918.2L874.1 930.2L874.7 960.2L875.5 1010.2L875.7 1060.2L875.7 1110.2L875.7 1152.6" stroke="#0b17fa"/>
<path d="M830.1 913.1H872.8L873.4 916.1L873.7 921.1L874.1 933.1L874.7 963.1L875.5 1013.1L875.7 1063.1L875.7 1113.1L875.7 1152.6" stroke="#0c19fa"/>
<path d="M830.1 916H872.8L873.4 919L873.7 924L874.1 936L874.8 966L875.5 1016L875.7 1066L875.7 1116L875.7 1152.6" stroke="#0e1cfa"/>
<path d="M830.1 918.7H872.9L873.4 921.7L873.7 926.7L874.1 938.7L874.8 968.7L875.5 1018.7L875.7 1068.7L875.7 1118.7L875.7 1152.6" stroke="#0f1efa"/>
<path d="M830.1 921.2H872.9L873.4 924.2L873.7 929.2L874.1 941.2L874.8 971.2L875.4 1021.2L875.7 1071.2L875.7 1121.2L875.7 1152.6" stroke="#1120fa"/>
<path d="M830.1 923.7H872.9L873.4 926.7L873.7 931.7L874.1 943.7L874.8 973.7L875.4 1023.7L875.7 1073.7L875.7 1123.7L875.6 1152.6" stroke="#1223fa"/>
<path d="M830.1 926.3H872.9L873.4 929.3L873.7 934.3L874.1 946.3L874.8 976.3L875.4 1026.3L875.7 1076.3L875.7 1126.3L875.6 1152.6" stroke="#1425fa"/>
<path d="M830.1 928.8H872.9L873.4 931.8L873.7 936.8L874.1 948.8L874.8 978.8L875.4 1028.8L875.7 1078.8L875.7 1128.8L875.6 1152.6" stroke="#1527fa"/>
<path d="M830.1 931.3H872.9L873.4 934.3L873.8 939.3L874.1 951.3L874.8 981.3L875.4 1031.3L875.6 1081.3L875.7 1131.3L875.6 1152.6" stroke="#1629fa"/>
<path d="M830.1 933.8H872.9L873.4 936.8L873.8 941.8L874.1 953.8L874.8 983.8L875.4 1033.8L875.6 1083.8L875.7 1133.8L875.6 1152.6" stroke="#182bfa"/>
<path d="M830.1 936.3H872.9L873.4 939.3L873.8 944.3L874.1 956.3L874.8 986.3L875.4 1036.3L875.6 1086.3L875.6 1136.3L875.6 1152.6" stroke="#192efa"/>
<path d="M830.1 938.8H872.9L873.4 941.8L873.8 946.8L874.1 958.8L874.8 988.8L875.4 1038.8L875.6 1088.8L875.6 1152.6" stroke="#1a30fa"/>
<path d="M830.1 941.2H872.9L873.4 944.2L873.8 949.2L874.1 961.2L874.8 991.2L875.4 1041.2L875.6 1091.2L875.6 1152.6" stroke="#1b32fb"/>
<path d="M830.1 943.7H872.9L873.4 946.7L873.7 951.7L874.1 963.7L874.8 993.7L875.4 1043.7L875.6 1093.7L875.6 1152.6" stroke="#1b34fb"/>
<path d="M830.1 946.2H872.9L873.4 949.2L873.7 954.2L874.1 966.2L874.8 996.2L875.4 1046.2L875.6 1096.2L875.6 1152.6" stroke="#1c36fb"/>
<path d="M830.1 948.6H872.9L873.4 951.6L873.7 956.6L874.1 968.6L874.8 998.6L875.3 1048.6L875.6 1098.6L875.6 1152.6" stroke="#1d39fc"/>
<path d="M830.1 951.1H872.9L873.4 954.1L873.7 959.1L874.1 971.1L874.8 1001.1L875.3 1051.1L875.5 1101.1L875.5 1152.6" stroke="#1e3bfc"/>
<path d="M830.1 953.5H872.9L873.4 956.5L873.7 961.5L874.1 973.5L874.8 1003.5L875.3 1053.5L875.5 1103.5L875.5 1152.6" stroke="#1f3dfc"/>
<path d="M830.1 955.9H872.9L873.4 958.9L873.7 963.9L874.1 975.9L874.7 1005.9L875.3 1055.9L875.5 1105.9L875.5 1152.6" stroke="#2040fd"/>
<path d="M830.1 958.3H872.9L873.4 961.3L873.7 966.3L874.1 978.3L874.7 1008.3L875.3 1058.3L875.5 1108.3L875.5 1152.6" stroke="#2243fd"/>
<path d="M830.1 960.7H872.9L873.4 963.7L873.7 968.7L874.1 980.7L874.7 1010.7L875.3 1060.7L875.5 1110.7L875.5 1152.6" stroke="#2346fe"/>
<path d="M830.1 963.1H872.9L873.4 966.1L873.7 971.1L874.1 983.1L874.7 1013.1L875.3 1063.1L875.5 1113.1L875.5 1152.6" stroke="#2549fe"/>
<path d="M830.1 965.5H872.9L873.4 968.5L873.7 973.5L874.1 985.5L874.7 1015.5L875.3 1065.5L875.5 1115.5L875.5 1152.6" stroke="#264cfe"/>
<path d="M830.1 967.8H872.9L873.4 970.8L873.7 975.8L874.1 987.8L874.7 1017.8L875.2 1067.8L875.4 1117.8L875.5 1152.6" stroke="#284fff"/>
<path d="M830.1 970.2H872.9L873.4 973.2L873.7 978.2L874.1 990.2L874.7 1020.2L875.2 1070.2L875.4 1120.2L875.4 1152.6" stroke="#2953ff"/>
<path d="M830.1 972.5H872.9L873.4 975.5L873.7 980.5L874.1 992.5L874.7 1022.5L875.2 1072.5L875.4 1122.5L875.4 1152.6" stroke="#2a56ff"/>
<path d="M830.1 974.8H872.9L873.4 977.8L873.7 982.8L874.1 994.8L874.7 1024.8L875.2 1074.8L875.4 1124.8L875.4 1152.6" stroke="#2b5aff"/>
<path d="M830.1 977.1H872.9L873.4 980.1L873.7 985.1L874.1 997.1L874.7 1027.1L875.2 1077.1L875.4 1127.1L875.4 1152.6" stroke="#2d5eff"/>
<path d="M830.1 979.3H872.9L873.4 982.3L873.7 987.3L874.1 999.3L874.6 1029.3L875.2 1079.3L875.4 1129.3L875.4 1152.6" stroke="#2e61ff"/>
<path d="M830.1 981.6H872.9L873.4 984.6L873.7 989.6L874 1001.6L874.6 1031.6L875.2 1081.6L875.3 1131.6L875.4 1152.6" stroke="#2f65ff"/>
<path d="M830.1 983.8H872.9L873.4 986.8L873.7 991.8L874 1003.8L874.6 1033.8L875.1 1083.8L875.3 1133.8L875.3 1152.6" stroke="#3069ff"/>
<path d="M830.1 986H872.9L873.4 989L873.7 994L874 1006L874.6 1036L875.1 1086L875.3 1136L875.3 1152.6" stroke="#316cff"/>
<path d="M830.1 988.2H872.9L873.4 991.2L873.7 996.2L874 1008.2L874.6 1038.2L875.1 1088.2L875.3 1152.6" stroke="#3373fe"/>
<path d="M830.1 990.4H872.9L873.4 993.4L873.7 998.4L874 1010.4L874.6 1040.4L875.1 1090.4L875.3 1152.6" stroke="#367dfd"/>
<path d="M830.1 992.6H872.9L873.4 995.6L873.7 1000.6L874 1012.6L874.6 1042.6L875.1 1092.6L875.3 1152.6" stroke="#3887fc"/>
<path d="M830.1 994.7H872.9L873.4 997.7L873.6 1002.7L874 1014.7L874.6 1044.7L875.1 1094.7L875.2 1152.6" stroke="#3b91fb"/>
<path d="M830.1 996.8H873L873.3 999.8L873.6 1004.8L874 1016.8L874.5 1046.8L875 1096.8L875.2 1152.6" stroke="#3f9afa"/>
<path d="M830.1 998.9H873L873.3 1001.9L873.6 1006.9L874 1018.9L874.5 1048.9L875 1098.9L875.2 1152.6" stroke="#45a3fa"/>
<path d="M830.1 1001H873L873.3 1004L873.6 1009L873.9 1021L874.5 1051L875 1101L875.2 1152.6" stroke="#4bacfa"/>
<path d="M830.1 1003H873L873.3 1006L873.6 1011L873.9 1023L874.5 1053L875 1103L875.1 1152.6" stroke="#50b5fa"/>
<path d="M830.1 1005H873L873.3 1008L873.6 1013L873.9 1025L874.5 1055L875 1105L875.1 1152.6" stroke="#53c3fa"/>
<path d="M830.1 1007H873L873.3 1010L873.6 1015L873.9 1027L874.5 1057L874.9 1107L875.1 1152.6" stroke="#57d2fa"/>
<path d="M830.1 1009H873L873.3 1012L873.6 1017L873.9 1029L874.4 1059L874.9 1109L875.1 1152.6" stroke="#5ae0fa"/>
<path d="M830.1 1010.9H873L873.3 1013.9L873.6 1018.9L873.9 1030.9L874.4 1060.9L874.9 1110.9L875.1 1152.6" stroke="#5ceafa"/>
<path d="M830.1 1012.9H873L873.3 1015.9L873.5 1020.9L873.9 1032.9L874.4 1062.9L874.9 1112.9L875 1152.6" stroke="#5ef5fa"/>
<path d="M830.1 1014.7H873L873.3 1017.7L873.5 1022.7L873.9 1034.7L874.4 1064.7L874.9 1114.7L875 1152.6" stroke="#5ffafa"/>
<path d="M830.1 1016.6H873L873.3 1019.6L873.5 1024.6L873.8 1036.6L874.4 1066.6L874.9 1116.6L875 1152.6" stroke="#5efbf9"/>
<path d="M830.1 1018.4H873L873.3 1021.4L873.5 1026.4L873.8 1038.4L874.4 1068.4L874.8 1118.4L875 1152.6" stroke="#5dfcf8"/>
<path d="M830.1 1020.2H873L873.3 1023.2L873.5 1028.2L873.8 1040.2L874.3 1070.2L874.8 1120.2L874.9 1152.6" stroke="#5cfdf7"/>
<path d="M830.1 1022H873L873.3 1025L873.5 1030L873.8 1042L874.3 1072L874.8 1122L874.9 1152.6" stroke="#5bfef6"/>
<path d="M830.1 1023.7H873L873.2 1026.7L873.5 1031.7L873.8 1043.7L874.3 1073.7L874.8 1123.7L874.9 1152.6" stroke="#5afff5"/>
<path d="M830.1 1025.4H873L873.2 1028.4L873.4 1033.4L873.7 1045.4L874.3 1075.4L874.7 1125.4L874.8 1152.6" stroke="#5bfff2"/>
<path d="M830.1 1027H873L873.2 1030L873.4 1035L873.7 1047L874.2 1077L874.7 1127L874.8 1152.6" stroke="#5cffec"/>
<path d="M830.1 1028.6H873L873.2 1031.6L873.4 1036.6L873.7 1048.6L874.2 1078.6L874.7 1128.6L874.8 1152.6" stroke="#5dffe6"/>
<path d="M830.1 1030.1H873L873.2 1033.1L873.4 1038.1L873.7 1050.1L874.2 1080.1L874.6 1130.1L874.7 1152.6" stroke="#5fffe0"/>
<path d="M830.1 1031.6H873L873.2 1034.6L873.4 1039.6L873.6 1051.6L874.2 1081.6L874.6 1131.6L874.7 1152.6" stroke="#60ffda" class="a"/>
<path d="M830.1 1033H873L873.2 1036L873.3 1041L873.6 1053L874.2 1083L874.6 1133L874.7 1152.6" stroke="#61ffd4" class="a"/>
<path d="M830.1 1034.5H873L873.2 1037.5L873.3 1042.5L873.6 1054.5L874.1 1084.5L874.6 1134.5L874.7 1152.6" stroke="#63ffcf" class="a"/>
<path d="M830.1 1035.9H873L873.2 1038.9L873.3 1043.9L873.6 1055.9L874.1 1085.9L874.6 1135.9L874.7 1152.6" stroke="#64ffc9" class="a"/>
<path d="M830.1 1037.4H873L873.2 1040.4L873.3 1045.4L873.6 1057.4L874.1 1087.4L874.6 1137.4L874.6 1152.6" stroke="#66ffc1" class="a"/>
<path d="M830.1 1038.8H873L873.2 1041.8L873.3 1046.8L873.6 1058.8L874.1 1088.8L874.6 1152.6" stroke="#69ffb9" class="a"/>
<path d="M830.1 1040.3H873L873.2 1043.3L873.4 1048.3L873.6 1060.3L874.1 1090.3L874.6 1152.6" stroke="#6bffb1" class="a"/>
<path d="M830.1 1041.8H873L873.2 1044.8L873.4 1049.8L873.7 1061.8L874.2 1091.8L874.6 1152.6" stroke="#6dffa9" class="a"/>
<path d="M830.1 1043.3H873L873.2 1046.3L873.4 1051.3L873.7 1063.3L874.2 1093.3L874.7 1152.6" stroke="#70ffa0"/>
<path d="M830.1 1044.8H873L873.2 1047.8L873.4 1052.8L873.7 1064.8L874.2 1094.8L874.7 1152.6" stroke="#72ff98"/>
<path d="M830.1 1046.4H873L873.2 1049.4L873.4 1054.4L873.7 1066.4L874.2 1096.4L874.7 1152.6" stroke="#74ff92"/>
<path d="M830.1 1048H873L873.2 1051L873.4 1056L873.7 1068L874.2 1098L874.7 1152.6" stroke="#76ff8d"/>
<path d="M830.1 1049.6H873L873.2 1052.6L873.4 1057.6L873.7 1069.6L874.2 1099.6L874.7 1152.6" stroke="#78ff87"/>
<path d="M830.1 1051.3H873L873.2 1054.3L873.4 1059.3L873.7 1071.3L874.2 1101.3L874.7 1152.6" stroke="#7aff81"/>
<path d="M830.1 1052.9H873L873.2 1055.9L873.4 1060.9L873.7 1072.9L874.2 1102.9L874.6 1152.6" stroke="#7cff7c"/>
<path d="M830.1 1054.5H873L873.2 1057.5L873.4 1062.5L873.7 1074.5L874.2 1104.5L874.6 1152.6" stroke="#7eff76"/>
<path d="M830.1 1056H873L873.2 1059L873.4 1064L873.7 1076L874.2 1106L874.6 1152.6" stroke="#80ff71"/>
<path d="M830.1 1057.5H873L873.2 1060.5L873.4 1065.5L873.6 1077.5L874.1 1107.5L874.5 1152.6" stroke="#82ff6b" class="a"/>
<path d="M830.1 1059H873L873.2 1062L873.4 1067L873.6 1079L874.1 1109L874.5 1152.6" stroke="#84ff66" class="a"/>
<path d="M830.1 1060.4H873L873.2 1063.4L873.4 1068.4L873.6 1080.4L874.1 1110.4L874.5 1152.6" stroke="#86ff60" class="a"/>
<path d="M830.1 1061.8H873L873.2 1064.8L873.3 1069.8L873.6 1081.8L874.1 1111.8L874.5 1152.6" stroke="#88ff5b" class="a"/>
<path d="M830.1 1063.3H873L873.2 1066.3L873.3 1071.3L873.6 1083.3L874.1 1113.3L874.4 1152.6" stroke="#8aff55" class="a"/>
<path d="M830.1 1064.6H873L873.2 1067.6L873.3 1072.6L873.6 1084.6L874.1 1114.6L874.4 1152.6" stroke="#8cff4f" class="a"/>
<path d="M830.1 1066H873L873.2 1069L873.3 1074L873.6 1086L874 1116L874.4 1152.6" stroke="#8fff49" class="a"/>
<path d="M830.1 1067.3H873L873.1 1070.3L873.3 1075.3L873.5 1087.3L874 1117.3L874.3 1152.6" stroke="#92ff42" class="b"/>
<path d="M830.1 1068.5H873L873.1 1071.5L873.2 1076.5L873.5 1088.5L874 1118.5L874.3 1152.6" stroke="#95ff3c" class="b"/>
<path d="M830.1 1069.7H873L873.1 1072.7L873.2 1077.7L873.5 1089.7L874 1119.7L874.3 1152.6" stroke="#98ff35" class="b"/>
<path d="M830.1 1070.8H873L873.1 1073.8L873.2 1078.8L873.5 1090.8L874 1120.8L874.3 1152.6" stroke="#9bff2f" class="c"/>
<path d="M830.1 1071.8H873L873.1 1074.8L873.2 1079.8L873.5 1091.8L874 1121.8L874.3 1152.6" stroke="#9eff28" class="c"/>
<path d="M830.1 1072.8H873L873.1 1075.8L873.2 1080.8L873.5 1092.8L874 1122.8L874.3 1152.6" stroke="#a1ff22" class="c"/>
<path d="M830.1 1073.8H873L873.1 1076.8L873.2 1081.8L873.5 1093.8L874 1123.8L874.2 1152.6" stroke="#a4ff1b" class="c"/>
<path d="M830.1 1074.7H873.1L873.1 1077.7L873.2 1082.7L873.5 1094.7L874 1124.7L874.2 1152.6" stroke="#a7ff18" class="c"/>
<path d="M830.1 1075.6H873.1L873.1 1078.6L873.2 1083.6L873.5 1095.6L874 1125.6L874.2 1152.6" stroke="#abff16" class="c"/>
<path d="M830.1 1076.4H873.1L873.1 1079.4L873.2 1084.4L873.5 1096.4L874 1126.4L874.2 1152.6" stroke="#aeff14" class="c"/>
<path d="M830.1 1077.3H873.1L873.1 1080.3L873.2 1085.3L873.5 1097.3L874 1127.3L874.2 1152.6" stroke="#b2ff12" class="c"/>
<path d="M830.1 1078.1H873.1L873.1 1081.1L873.2 1086.1L873.5 1098.1L874 1128.1L874.2 1152.6" stroke="#b6ff10" class="c"/>
<path d="M830.1 1078.9H873.1L873.1 1081.9L873.2 1086.9L873.5 1098.9L874 1128.9L874.2 1152.6" stroke="#b9ff0e" class="c"/>
<path d="M830.1 1079.7H873.1L873.1 1082.7L873.3 1087.7L873.5 1099.7L874 1129.7L874.2 1152.6" stroke="#bdff0c" class="c"/>
<path d="M830.1 1080.5H873.1L873.1 1083.5L873.3 1088.5L873.5 1100.5L874 1130.5L874.2 1152.6" stroke="#c0ff0a" class="c"/>
<path d="M830.1 1081.3H873.1L873.1 1084.3L873.3 1089.3L873.5 1101.3L874 1131.3L874.2 1152.6" stroke="#c4ff08" class="c"/>
<path d="M830.1 1082.1H873.1L873.1 1085.1L873.3 1090.1L873.5 1102.1L874 1132.1L874.2 1152.6" stroke="#c7ff06" class="c"/>
<path d="M830.1 1083H873.1L873.1 1086L873.3 1091L873.5 1103L874 1133L874.2 1152.6" stroke="#cbff04" class="c"/>
<path d="M830.1 1083.9H873.1L873.1 1086.9L873.3 1091.9L873.5 1103.9L874 1133.9L874.1 1152.6" stroke="#ceff02" class="c"/>
<path d="M830.1 1084.7H873.1L873.1 1087.7L873.3 1092.7L873.5 1104.7L874 1134.7L874.1 1152.6" stroke="#d2ff00" class="c"/>
<path d="M830.1 1085.5H873.1L873.1 1088.5L873.3 1093.5L873.5 1105.5L874 1135.5L874.1 1152.6" stroke="#d5ff00" class="c"/>
<path d="M830.1 1086.3H873.1L873.1 1089.3L873.3 1094.3L873.5 1106.3L874 1136.3L874.1 1152.6" stroke="#d9ff00" class="c"/>
<path d="M830.1 1087.1H873.1L873.1 1090.1L873.3 1095.1L873.5 1107.1L874 1137.1L874.1 1152.6" stroke="#ddff00" class="c"/>
<path d="M830.1 1087.9H873.1L873.1 1090.9L873.3 1095.9L873.5 1107.9L874.1 1152.6" stroke="#e0ff00" class="c"/>
<path d="M830.1 1088.7H873.1L873.1 1091.7L873.3 1096.7L873.5 1108.7L874.1 1152.6" stroke="#e4ff00" class="c"/>
<path d="M830.1 1089.6H873.1L873.1 1092.6L873.3 1097.6L873.5 1109.6L874.1 1152.6" stroke="#e8ff00" class="c"/>
<path d="M830.1 1090.4H873.1L873.1 1093.4L873.3 1098.4L873.5 1110.4L874.1 1152.6" stroke="#ebff00" class="c"/>
<path d="M830.1 1091.2H873.1L873.1 1094.2L873.3 1099.2L873.5 1111.2L874.1 1152.6" stroke="#efff00" class="c"/>
<path d="M830.1 1092.1H873.1L873.1 1095.1L873.3 1100.1L873.5 1112.1L874.1 1152.6" stroke="#f3ff00" class="c"/>
<path d="M830.1 1093H873.1L873.1 1096L873.3 1101L873.5 1113L874 1152.6" stroke="#f7ff00" class="c"/>
<path d="M830.1 1093.9H873.1L873.1 1096.9L873.3 1101.9L873.5 1113.9L874 1152.6" stroke="#faff00" class="c"/>
<path d="M830.1 1094.8H873.1L873.1 1097.8L873.3 1102.8L873.5 1114.8L874 1152.6" stroke="#feff00" class="c"/>
<path d="M830.1 1095.8H873.1L873.1 1098.8L873.3 1103.8L873.5 1115.8L874 1152.6" stroke="#fff900" class="c"/>
<path d="M830.1 1096.8H873.1L873.2 1099.8L873.3 1104.8L873.5 1116.8L874 1152.6" stroke="#fff000" class="c"/>
<path d="M830.1 1098H873.1L873.2 1101L873.3 1106L873.5 1118L874 1152.6" stroke="#ffe700" class="b"/>
<path d="M830.1 1099.1H873.1L873.2 1102.1L873.3 1107.1L873.5 1119.1L874 1152.6" stroke="#ffde00" class="b"/>
<path d="M830.1 1100.4H873.1L873.2 1103.4L873.3 1108.4L873.5 1120.4L874 1152.6" stroke="#ffd500" class="b"/>
<path d="M830.1 1101.6H873.1L873.2 1104.6L873.3 1109.6L873.5 1121.6L874 1152.6" stroke="#ffcc00" class="b"/>
<path d="M830.1 1102.8H873.1L873.2 1105.8L873.3 1110.8L873.5 1122.8L873.9 1152.6" stroke="#ffc300" class="b"/>
<path d="M830.1 1104H873.1L873.2 1107L873.3 1112L873.5 1124L873.9 1152.6" stroke="#ffba00" class="b"/>
<path d="M830.1 1105.2H873.1L873.2 1108.2L873.3 1113.2L873.5 1125.2L873.9 1152.6" stroke="#ffb000" class="b"/>
<path d="M830.1 1106.3H873.1L873.2 1109.3L873.3 1114.3L873.5 1126.3L873.9 1152.6" stroke="#ffa700" class="c"/>
<path d="M830.1 1107.4H873.1L873.2 1110.4L873.3 1115.4L873.5 1127.4L873.9 1152.6" stroke="#ff9d00" class="c"/>
<path d="M830.1 1108.4H873.1L873.2 1111.4L873.3 1116.4L873.5 1128.4L873.9 1152.6" stroke="#ff9400" class="c"/>
<path d="M830.1 1109.4H873.1L873.2 1112.4L873.3 1117.4L873.5 1129.4L873.9 1152.6" stroke="#ff8b00" class="c"/>
<path d="M830.1 1110.4H873.1L873.2 1113.4L873.3 1118.4L873.5 1130.4L873.8 1152.6" stroke="#ff8100" class="c"/>
<path d="M830.1 1111.4H873.1L873.2 1114.4L873.3 1119.4L873.5 1131.4L873.8 1152.6" stroke="#ff7c00" class="c"/>
<path d="M830.1 1112.4H873.1L873.2 1115.4L873.3 1120.4L873.5 1132.4L873.8 1152.6" stroke="#ff7600" class="c"/>
<path d="M830.1 1113.3H873.1L873.2 1116.3L873.3 1121.3L873.5 1133.3L873.8 1152.6" stroke="#ff7100" class="c"/>
<path d="M830.1 1114.3H873.1L873.2 1117.3L873.3 1122.3L873.5 1134.3L873.8 1152.6" stroke="#ff6b00" class="c"/>
<path d="M830.1 1115.2H873.1L873.2 1118.2L873.3 1123.2L873.5 1135.2L873.8 1152.6" stroke="#ff6500" class="c"/>
<path d="M830.1 1116H873.1L873.2 1119L873.3 1124L873.5 1136L873.8 1152.6" stroke="#ff6000" class="c"/>
<path d="M830.1 1116.9H873.1L873.2 1119.9L873.3 1124.9L873.5 1136.9L873.8 1152.6" stroke="#ff5a00" class="c"/>
<path d="M830.1 1117.7H873.1L873.2 1120.7L873.3 1125.7L873.7 1152.6" stroke="#ff5400" class="c"/>
<path d="M830.1 1118.5H873.1L873.2 1121.5L873.3 1126.5L873.7 1152.6" stroke="#ff4f00" class="c"/>
<path d="M830.1 1119.3H873.1L873.2 1122.3L873.3 1127.3L873.7 1152.6" stroke="#ff4900" class="c"/>
<path d="M830.1 1120.1H873.1L873.2 1123.1L873.3 1128.1L873.7 1152.6" stroke="#ff4300" class="c"/>
<path d="M830.1 1120.9H873.1L873.2 1123.9L873.3 1128.9L873.7 1152.6" stroke="#ff3e00" class="c"/>
<path d="M830.1 1121.6H873.1L873.2 1124.6L873.3 1129.6L873.7 1152.6" stroke="#ff3800" class="c"/>
<path d="M830.1 1122.3H873.1L873.2 1125.3L873.3 1130.3L873.7 1152.6" stroke="#ff3300" class="c"/>
<path d="M830.1 1123.1H873.1L873.2 1126.1L873.3 1131.1L873.7 1152.6" stroke="#ff2f00" class="c"/>
<path d="M830.1 1123.8H873.1L873.2 1126.8L873.3 1131.8L873.7 1152.6" stroke="#ff2b00" class="c"/>
<path d="M830.1 1124.5H873.1L873.2 1127.5L873.3 1132.5L873.6 1152.6" stroke="#ff2800" class="c"/>
<path d="M830.1 1125.2H873.1L873.2 1128.2L873.3 1133.2L873.6 1152.6" stroke="#ff2500" class="c"/>
<path d="M830.1 1125.8H873.1L873.2 1128.8L873.3 1133.8L873.6 1152.6" stroke="#ff2100" class="c"/>
<path d="M830.1 1126.5H873.1L873.2 1129.5L873.3 1134.5L873.6 1152.6" stroke="#ff1e00" class="c"/>
<path d="M830.1 1127.2H873.1L873.2 1130.2L873.3 1135.2L873.6 1152.6" stroke="#ff1a00" class="c"/>
<path d="M830.1 1127.8H873.1L873.2 1130.8L873.3 1135.8L873.6 1152.6" stroke="#ff1700" class="c"/>
<path d="M830.1 1128.4H873.1L873.2 1131.4L873.3 1136.4L873.6 1152.6" stroke="#ff1300" class="c"/>
<path d="M830.1 1129H873.1L873.2 1132L873.3 1137L873.6 1152.6" stroke="#ff1000" class="c"/>
<path d="M830.1 1129.6H873.1L873.2 1132.6L873.3 1137.6L873.6 1152.6" stroke="#ff0c00" class="c"/>
<path d="M830.1 1130.2H873.1L873.2 1133.2L873.6 1152.6" stroke="#ff0a00" class="c"/>
<path d="M830.1 1130.8H873.1L873.2 1133.8L873.5 1152.6" stroke="#fe0900" class="c"/>
<path d="M830.1 1131.3H873.1L873.2 1134.3L873.5 1152.6" stroke="#fe0800" class="c"/>
<path d="M830.1 1131.9H873.1L873.2 1134.9L873.5 1152.6" stroke="#fd0600" class="c"/>
<path d="M830.1 1132.5H873.1L873.2 1135.5L873.5 1152.6" stroke="#fd0500" class="c"/>
<path d="M830.1 1133.1H873.1L873.2 1136.1L873.5 1152.6" stroke="#fc0400" class="c"/>
<path d="M830.1 1133.7H873.1L873.2 1136.7L873.5 1152.6" stroke="#fc0300" class="c"/>
<path d="M830.1 1134.3H873.1L873.2 1137.3L873.5 1152.6" stroke="#fb0200" class="c"/>
<path d="M830.1 1134.9H873.1L873.5 1152.6" stroke="#fb0100" class="c"/>
<path d="M830.1 1135.5H873.1L873.5 1152.6" stroke="#fa0000" class="c"/>
<path d="M830.1 1136.2H873.1L873.5 1152.6" stroke="#f50000" class="c"/>
<path d="M830.1 1136.9H873.1L873.4 1152.6" stroke="#f00000" class="c"/>
<path d="M830.1 1137.7H873.1L873.4 1152.6" stroke="#eb0000" class="c"/>
<path d="M830.1 1138.4H873.1L873.4 1152.6" stroke="#e60000" class="c"/>
<path d="M830.1 1139.2H873.1L873.4 1152.6" stroke="#e10000" class="c"/>
<path d="M830.1 1140H873.1L873.4 1152.6" stroke="#dc0000" class="c"/>
<path d="M830.1 1140.8H873.1L873.4 1152.6" stroke="#d70000" class="c"/>
<path d="M830.1 1141.6H873.1L873.4 1152.6" stroke="#d20000" class="c"/>
<path d="M830.1 1142.4H873.1L873.3 1152.6" stroke="#cd0000" class="c"/>
<path d="M830.1 1143.1H873.1L873.3 1152.6" stroke="#c80000" class="c"/>
<path d="M830.1 1143.8H873.1L873.3 1152.6" stroke="#c30000" class="c"/>
<path d="M830.1 1144.4H873.1L873.3 1152.6" stroke="#be0000" class="c"/>
<path d="M830.1 1145.1H873.1L873.3 1152.6" stroke="#b90000" class="c"/>
<path d="M830.1 1145.7H873.1L873.3 1152.6" stroke="#b40000" class="c"/>
<path d="M830.1 1146.3H873.1L873.3 1152.6" stroke="#af0000" class="c"/>
<path d="M830.1 1146.9H873.1L873.3 1152.6" stroke="#aa0000" class="c"/>
<path d="M830.1 1147.5H873.1L873.3 1152.6" stroke="#a50000" class="c"/>
<path d="M830.1 1148.1H873.1L873.2 1152.6" stroke="#a00000" class="c"/>
<path d="M830.1 1148.6H873.1L873.2 1152.6" stroke="#9b0000" class="c"/>
<path d="M830.1 1149.2H873.1L873.2 1152.6" stroke="#960000" class="c"/>
<path d="M830.1 1149.7H873.1L873.2 1152.6" stroke="#910000" class="c"/>
<path d="M830.1 1150.2H873.1L873.2 1152.6" stroke="#8c0000" class="c"/>
<path d="M830.1 1150.7H873.1L873.2 1152.6" stroke="#870000" class="c"/>
<path d="M830.1 1151.2H873.1L873.2 1152.6" stroke="#820000" class="c"/>
</g>
<path class="cv" clip-path="url(#cl6)" d="M878.2 1152.3C879.3 1151.7 882.6 1150.7 884.8 1148.8C887 1146.9 889.2 1144.9 891.4 1141.1C893.6 1137.2 895 1134.2 898 1125.7C901 1117.2 905.4 1102.5 909.1 1090.4C912.8 1078.3 916.4 1064.4 920.1 1053C923.8 1041.6 927.4 1031.8 931.1 1022.2C934.8 1012.7 938.4 1003.6 942.1 995.7C945.8 987.8 949.4 981 953.1 974.8C956.8 968.6 960.4 963.2 964.1 958.3C967.8 953.4 971.4 949.2 975.1 945.5C978.8 941.8 982.4 939 986.1 936.3C989.8 933.6 993.5 931.3 997.2 929.2C1000.9 927.1 1004.5 925.2 1008.2 923.5C1011.9 921.8 1015.5 920.5 1019.2 919.1C1022.9 917.7 1026.5 916.4 1030.2 915.3C1033.9 914.2 1037.5 913.4 1041.2 912.5C1044.9 911.6 1046.6 910.8 1052.2 909.8C1057.8 908.8 1067.5 907.2 1075 906.4C1082.5 905.6 1091.9 905.1 1097.4 904.8C1102.9 904.5 1106.1 904.8 1107.8 904.8"/>
<rect x="1051.6" y="705.8" width="46" height="425.3" fill="url(#jet)" stroke="#111" stroke-width="1.1"/>
<path d="M1051.6 730.3h4.5M1097.6 730.3h-4.5" stroke="#000" stroke-opacity=".75" stroke-width="1" fill="none"/>
<text class="tk" x="1044" y="740.7" text-anchor="end">0.7</text>
<path d="M1051.6 788h4.5M1097.6 788h-4.5" stroke="#000" stroke-opacity=".75" stroke-width="1" fill="none"/>
<text class="tk" x="1044" y="798.4" text-anchor="end">0.6</text>
<path d="M1051.6 845.7h4.5M1097.6 845.7h-4.5" stroke="#000" stroke-opacity=".75" stroke-width="1" fill="none"/>
<text class="tk" x="1044" y="856.1" text-anchor="end">0.5</text>
<path d="M1051.6 903.4h4.5M1097.6 903.4h-4.5" stroke="#000" stroke-opacity=".75" stroke-width="1" fill="none"/>
<text class="tk" x="1044" y="913.8" text-anchor="end">0.4</text>
<path d="M1051.6 961.1h4.5M1097.6 961.1h-4.5" stroke="#000" stroke-opacity=".75" stroke-width="1" fill="none"/>
<text class="tk" x="1044" y="971.5" text-anchor="end">0.3</text>
<path d="M1051.6 1018.8h4.5M1097.6 1018.8h-4.5" stroke="#000" stroke-opacity=".75" stroke-width="1" fill="none"/>
<text class="tk" x="1044" y="1029.2" text-anchor="end">0.2</text>
<path d="M1051.6 1076.5h4.5M1097.6 1076.5h-4.5" stroke="#000" stroke-opacity=".75" stroke-width="1" fill="none"/>
<text class="tk" x="1044" y="1086.9" text-anchor="end">0.1</text>
<rect class="ax" x="829.1" y="683.3" width="279.1" height="469.5"/>
<text class="tk" x="820.3" y="693.8" text-anchor="end">0.7</text>
<text class="tk" x="821.5" y="1164.6" text-anchor="end">0</text>
<text class="tk" x="829.1" y="1187.6" text-anchor="middle">0</text>
<text class="tk" x="1108.5" y="1187.2" text-anchor="middle">1</text>
<text class="gk" x="966.6" y="1223.3" text-anchor="middle" stroke-width=".3">ξ</text>
<text class="gk" stroke-width=".7" text-anchor="middle" transform="translate(765.6 919.3) rotate(-90)">η</text>
<text class="tk" x="848.8" y="740.7">t<tspan x="859.4" dy="4" font-size="33px" font-weight="bold" textLength="13.1" lengthAdjust="spacingAndGlyphs">=</tspan><tspan x="874.8" dy="-4">3.50</tspan></text>
</g>
<g id="panel8">
<clipPath id="cl7"><rect x="1196.4" y="683.3" width="279.1" height="469.5"/></clipPath>
<g class="ct" clip-path="url(#cl7)">
<path d="M1197.4 772.5H1240L1240.5 775.5L1240.8 780.5L1241.2 792.5L1241.9 822.5L1242.6 872.5L1243.1 922.5L1243.4 972.5L1243.5 1022.5L1243.4 1072.5L1243.2 1122.5L1243.1 1152.6" stroke="#0000b1"/>
<path d="M1197.4 780.5H1240L1240.5 783.5L1240.9 788.5L1241.2 800.5L1241.9 830.5L1242.6 880.5L1243.1 930.5L1243.4 980.5L1243.5 1030.5L1243.4 1080.5L1243.2 1130.5L1243.1 1152.6" stroke="#0000be"/>
<path d="M1197.4 787.5H1240L1240.5 790.5L1240.9 795.5L1241.2 807.5L1241.9 837.5L1242.6 887.5L1243.1 937.5L1243.4 987.5L1243.5 1037.5L1243.3 1087.5L1243.2 1137.5L1243.1 1152.6" stroke="#0000cb"/>
<path d="M1197.4 794.4H1240L1240.5 797.4L1240.9 802.4L1241.2 814.4L1241.9 844.4L1242.7 894.4L1243.1 944.4L1243.5 994.4L1243.4 1044.4L1243.3 1094.4L1243.1 1152.6" stroke="#0000d8"/>
<path d="M1197.4 801.3H1240L1240.5 804.3L1240.9 809.3L1241.3 821.3L1241.9 851.3L1242.7 901.3L1243.1 951.3L1243.5 1001.3L1243.4 1051.3L1243.3 1101.3L1243.1 1152.6" stroke="#0001e0"/>
<path d="M1197.4 807.7H1240L1240.5 810.7L1240.9 815.7L1241.3 827.7L1241.9 857.7L1242.7 907.7L1243.2 957.7L1243.4 1007.7L1243.4 1057.7L1243.3 1107.7L1243.1 1152.6" stroke="#0002e5"/>
<path d="M1197.4 813.7H1240L1240.5 816.7L1240.9 821.7L1241.3 833.7L1241.9 863.7L1242.7 913.7L1243.2 963.7L1243.4 1013.7L1243.4 1063.7L1243.2 1113.7L1243.1 1152.6" stroke="#0003eb"/>
<path d="M1197.4 819.6H1240L1240.6 822.6L1240.9 827.6L1241.3 839.6L1241.9 869.6L1242.7 919.6L1243.2 969.6L1243.4 1019.6L1243.3 1069.6L1243.2 1119.6L1243.1 1152.6" stroke="#0003f1"/>
<path d="M1197.4 825.3H1240L1240.6 828.3L1240.9 833.3L1241.3 845.3L1241.9 875.3L1242.7 925.3L1243.2 975.3L1243.4 1025.3L1243.3 1075.3L1243.2 1125.3L1243.1 1152.6" stroke="#0004f6"/>
<path d="M1197.4 830.9H1240L1240.6 833.9L1240.9 838.9L1241.3 850.9L1241.9 880.9L1242.7 930.9L1243.2 980.9L1243.4 1030.9L1243.3 1080.9L1243.1 1130.9L1243.1 1152.6" stroke="#0006fa"/>
<path d="M1197.4 836.6H1240L1240.6 839.6L1240.9 844.6L1241.3 856.6L1242 886.6L1242.7 936.6L1243.2 986.6L1243.3 1036.6L1243.3 1086.6L1243.1 1136.6L1243.1 1152.6" stroke="#0208fa"/>
<path d="M1197.4 842H1240.1L1240.6 845L1240.9 850L1241.3 862L1242 892L1242.7 942L1243.2 992L1243.3 1042L1243.2 1092L1243.1 1152.6" stroke="#030bfa"/>
<path d="M1197.4 847.3H1240.1L1240.6 850.3L1240.9 855.3L1241.3 867.3L1242 897.3L1242.7 947.3L1243.2 997.3L1243.3 1047.3L1243.2 1097.3L1243.1 1152.6" stroke="#050dfa"/>
<path d="M1197.4 852.6H1240.1L1240.6 855.6L1241 860.6L1241.3 872.6L1242 902.6L1242.7 952.6L1243.2 1002.6L1243.3 1052.6L1243.2 1102.6L1243.1 1152.6" stroke="#0610fa"/>
<path d="M1197.4 857.7H1240.1L1240.6 860.7L1241 865.7L1241.3 877.7L1242 907.7L1242.7 957.7L1243.2 1007.7L1243.3 1057.7L1243.2 1107.7L1243 1152.6" stroke="#0812fa"/>
<path d="M1197.4 862.5H1240.1L1240.6 865.5L1241 870.5L1241.3 882.5L1242 912.5L1242.7 962.5L1243.2 1012.5L1243.2 1062.5L1243.2 1112.5L1243 1152.6" stroke="#0914fa"/>
<path d="M1197.4 867.3H1240.1L1240.6 870.3L1241 875.3L1241.3 887.3L1242 917.3L1242.7 967.3L1243.2 1017.3L1243.2 1067.3L1243.1 1117.3L1243 1152.6" stroke="#0b17fa"/>
<path d="M1197.4 872.1H1240.1L1240.6 875.1L1241 880.1L1241.3 892.1L1242 922.1L1242.8 972.1L1243.1 1022.1L1243.2 1072.1L1243.1 1122.1L1243 1152.6" stroke="#0c19fa"/>
<path d="M1197.4 876.6H1240.1L1240.6 879.6L1241 884.6L1241.3 896.6L1242 926.6L1242.8 976.6L1243.1 1026.6L1243.2 1076.6L1243.1 1126.6L1243 1152.6" stroke="#0e1cfa"/>
<path d="M1197.4 880.9H1240.1L1240.6 883.9L1241 888.9L1241.4 900.9L1242 930.9L1242.8 980.9L1243.1 1030.9L1243.2 1080.9L1243.1 1130.9L1243 1152.6" stroke="#0f1efa"/>
<path d="M1197.4 885.2H1240.1L1240.6 888.2L1241 893.2L1241.4 905.2L1242 935.2L1242.8 985.2L1243.1 1035.2L1243.1 1085.2L1243.1 1135.2L1243 1152.6" stroke="#1120fa"/>
<path d="M1197.4 889.4H1240.1L1240.6 892.4L1241 897.4L1241.4 909.4L1242 939.4L1242.8 989.4L1243.1 1039.4L1243.1 1089.4L1243 1152.6" stroke="#1223fa"/>
<path d="M1197.4 893.4H1240.1L1240.7 896.4L1241 901.4L1241.4 913.4L1242 943.4L1242.8 993.4L1243.1 1043.4L1243.1 1093.4L1243 1152.6" stroke="#1425fa"/>
<path d="M1197.4 897.4H1240.1L1240.7 900.4L1241 905.4L1241.4 917.4L1242 947.4L1242.8 997.4L1243.1 1047.4L1243.1 1097.4L1243 1152.6" stroke="#1527fa"/>
<path d="M1197.4 901.3H1240.1L1240.7 904.3L1241 909.3L1241.4 921.3L1242 951.3L1242.8 1001.3L1243 1051.3L1243.1 1101.3L1243 1152.6" stroke="#1629fa"/>
<path d="M1197.4 904.9H1240.1L1240.7 907.9L1241 912.9L1241.4 924.9L1242 954.9L1242.8 1004.9L1243 1054.9L1243.1 1104.9L1243 1152.6" stroke="#182bfa"/>
<path d="M1197.4 908.6H1240.1L1240.7 911.6L1241 916.6L1241.4 928.6L1242 958.6L1242.8 1008.6L1243 1058.6L1243.1 1108.6L1243 1152.6" stroke="#192efa"/>
<path d="M1197.4 912.1H1240.1L1240.7 915.1L1241 920.1L1241.4 932.1L1242 962.1L1242.8 1012.1L1243 1062.1L1243 1112.1L1243 1152.6" stroke="#1a30fa"/>
<path d="M1197.4 915.7H1240.1L1240.7 918.7L1241 923.7L1241.4 935.7L1242.1 965.7L1242.8 1015.7L1243 1065.7L1243 1115.7L1243 1152.6" stroke="#1b32fb"/>
<path d="M1197.4 919H1240.2L1240.7 922L1241 927L1241.4 939L1242.1 969L1242.8 1019L1243 1069L1243 1119L1243 1152.6" stroke="#1b34fb"/>
<path d="M1197.4 922.4H1240.2L1240.7 925.4L1241 930.4L1241.4 942.4L1242.1 972.4L1242.7 1022.4L1243 1072.4L1243 1122.4L1243 1152.6" stroke="#1c36fb"/>
<path d="M1197.4 925.6H1240.2L1240.7 928.6L1241 933.6L1241.4 945.6L1242.1 975.6L1242.7 1025.6L1243 1075.6L1243 1125.6L1242.9 1152.6" stroke="#1d39fc"/>
<path d="M1197.4 928.8H1240.2L1240.7 931.8L1241 936.8L1241.4 948.8L1242.1 978.8L1242.7 1028.8L1243 1078.8L1243 1128.8L1242.9 1152.6" stroke="#1e3bfc"/>
<path d="M1197.4 931.8H1240.2L1240.7 934.8L1241.1 939.8L1241.4 951.8L1242.1 981.8L1242.7 1031.8L1242.9 1081.8L1243 1131.8L1242.9 1152.6" stroke="#1f3dfc"/>
<path d="M1197.4 934.9H1240.2L1240.7 937.9L1241.1 942.9L1241.4 954.9L1242.1 984.9L1242.7 1034.9L1242.9 1084.9L1242.9 1134.9L1242.9 1152.6" stroke="#2040fd"/>
<path d="M1197.4 937.8H1240.2L1240.7 940.8L1241.1 945.8L1241.4 957.8L1242.1 987.8L1242.7 1037.8L1242.9 1087.8L1242.9 1152.6" stroke="#2243fd"/>
<path d="M1197.4 940.7H1240.2L1240.7 943.7L1241.1 948.7L1241.4 960.7L1242.1 990.7L1242.7 1040.7L1242.9 1090.7L1242.9 1152.6" stroke="#2346fe"/>
<path d="M1197.4 943.5H1240.2L1240.7 946.5L1241.1 951.5L1241.4 963.5L1242.1 993.5L1242.7 1043.5L1242.9 1093.5L1242.9 1152.6" stroke="#2549fe"/>
<path d="M1197.4 946.2H1240.2L1240.7 949.2L1241.1 954.2L1241.4 966.2L1242.1 996.2L1242.7 1046.2L1242.9 1096.2L1242.9 1152.6" stroke="#264cfe"/>
<path d="M1197.4 949H1240.2L1240.7 952L1241.1 957L1241.4 969L1242.1 999L1242.7 1049L1242.9 1099L1242.9 1152.6" stroke="#284fff"/>
<path d="M1197.4 951.5H1240.2L1240.7 954.5L1241.1 959.5L1241.4 971.5L1242.1 1001.5L1242.7 1051.5L1242.9 1101.5L1242.9 1152.6" stroke="#2953ff"/>
<path d="M1197.4 954.1H1240.2L1240.7 957.1L1241.1 962.1L1241.4 974.1L1242.1 1004.1L1242.7 1054.1L1242.9 1104.1L1242.9 1152.6" stroke="#2a56ff"/>
<path d="M1197.4 956.7H1240.2L1240.7 959.7L1241.1 964.7L1241.4 976.7L1242.1 1006.7L1242.7 1056.7L1242.9 1106.7L1242.9 1152.6" stroke="#2b5aff"/>
<path d="M1197.4 959.3H1240.2L1240.7 962.3L1241.1 967.3L1241.5 979.3L1242.1 1009.3L1242.6 1059.3L1242.9 1109.3L1242.9 1152.6" stroke="#2d5eff"/>
<path d="M1197.4 961.9H1240.2L1240.7 964.9L1241.1 969.9L1241.5 981.9L1242.1 1011.9L1242.6 1061.9L1242.8 1111.9L1242.9 1152.6" stroke="#2e61ff"/>
<path d="M1197.4 964.6H1240.2L1240.7 967.6L1241.1 972.6L1241.5 984.6L1242.1 1014.6L1242.6 1064.6L1242.8 1114.6L1242.8 1152.6" stroke="#2f65ff"/>
<path d="M1197.4 967.2H1240.2L1240.7 970.2L1241.1 975.2L1241.5 987.2L1242.1 1017.2L1242.6 1067.2L1242.8 1117.2L1242.8 1152.6" stroke="#3069ff"/>
<path d="M1197.4 969.9H1240.2L1240.7 972.9L1241.1 977.9L1241.5 989.9L1242.1 1019.9L1242.6 1069.9L1242.8 1119.9L1242.8 1152.6" stroke="#316cff"/>
<path d="M1197.4 972.5H1240.2L1240.8 975.5L1241.1 980.5L1241.5 992.5L1242.1 1022.5L1242.6 1072.5L1242.8 1122.5L1242.8 1152.6" stroke="#3373fe"/>
<path d="M1197.4 975.2H1240.2L1240.8 978.2L1241.1 983.2L1241.5 995.2L1242.1 1025.2L1242.6 1075.2L1242.8 1125.2L1242.8 1152.6" stroke="#367dfd"/>
<path d="M1197.4 977.8H1240.2L1240.8 980.8L1241.1 985.8L1241.5 997.8L1242.1 1027.8L1242.6 1077.8L1242.8 1127.8L1242.8 1152.6" stroke="#3887fc"/>
<path d="M1197.4 980.5H1240.2L1240.8 983.5L1241.1 988.5L1241.5 1000.5L1242.1 1030.5L1242.6 1080.5L1242.8 1130.5L1242.8 1152.6" stroke="#3b91fb"/>
<path d="M1197.4 983.2H1240.2L1240.8 986.2L1241.1 991.2L1241.5 1003.2L1242.1 1033.2L1242.6 1083.2L1242.8 1133.2L1242.8 1152.6" stroke="#3f9afa"/>
<path d="M1197.4 985.8H1240.2L1240.8 988.8L1241.1 993.8L1241.5 1005.8L1242.1 1035.8L1242.6 1085.8L1242.8 1135.8L1242.8 1152.6" stroke="#45a3fa"/>
<path d="M1197.4 988.5H1240.2L1240.8 991.5L1241.1 996.5L1241.5 1008.5L1242.1 1038.5L1242.6 1088.5L1242.8 1152.6" stroke="#4bacfa"/>
<path d="M1197.4 991.1H1240.2L1240.8 994.1L1241.1 999.1L1241.5 1011.1L1242.1 1041.1L1242.6 1091.1L1242.8 1152.6" stroke="#50b5fa"/>
<path d="M1197.4 993.7H1240.2L1240.8 996.7L1241.1 1001.7L1241.5 1013.7L1242.1 1043.7L1242.6 1093.7L1242.7 1152.6" stroke="#53c3fa"/>
<path d="M1197.4 996.3H1240.2L1240.8 999.3L1241.1 1004.3L1241.5 1016.3L1242.1 1046.3L1242.6 1096.3L1242.7 1152.6" stroke="#57d2fa"/>
<path d="M1197.4 998.8H1240.3L1240.8 1001.8L1241.1 1006.8L1241.5 1018.8L1242 1048.8L1242.6 1098.8L1242.7 1152.6" stroke="#5ae0fa"/>
<path d="M1197.4 1001.4H1240.3L1240.8 1004.4L1241.1 1009.4L1241.5 1021.4L1242 1051.4L1242.5 1101.4L1242.7 1152.6" stroke="#5ceafa"/>
<path d="M1197.4 1003.9H1240.3L1240.8 1006.9L1241.1 1011.9L1241.5 1023.9L1242 1053.9L1242.5 1103.9L1242.7 1152.6" stroke="#5ef5fa"/>
<path d="M1197.4 1006.3H1240.3L1240.8 1009.3L1241.1 1014.3L1241.5 1026.3L1242 1056.3L1242.5 1106.3L1242.7 1152.6" stroke="#5ffafa"/>
<path d="M1197.4 1008.8H1240.3L1240.8 1011.8L1241.1 1016.8L1241.4 1028.8L1242 1058.8L1242.5 1108.8L1242.6 1152.6" stroke="#5efbf9"/>
<path d="M1197.4 1011.1H1240.3L1240.8 1014.1L1241.1 1019.1L1241.4 1031.1L1242 1061.1L1242.4 1111.1L1242.6 1152.6" stroke="#5dfcf8"/>
<path d="M1197.4 1013.5H1240.3L1240.7 1016.5L1241.1 1021.5L1241.4 1033.5L1241.9 1063.5L1242.4 1113.5L1242.6 1152.6" stroke="#5cfdf7"/>
<path d="M1197.4 1015.8H1240.3L1240.7 1018.8L1241 1023.8L1241.4 1035.8L1241.9 1065.8L1242.4 1115.8L1242.5 1152.6" stroke="#5bfef6"/>
<path d="M1197.4 1018.1H1240.3L1240.7 1021.1L1241 1026.1L1241.4 1038.1L1241.9 1068.1L1242.4 1118.1L1242.5 1152.6" stroke="#5afff5"/>
<path d="M1197.4 1020.3H1240.3L1240.7 1023.3L1241 1028.3L1241.3 1040.3L1241.9 1070.3L1242.4 1120.3L1242.5 1152.6" stroke="#5bfff2"/>
<path d="M1197.4 1022.5H1240.3L1240.7 1025.5L1241 1030.5L1241.3 1042.5L1241.9 1072.5L1242.3 1122.5L1242.5 1152.6" stroke="#5cffec"/>
<path d="M1197.4 1024.7H1240.3L1240.7 1027.7L1241 1032.7L1241.3 1044.7L1241.9 1074.7L1242.3 1124.7L1242.4 1152.6" stroke="#5dffe6"/>
<path d="M1197.4 1026.9H1240.3L1240.7 1029.9L1241 1034.9L1241.3 1046.9L1241.8 1076.9L1242.3 1126.9L1242.4 1152.6" stroke="#5fffe0"/>
<path d="M1197.4 1029H1240.3L1240.7 1032L1241 1037L1241.3 1049L1241.8 1079L1242.3 1129L1242.4 1152.6" stroke="#60ffda"/>
<path d="M1197.4 1031.1H1240.3L1240.7 1034.1L1241 1039.1L1241.3 1051.1L1241.8 1081.1L1242.2 1131.1L1242.3 1152.6" stroke="#61ffd4"/>
<path d="M1197.4 1033.2H1240.3L1240.7 1036.2L1240.9 1041.2L1241.2 1053.2L1241.8 1083.2L1242.2 1133.2L1242.3 1152.6" stroke="#63ffcf"/>
<path d="M1197.4 1035.2H1240.3L1240.7 1038.2L1240.9 1043.2L1241.2 1055.2L1241.7 1085.2L1242.2 1135.2L1242.3 1152.6" stroke="#64ffc9"/>
<path d="M1197.4 1037.2H1240.3L1240.6 1040.2L1240.9 1045.2L1241.2 1057.2L1241.7 1087.2L1242.2 1137.2L1242.2 1152.6" stroke="#66ffc1"/>
<path d="M1197.4 1039.2H1240.3L1240.6 1042.2L1240.9 1047.2L1241.2 1059.2L1241.7 1089.2L1242.2 1152.6" stroke="#69ffb9"/>
<path d="M1197.4 1041.1H1240.3L1240.6 1044.1L1240.9 1049.1L1241.2 1061.1L1241.7 1091.1L1242.2 1152.6" stroke="#6bffb1"/>
<path d="M1197.4 1042.9H1240.3L1240.6 1045.9L1240.8 1050.9L1241.1 1062.9L1241.6 1092.9L1242.1 1152.6" stroke="#6dffa9"/>
<path d="M1197.4 1044.7H1240.3L1240.6 1047.7L1240.8 1052.7L1241.1 1064.7L1241.6 1094.7L1242.1 1152.6" stroke="#70ffa0"/>
<path d="M1197.4 1046.4H1240.3L1240.6 1049.4L1240.8 1054.4L1241.1 1066.4L1241.6 1096.4L1242 1152.6" stroke="#72ff98"/>
<path d="M1197.4 1048.1H1240.3L1240.6 1051.1L1240.8 1056.1L1241.1 1068.1L1241.6 1098.1L1242 1152.6" stroke="#74ff92"/>
<path d="M1197.4 1049.8H1240.3L1240.5 1052.8L1240.7 1057.8L1241 1069.8L1241.5 1099.8L1242 1152.6" stroke="#76ff8d"/>
<path d="M1197.4 1051.4H1240.3L1240.5 1054.4L1240.7 1059.4L1241 1071.4L1241.5 1101.4L1241.9 1152.6" stroke="#78ff87"/>
<path d="M1197.4 1053H1240.3L1240.5 1056L1240.7 1061L1241 1073L1241.5 1103L1241.9 1152.6" stroke="#7aff81"/>
<path d="M1197.4 1054.6H1240.3L1240.5 1057.6L1240.7 1062.6L1241 1074.6L1241.5 1104.6L1241.9 1152.6" stroke="#7cff7c"/>
<path d="M1197.4 1056.1H1240.3L1240.5 1059.1L1240.7 1064.1L1241 1076.1L1241.5 1106.1L1241.9 1152.6" stroke="#7eff76"/>
<path d="M1197.4 1057.7H1240.3L1240.5 1060.7L1240.7 1065.7L1241 1077.7L1241.5 1107.7L1241.9 1152.6" stroke="#80ff71"/>
<path d="M1197.4 1059.2H1240.3L1240.5 1062.2L1240.7 1067.2L1241 1079.2L1241.5 1109.2L1241.8 1152.6" stroke="#82ff6b"/>
<path d="M1197.4 1060.7H1240.3L1240.5 1063.7L1240.7 1068.7L1241 1080.7L1241.5 1110.7L1241.8 1152.6" stroke="#84ff66"/>
<path d="M1197.4 1062.3H1240.3L1240.5 1065.3L1240.7 1070.3L1241 1082.3L1241.5 1112.3L1241.8 1152.6" stroke="#86ff60"/>
<path d="M1197.4 1063.9H1240.3L1240.5 1066.9L1240.7 1071.9L1241 1083.9L1241.5 1113.9L1241.8 1152.6" stroke="#88ff5b"/>
<path d="M1197.4 1065.4H1240.3L1240.5 1068.4L1240.7 1073.4L1241 1085.4L1241.5 1115.4L1241.8 1152.6" stroke="#8aff55"/>
<path d="M1197.4 1067H1240.3L1240.5 1070L1240.7 1075L1241 1087L1241.4 1117L1241.8 1152.6" stroke="#8cff4f"/>
<path d="M1197.4 1068.5H1240.3L1240.5 1071.5L1240.7 1076.5L1240.9 1088.5L1241.4 1118.5L1241.7 1152.6" stroke="#8fff49" class="a"/>
<path d="M1197.4 1069.9H1240.3L1240.5 1072.9L1240.6 1077.9L1240.9 1089.9L1241.4 1119.9L1241.7 1152.6" stroke="#92ff42" class="a"/>
<path d="M1197.4 1071.2H1240.3L1240.5 1074.2L1240.6 1079.2L1240.9 1091.2L1241.3 1121.2L1241.6 1152.6" stroke="#95ff3c" class="a"/>
<path d="M1197.4 1072.5H1240.3L1240.4 1075.5L1240.6 1080.5L1240.8 1092.5L1241.3 1122.5L1241.6 1152.6" stroke="#98ff35" class="b"/>
<path d="M1197.4 1073.7H1240.3L1240.4 1076.7L1240.5 1081.7L1240.8 1093.7L1241.3 1123.7L1241.5 1152.6" stroke="#9bff2f" class="b"/>
<path d="M1197.4 1074.8H1240.4L1240.4 1077.8L1240.5 1082.8L1240.8 1094.8L1241.3 1124.8L1241.5 1152.6" stroke="#9eff28" class="c"/>
<path d="M1197.4 1075.8H1240.4L1240.4 1078.8L1240.5 1083.8L1240.8 1095.8L1241.3 1125.8L1241.5 1152.6" stroke="#a1ff22" class="c"/>
<path d="M1197.4 1076.8H1240.4L1240.4 1079.8L1240.5 1084.8L1240.8 1096.8L1241.3 1126.8L1241.5 1152.6" stroke="#a4ff1b" class="c"/>
<path d="M1197.4 1077.7H1240.4L1240.4 1080.7L1240.5 1085.7L1240.8 1097.7L1241.3 1127.7L1241.5 1152.6" stroke="#a7ff18" class="c"/>
<path d="M1197.4 1078.6H1240.4L1240.4 1081.6L1240.5 1086.6L1240.8 1098.6L1241.3 1128.6L1241.5 1152.6" stroke="#abff16" class="c"/>
<path d="M1197.4 1079.5H1240.4L1240.4 1082.5L1240.6 1087.5L1240.8 1099.5L1241.3 1129.5L1241.5 1152.6" stroke="#aeff14" class="c"/>
<path d="M1197.4 1080.3H1240.4L1240.4 1083.3L1240.6 1088.3L1240.8 1100.3L1241.3 1130.3L1241.5 1152.6" stroke="#b2ff12" class="c"/>
<path d="M1197.4 1081.2H1240.4L1240.4 1084.2L1240.6 1089.2L1240.8 1101.2L1241.3 1131.2L1241.5 1152.6" stroke="#b6ff10" class="c"/>
<path d="M1197.4 1082H1240.4L1240.4 1085L1240.6 1090L1240.8 1102L1241.3 1132L1241.5 1152.6" stroke="#b9ff0e" class="c"/>
<path d="M1197.4 1082.8H1240.4L1240.4 1085.8L1240.6 1090.8L1240.8 1102.8L1241.3 1132.8L1241.5 1152.6" stroke="#bdff0c" class="c"/>
<path d="M1197.4 1083.6H1240.4L1240.4 1086.6L1240.6 1091.6L1240.8 1103.6L1241.3 1133.6L1241.4 1152.6" stroke="#c0ff0a" class="c"/>
<path d="M1197.4 1084.5H1240.4L1240.4 1087.5L1240.6 1092.5L1240.8 1104.5L1241.3 1134.5L1241.4 1152.6" stroke="#c4ff08" class="c"/>
<path d="M1197.4 1085.3H1240.4L1240.4 1088.3L1240.6 1093.3L1240.8 1105.3L1241.3 1135.3L1241.4 1152.6" stroke="#c7ff06" class="c"/>
<path d="M1197.4 1086.2H1240.4L1240.4 1089.2L1240.6 1094.2L1240.8 1106.2L1241.3 1136.2L1241.4 1152.6" stroke="#cbff04" class="c"/>
<path d="M1197.4 1087.1H1240.4L1240.4 1090.1L1240.6 1095.1L1240.8 1107.1L1241.3 1137.1L1241.4 1152.6" stroke="#ceff02" class="c"/>
<path d="M1197.4 1088H1240.4L1240.4 1091L1240.6 1096L1240.8 1108L1241.4 1152.6" stroke="#d2ff00" class="c"/>
<path d="M1197.4 1088.8H1240.4L1240.4 1091.8L1240.6 1096.8L1240.8 1108.8L1241.4 1152.6" stroke="#d5ff00" class="c"/>
<path d="M1197.4 1089.7H1240.4L1240.4 1092.7L1240.6 1097.7L1240.8 1109.7L1241.4 1152.6" stroke="#d9ff00" class="c"/>
<path d="M1197.4 1090.6H1240.4L1240.4 1093.6L1240.6 1098.6L1240.8 1110.6L1241.4 1152.6" stroke="#ddff00" class="c"/>
<path d="M1197.4 1091.4H1240.4L1240.4 1094.4L1240.6 1099.4L1240.8 1111.4L1241.4 1152.6" stroke="#e0ff00" class="c"/>
<path d="M1197.4 1092.3H1240.4L1240.4 1095.3L1240.6 1100.3L1240.8 1112.3L1241.4 1152.6" stroke="#e4ff00" class="c"/>
<path d="M1197.4 1093.2H1240.4L1240.4 1096.2L1240.6 1101.2L1240.8 1113.2L1241.3 1152.6" stroke="#e8ff00" class="c"/>
<path d="M1197.4 1094.1H1240.4L1240.4 1097.1L1240.6 1102.1L1240.8 1114.1L1241.3 1152.6" stroke="#ebff00" class="c"/>
<path d="M1197.4 1094.9H1240.4L1240.4 1097.9L1240.6 1102.9L1240.8 1114.9L1241.3 1152.6" stroke="#efff00" class="c"/>
<path d="M1197.4 1095.8H1240.4L1240.4 1098.8L1240.6 1103.8L1240.8 1115.8L1241.3 1152.6" stroke="#f3ff00" class="c"/>
<path d="M1197.4 1096.8H1240.4L1240.5 1099.8L1240.6 1104.8L1240.8 1116.8L1241.3 1152.6" stroke="#f7ff00" class="c"/>
<path d="M1197.4 1097.7H1240.4L1240.5 1100.7L1240.6 1105.7L1240.8 1117.7L1241.3 1152.6" stroke="#faff00" class="c"/>
<path d="M1197.4 1098.6H1240.4L1240.5 1101.6L1240.6 1106.6L1240.8 1118.6L1241.3 1152.6" stroke="#feff00" class="c"/>
<path d="M1197.4 1099.6H1240.4L1240.5 1102.6L1240.6 1107.6L1240.8 1119.6L1241.3 1152.6" stroke="#fff900" class="c"/>
<path d="M1197.4 1100.6H1240.4L1240.5 1103.6L1240.6 1108.6L1240.8 1120.6L1241.3 1152.6" stroke="#fff000" class="c"/>
<path d="M1197.4 1101.7H1240.4L1240.5 1104.7L1240.6 1109.7L1240.8 1121.7L1241.2 1152.6" stroke="#ffe700" class="c"/>
<path d="M1197.4 1102.8H1240.4L1240.5 1105.8L1240.6 1110.8L1240.8 1122.8L1241.2 1152.6" stroke="#ffde00" class="c"/>
<path d="M1197.4 1103.9H1240.4L1240.5 1106.9L1240.6 1111.9L1240.8 1123.9L1241.2 1152.6" stroke="#ffd500" class="b"/>
<path d="M1197.4 1105H1240.4L1240.5 1108L1240.6 1113L1240.8 1125L1241.2 1152.6" stroke="#ffcc00" class="b"/>
<path d="M1197.4 1106.1H1240.4L1240.5 1109.1L1240.6 1114.1L1240.8 1126.1L1241.2 1152.6" stroke="#ffc300" class="c"/>
<path d="M1197.4 1107.2H1240.4L1240.5 1110.2L1240.6 1115.2L1240.8 1127.2L1241.2 1152.6" stroke="#ffba00" class="c"/>
<path d="M1197.4 1108.2H1240.4L1240.5 1111.2L1240.6 1116.2L1240.8 1128.2L1241.2 1152.6" stroke="#ffb000" class="c"/>
<path d="M1197.4 1109.2H1240.4L1240.5 1112.2L1240.6 1117.2L1240.8 1129.2L1241.2 1152.6" stroke="#ffa700" class="c"/>
<path d="M1197.4 1110.2H1240.4L1240.5 1113.2L1240.6 1118.2L1240.8 1130.2L1241.1 1152.6" stroke="#ff9d00" class="c"/>
<path d="M1197.4 1111.1H1240.4L1240.5 1114.1L1240.6 1119.1L1240.8 1131.1L1241.1 1152.6" stroke="#ff9400" class="c"/>
<path d="M1197.4 1112H1240.4L1240.5 1115L1240.6 1120L1240.8 1132L1241.1 1152.6" stroke="#ff8b00" class="c"/>
<path d="M1197.4 1112.9H1240.4L1240.5 1115.9L1240.6 1120.9L1240.8 1132.9L1241.1 1152.6" stroke="#ff8100" class="c"/>
<path d="M1197.4 1113.8H1240.4L1240.5 1116.8L1240.6 1121.8L1240.8 1133.8L1241.1 1152.6" stroke="#ff7c00" class="c"/>
<path d="M1197.4 1114.6H1240.4L1240.5 1117.6L1240.6 1122.6L1240.8 1134.6L1241.1 1152.6" stroke="#ff7600" class="c"/>
<path d="M1197.4 1115.5H1240.4L1240.5 1118.5L1240.6 1123.5L1240.8 1135.5L1241.1 1152.6" stroke="#ff7100" class="c"/>
<path d="M1197.4 1116.3H1240.4L1240.5 1119.3L1240.6 1124.3L1240.8 1136.3L1241.1 1152.6" stroke="#ff6b00" class="c"/>
<path d="M1197.4 1117.2H1240.4L1240.5 1120.2L1240.6 1125.2L1240.8 1137.2L1241 1152.6" stroke="#ff6500" class="c"/>
<path d="M1197.4 1118H1240.4L1240.5 1121L1240.6 1126L1241 1152.6" stroke="#ff6000" class="c"/>
<path d="M1197.4 1118.8H1240.4L1240.5 1121.8L1240.6 1126.8L1241 1152.6" stroke="#ff5a00" class="c"/>
<path d="M1197.4 1119.6H1240.4L1240.5 1122.6L1240.6 1127.6L1241 1152.6" stroke="#ff5400" class="c"/>
<path d="M1197.4 1120.4H1240.4L1240.5 1123.4L1240.6 1128.4L1241 1152.6" stroke="#ff4f00" class="c"/>
<path d="M1197.4 1121.2H1240.4L1240.5 1124.2L1240.6 1129.2L1241 1152.6" stroke="#ff4900" class="c"/>
<path d="M1197.4 1122H1240.4L1240.5 1125L1240.6 1130L1241 1152.6" stroke="#ff4300" class="c"/>
<path d="M1197.4 1122.7H1240.4L1240.5 1125.7L1240.6 1130.7L1241 1152.6" stroke="#ff3e00" class="c"/>
<path d="M1197.4 1123.5H1240.4L1240.5 1126.5L1240.6 1131.5L1241 1152.6" stroke="#ff3800" class="c"/>
<path d="M1197.4 1124.2H1240.4L1240.5 1127.2L1240.6 1132.2L1240.9 1152.6" stroke="#ff3300" class="c"/>
<path d="M1197.4 1125H1240.4L1240.5 1128L1240.6 1133L1240.9 1152.6" stroke="#ff2f00" class="c"/>
<path d="M1197.4 1125.7H1240.4L1240.5 1128.7L1240.6 1133.7L1240.9 1152.6" stroke="#ff2b00" class="c"/>
<path d="M1197.4 1126.4H1240.4L1240.5 1129.4L1240.6 1134.4L1240.9 1152.6" stroke="#ff2800" class="c"/>
<path d="M1197.4 1127.1H1240.4L1240.5 1130.1L1240.6 1135.1L1240.9 1152.6" stroke="#ff2500" class="c"/>
<path d="M1197.4 1127.8H1240.4L1240.5 1130.8L1240.6 1135.8L1240.9 1152.6" stroke="#ff2100" class="c"/>
<path d="M1197.4 1128.5H1240.4L1240.5 1131.5L1240.6 1136.5L1240.9 1152.6" stroke="#ff1e00" class="c"/>
<path d="M1197.4 1129.2H1240.4L1240.5 1132.2L1240.6 1137.2L1240.9 1152.6" stroke="#ff1a00" class="c"/>
<path d="M1197.4 1129.8H1240.4L1240.5 1132.8L1240.9 1152.6" stroke="#ff1700" class="c"/>
<path d="M1197.4 1130.4H1240.4L1240.5 1133.4L1240.8 1152.6" stroke="#ff1300" class="c"/>
<path d="M1197.4 1131H1240.4L1240.5 1134L1240.8 1152.6" stroke="#ff1000" class="c"/>
<path d="M1197.4 1131.6H1240.4L1240.5 1134.6L1240.8 1152.6" stroke="#ff0c00" class="c"/>
<path d="M1197.4 1132.2H1240.4L1240.5 1135.2L1240.8 1152.6" stroke="#ff0a00" class="c"/>
<path d="M1197.4 1132.8H1240.4L1240.5 1135.8L1240.8 1152.6" stroke="#fe0900" class="c"/>
<path d="M1197.4 1133.4H1240.4L1240.5 1136.4L1240.8 1152.6" stroke="#fe0800" class="c"/>
<path d="M1197.4 1133.9H1240.4L1240.5 1136.9L1240.8 1152.6" stroke="#fd0600" class="c"/>
<path d="M1197.4 1134.5H1240.4L1240.5 1137.5L1240.8 1152.6" stroke="#fd0500" class="c"/>
<path d="M1197.4 1135.1H1240.4L1240.8 1152.6" stroke="#fc0400" class="c"/>
<path d="M1197.4 1135.7H1240.4L1240.8 1152.6" stroke="#fc0300" class="c"/>
<path d="M1197.4 1136.3H1240.4L1240.8 1152.6" stroke="#fb0200" class="c"/>
<path d="M1197.4 1136.9H1240.4L1240.7 1152.6" stroke="#fb0100" class="c"/>
<path d="M1197.4 1137.5H1240.4L1240.7 1152.6" stroke="#fa0000" class="c"/>
<path d="M1197.4 1138.1H1240.4L1240.7 1152.6" stroke="#f50000" class="c"/>
<path d="M1197.4 1138.8H1240.4L1240.7 1152.6" stroke="#f00000" class="c"/>
<path d="M1197.4 1139.4H1240.4L1240.7 1152.6" stroke="#eb0000" class="c"/>
<path d="M1197.4 1140.1H1240.4L1240.7 1152.6" stroke="#e60000" class="c"/>
<path d="M1197.4 1140.8H1240.4L1240.7 1152.6" stroke="#e10000" class="c"/>
<path d="M1197.4 1141.5H1240.4L1240.7 1152.6" stroke="#dc0000" class="c"/>
<path d="M1197.4 1142.2H1240.4L1240.6 1152.6" stroke="#d70000" class="c"/>
<path d="M1197.4 1142.9H1240.4L1240.6 1152.6" stroke="#d20000" class="c"/>
<path d="M1197.4 1143.6H1240.4L1240.6 1152.6" stroke="#cd0000" class="c"/>
<path d="M1197.4 1144.2H1240.4L1240.6 1152.6" stroke="#c80000" class="c"/>
<path d="M1197.4 1144.8H1240.4L1240.6 1152.6" stroke="#c30000" class="c"/>
<path d="M1197.4 1145.4H1240.4L1240.6 1152.6" stroke="#be0000" class="c"/>
<path d="M1197.4 1145.9H1240.4L1240.6 1152.6" stroke="#b90000" class="c"/>
<path d="M1197.4 1146.4H1240.4L1240.6 1152.6" stroke="#b40000" class="c"/>
<path d="M1197.4 1147H1240.4L1240.6 1152.6" stroke="#af0000" class="c"/>
<path d="M1197.4 1147.5H1240.4L1240.6 1152.6" stroke="#aa0000" class="c"/>
<path d="M1197.4 1148H1240.4L1240.5 1152.6" stroke="#a50000" class="c"/>
<path d="M1197.4 1148.5H1240.4L1240.5 1152.6" stroke="#a00000" class="c"/>
<path d="M1197.4 1148.9H1240.4L1240.5 1152.6" stroke="#9b0000" class="c"/>
<path d="M1197.4 1149.4H1240.4L1240.5 1152.6" stroke="#960000" class="c"/>
<path d="M1197.4 1149.8H1240.4L1240.5 1152.6" stroke="#910000" class="c"/>
<path d="M1197.4 1150.2H1240.4L1240.5 1152.6" stroke="#8c0000" class="c"/>
<path d="M1197.4 1150.6H1240.4L1240.5 1152.6" stroke="#870000" class="c"/>
<path d="M1197.4 1151H1240.4L1240.5 1152.6" stroke="#820000" class="c"/>
</g>
<path d="M1470.9 883.5H1475.5" stroke="#000" stroke-width="1.2" fill="none"/>
<path class="cv" clip-path="url(#cl7)" stroke-linecap="round" d="M1244.5 1152C1245.7 1151.5 1249.2 1150.5 1251.5 1148.8C1253.8 1147.1 1256.2 1145.2 1258.6 1141.7C1261 1138.2 1263.3 1133.1 1265.7 1127.6C1268.1 1122.1 1270 1117 1272.8 1108.7C1275.6 1100.4 1278.8 1089.3 1282.3 1077.9C1285.8 1066.5 1290.2 1052.3 1294.1 1040.1C1298 1027.9 1302 1015.3 1305.9 1004.7C1309.8 994.1 1313.8 984.6 1317.7 976.3C1321.6 968 1325.6 961.4 1329.5 955.1C1333.4 948.8 1337.4 943.4 1341.3 938.5C1345.2 933.6 1349.1 929.2 1353.1 925.5C1357 921.8 1361 919.1 1365 916.1C1369 913.1 1372.9 910.2 1376.8 907.8C1380.7 905.4 1384.7 903.8 1388.6 901.9C1392.5 900 1396.5 898.1 1400.4 896.5C1404.3 894.9 1409.1 893.4 1412.2 892.4C1415.3 891.4 1414.3 891.7 1419.3 890.6C1424.3 889.5 1434.3 886.8 1442 885.6C1449.7 884.4 1460.6 883.9 1465.4 883.5C1470.2 883.1 1469.9 883.5 1470.9 883.5"/>
<rect x="1418.9" y="705.8" width="46" height="425.3" fill="url(#jet)" stroke="#111" stroke-width="1.1"/>
<path d="M1418.9 730.3h4.5M1464.9 730.3h-4.5" stroke="#000" stroke-opacity=".75" stroke-width="1" fill="none"/>
<text class="tk" x="1411.3" y="740.7" text-anchor="end">0.7</text>
<path d="M1418.9 788h4.5M1464.9 788h-4.5" stroke="#000" stroke-opacity=".75" stroke-width="1" fill="none"/>
<text class="tk" x="1411.3" y="798.4" text-anchor="end">0.6</text>
<path d="M1418.9 845.7h4.5M1464.9 845.7h-4.5" stroke="#000" stroke-opacity=".75" stroke-width="1" fill="none"/>
<text class="tk" x="1411.3" y="856.1" text-anchor="end">0.5</text>
<path d="M1418.9 903.4h4.5M1464.9 903.4h-4.5" stroke="#000" stroke-opacity=".75" stroke-width="1" fill="none"/>
<text class="tk" x="1411.3" y="913.8" text-anchor="end">0.4</text>
<path d="M1418.9 961.1h4.5M1464.9 961.1h-4.5" stroke="#000" stroke-opacity=".75" stroke-width="1" fill="none"/>
<text class="tk" x="1411.3" y="971.5" text-anchor="end">0.3</text>
<path d="M1418.9 1018.8h4.5M1464.9 1018.8h-4.5" stroke="#000" stroke-opacity=".75" stroke-width="1" fill="none"/>
<text class="tk" x="1411.3" y="1029.2" text-anchor="end">0.2</text>
<path d="M1418.9 1076.5h4.5M1464.9 1076.5h-4.5" stroke="#000" stroke-opacity=".75" stroke-width="1" fill="none"/>
<text class="tk" x="1411.3" y="1086.9" text-anchor="end">0.1</text>
<rect class="ax" x="1196.4" y="683.3" width="279.1" height="469.5"/>
<text class="tk" x="1187.6" y="693.8" text-anchor="end">0.7</text>
<text class="tk" x="1188.8" y="1164.6" text-anchor="end">0</text>
<text class="tk" x="1196.4" y="1187.6" text-anchor="middle">0</text>
<text class="tk" x="1475.8" y="1187.2" text-anchor="middle">1</text>
<text class="gk" x="1333.9" y="1223.3" text-anchor="middle" stroke-width=".3">ξ</text>
<text class="gk" stroke-width=".7" text-anchor="middle" transform="translate(1132.9 919.3) rotate(-90)">η</text>
<text class="tk" x="1216.1" y="740.7">t<tspan x="1226.7" dy="4" font-size="33px" font-weight="bold" textLength="13.1" lengthAdjust="spacingAndGlyphs">=</tspan><tspan x="1242.1" dy="-4">3.75</tspan></text>
</g>
</svg></body></html>
